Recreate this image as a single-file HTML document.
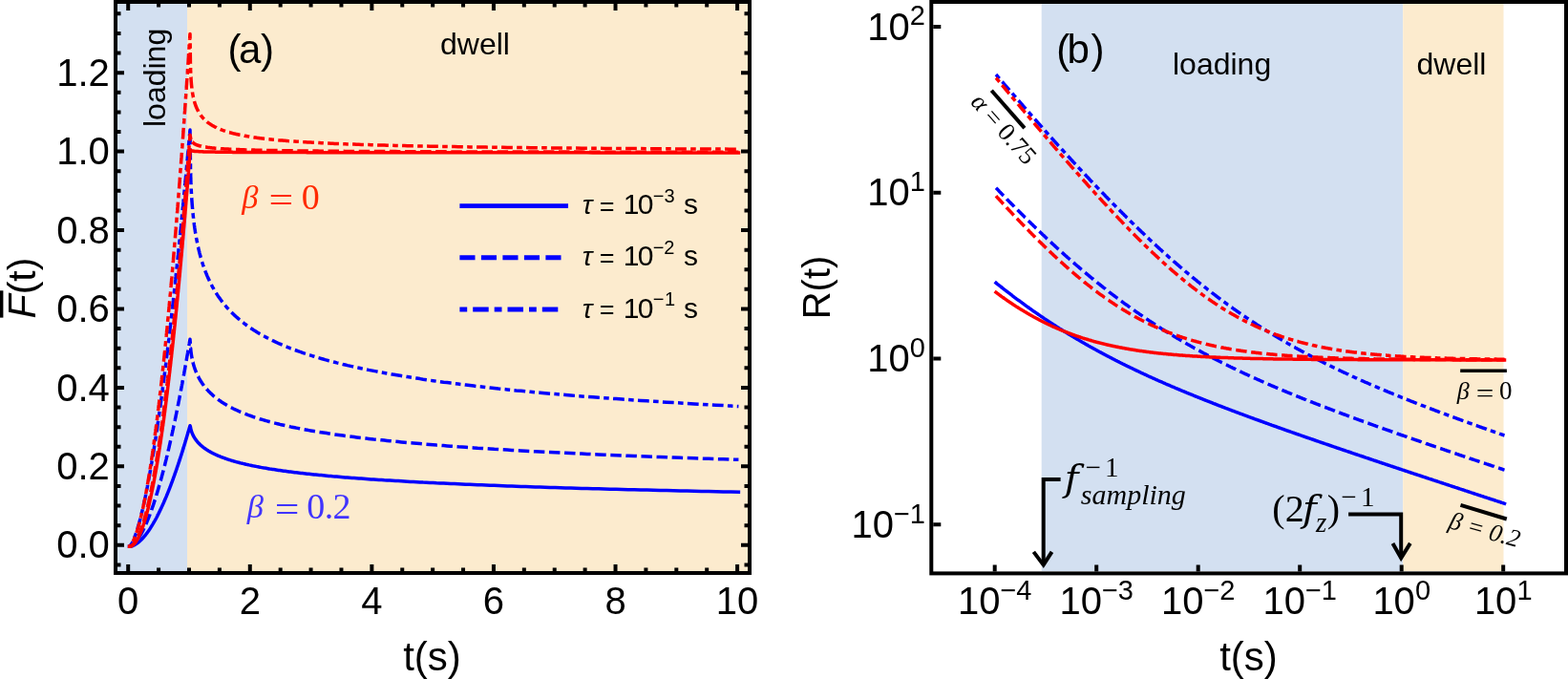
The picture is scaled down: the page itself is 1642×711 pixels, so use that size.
<!DOCTYPE html>
<html><head><meta charset="utf-8"><title>figure</title>
<style>html,body{margin:0;padding:0;background:#fff;}svg{display:block;}</style>
</head><body>
<svg width="1642" height="711" viewBox="0 0 1642 711"><rect x="123" y="4" width="73" height="594" fill="#d3e0f1"/>
<rect x="196" y="4" width="587" height="594" fill="#fcebce"/>
<path d="M135.5,572.2 L135.7,572.2 L135.8,572.2 L136.0,572.2 L136.1,572.2 L136.3,572.1 L136.5,572.1 L136.6,572.1 L136.8,572.1 L136.9,572.0 L137.1,572.0 L137.2,572.0 L137.4,571.9 L137.6,571.9 L137.7,571.8 L137.9,571.8 L138.0,571.8 L138.2,571.7 L138.4,571.7 L138.5,571.6 L138.7,571.5 L138.8,571.5 L139.0,571.4 L139.2,571.4 L139.3,571.3 L139.5,571.2 L139.6,571.2 L139.8,571.1 L140.0,571.0 L140.1,571.0 L140.3,570.9 L140.4,570.8 L140.6,570.7 L140.7,570.6 L140.9,570.6 L141.1,570.5 L141.2,570.4 L141.4,570.3 L141.5,570.2 L141.7,570.1 L141.9,570.0 L142.0,569.9 L142.2,569.8 L142.3,569.7 L142.5,569.6 L142.7,569.5 L142.8,569.4 L143.0,569.3 L143.1,569.2 L143.3,569.1 L143.5,569.0 L143.6,568.9 L143.8,568.8 L143.9,568.6 L144.1,568.5 L144.2,568.4 L144.4,568.3 L144.6,568.2 L144.7,568.0 L144.9,567.9 L145.0,567.8 L145.2,567.6 L145.4,567.5 L145.5,567.4 L145.7,567.2 L145.8,567.1 L146.0,567.0 L146.2,566.8 L146.3,566.7 L146.5,566.5 L146.6,566.4 L146.8,566.3 L147.0,566.1 L147.1,566.0 L147.3,565.8 L147.4,565.7 L147.6,565.5 L147.7,565.3 L147.9,565.2 L148.1,565.0 L148.2,564.9 L148.4,564.7 L148.5,564.5 L148.7,564.4 L148.9,564.2 L149.0,564.0 L149.2,563.9 L149.3,563.7 L149.5,563.5 L149.7,563.4 L149.8,563.2 L150.0,563.0 L150.1,562.8 L150.3,562.6 L150.5,562.5 L150.6,562.3 L150.8,562.1 L150.9,561.9 L151.1,561.7 L151.2,561.5 L151.4,561.3 L151.6,561.1 L151.7,561.0 L151.9,560.8 L152.0,560.6 L152.2,560.4 L152.4,560.2 L152.5,560.0 L152.7,559.8 L152.8,559.6 L153.0,559.3 L153.2,559.1 L153.3,558.9 L153.5,558.7 L153.6,558.5 L153.8,558.3 L154.0,558.1 L154.1,557.9 L154.3,557.7 L154.4,557.4 L154.6,557.2 L154.7,557.0 L154.9,556.8 L155.1,556.5 L155.2,556.3 L155.4,556.1 L155.5,555.9 L155.7,555.6 L155.9,555.4 L156.0,555.2 L156.2,554.9 L156.3,554.7 L156.5,554.5 L156.7,554.2 L156.8,554.0 L157.0,553.7 L157.1,553.5 L157.3,553.3 L157.5,553.0 L157.6,552.8 L157.8,552.5 L157.9,552.3 L158.1,552.0 L158.2,551.8 L158.4,551.5 L158.6,551.3 L158.7,551.0 L158.9,550.7 L159.0,550.5 L159.2,550.2 L159.4,550.0 L159.5,549.7 L159.7,549.4 L159.8,549.2 L160.0,548.9 L160.2,548.6 L160.3,548.4 L160.5,548.1 L160.6,547.8 L160.8,547.5 L161.0,547.3 L161.1,547.0 L161.3,546.7 L161.4,546.4 L161.6,546.2 L161.7,545.9 L161.9,545.6 L162.1,545.3 L162.2,545.0 L162.4,544.7 L162.5,544.4 L162.7,544.2 L162.9,543.9 L163.0,543.6 L163.2,543.3 L163.3,543.0 L163.5,542.7 L163.7,542.4 L163.8,542.1 L164.0,541.8 L164.1,541.5 L164.3,541.2 L164.5,540.9 L164.6,540.6 L164.8,540.3 L164.9,540.0 L165.1,539.6 L165.2,539.3 L165.4,539.0 L165.6,538.7 L165.7,538.4 L165.9,538.1 L166.0,537.8 L166.2,537.4 L166.4,537.1 L166.5,536.8 L166.7,536.5 L166.8,536.2 L167.0,535.8 L167.2,535.5 L167.3,535.2 L167.5,534.8 L167.6,534.5 L167.8,534.2 L168.0,533.8 L168.1,533.5 L168.3,533.2 L168.4,532.8 L168.6,532.5 L168.7,532.2 L168.9,531.8 L169.1,531.5 L169.2,531.1 L169.4,530.8 L169.5,530.4 L169.7,530.1 L169.9,529.8 L170.0,529.4 L170.2,529.1 L170.3,528.7 L170.5,528.3 L170.7,528.0 L170.8,527.6 L171.0,527.3 L171.1,526.9 L171.3,526.6 L171.5,526.2 L171.6,525.8 L171.8,525.5 L171.9,525.1 L172.1,524.7 L172.2,524.4 L172.4,524.0 L172.6,523.6 L172.7,523.3 L172.9,522.9 L173.0,522.5 L173.2,522.1 L173.4,521.8 L173.5,521.4 L173.7,521.0 L173.8,520.6 L174.0,520.3 L174.2,519.9 L174.3,519.5 L174.5,519.1 L174.6,518.7 L174.8,518.3 L175.0,517.9 L175.1,517.6 L175.3,517.2 L175.4,516.8 L175.6,516.4 L175.7,516.0 L175.9,515.6 L176.1,515.2 L176.2,514.8 L176.4,514.4 L176.5,514.0 L176.7,513.6 L176.9,513.2 L177.0,512.8 L177.2,512.4 L177.3,512.0 L177.5,511.6 L177.7,511.2 L177.8,510.8 L178.0,510.3 L178.1,509.9 L178.3,509.5 L178.5,509.1 L178.6,508.7 L178.8,508.3 L178.9,507.8 L179.1,507.4 L179.2,507.0 L179.4,506.6 L179.6,506.2 L179.7,505.7 L179.9,505.3 L180.0,504.9 L180.2,504.5 L180.4,504.0 L180.5,503.6 L180.7,503.2 L180.8,502.7 L181.0,502.3 L181.2,501.9 L181.3,501.4 L181.5,501.0 L181.6,500.5 L181.8,500.1 L181.9,499.7 L182.1,499.2 L182.3,498.8 L182.4,498.3 L182.6,497.9 L182.7,497.4 L182.9,497.0 L183.1,496.5 L183.2,496.1 L183.4,495.6 L183.5,495.2 L183.7,494.7 L183.9,494.3 L184.0,493.8 L184.2,493.4 L184.3,492.9 L184.5,492.4 L184.7,492.0 L184.8,491.5 L185.0,491.1 L185.1,490.6 L185.3,490.1 L185.4,489.7 L185.6,489.2 L185.8,488.7 L185.9,488.2 L186.1,487.8 L186.2,487.3 L186.4,486.8 L186.6,486.4 L186.7,485.9 L186.9,485.4 L187.0,484.9 L187.2,484.4 L187.4,484.0 L187.5,483.5 L187.7,483.0 L187.8,482.5 L188.0,482.0 L188.2,481.5 L188.3,481.0 L188.5,480.6 L188.6,480.1 L188.8,479.6 L188.9,479.1 L189.1,478.6 L189.3,478.1 L189.4,477.6 L189.6,477.1 L189.7,476.6 L189.9,476.1 L190.1,475.6 L190.2,475.1 L190.4,474.6 L190.5,474.1 L190.7,473.6 L190.9,473.1 L191.0,472.6 L191.2,472.1 L191.3,471.5 L191.5,471.0 L191.7,470.5 L191.8,470.0 L192.0,469.5 L192.1,469.0 L192.3,468.5 L192.4,467.9 L192.6,467.4 L192.8,466.9 L192.9,466.4 L193.1,465.9 L193.2,465.3 L193.4,464.8 L193.6,464.3 L193.7,463.8 L193.9,463.2 L194.0,462.7 L194.2,462.2 L194.4,461.6 L194.5,461.1 L194.7,460.6 L194.8,460.0 L195.0,459.5 L195.2,459.0 L195.3,458.4 L195.5,457.9 L195.6,457.3 L195.8,456.8 L195.9,456.3 L196.1,455.7 L196.3,455.2 L196.4,454.6 L196.6,454.1 L196.7,453.5 L196.9,453.0 L197.1,452.4 L197.2,451.9 L197.4,451.3 L197.5,450.8 L197.7,450.2 L197.9,449.7 L198.0,449.1 L198.2,448.5 L198.3,448.0 L198.5,447.4 L198.7,446.9 L198.8,446.3 L199.0,445.7 L199.4,446.8 L199.4,446.8 L199.4,446.8 L199.4,446.8 L199.4,446.8 L199.4,446.8 L199.4,446.9 L199.4,446.9 L199.4,446.9 L199.4,446.9 L199.4,446.9 L199.4,446.9 L199.4,446.9 L199.4,447.0 L199.4,447.0 L199.4,447.0 L199.4,447.0 L199.5,447.0 L199.5,447.0 L199.5,447.1 L199.5,447.1 L199.5,447.1 L199.5,447.1 L199.5,447.1 L199.5,447.2 L199.5,447.2 L199.5,447.2 L199.5,447.2 L199.5,447.2 L199.5,447.2 L199.5,447.3 L199.5,447.3 L199.5,447.3 L199.5,447.3 L199.5,447.3 L199.5,447.4 L199.5,447.4 L199.5,447.4 L199.5,447.4 L199.5,447.4 L199.5,447.5 L199.5,447.5 L199.5,447.5 L199.5,447.5 L199.5,447.5 L199.5,447.6 L199.5,447.6 L199.5,447.6 L199.5,447.6 L199.5,447.6 L199.5,447.7 L199.6,447.7 L199.6,447.7 L199.6,447.7 L199.6,447.8 L199.6,447.8 L199.6,447.8 L199.6,447.8 L199.6,447.9 L199.6,447.9 L199.6,447.9 L199.6,447.9 L199.6,448.0 L199.6,448.0 L199.6,448.0 L199.6,448.0 L199.6,448.0 L199.6,448.1 L199.6,448.1 L199.6,448.1 L199.6,448.2 L199.6,448.2 L199.6,448.2 L199.6,448.2 L199.7,448.3 L199.7,448.3 L199.7,448.3 L199.7,448.3 L199.7,448.4 L199.7,448.4 L199.7,448.4 L199.7,448.5 L199.7,448.5 L199.7,448.5 L199.7,448.5 L199.7,448.6 L199.7,448.6 L199.7,448.6 L199.7,448.7 L199.7,448.7 L199.7,448.7 L199.7,448.7 L199.8,448.8 L199.8,448.8 L199.8,448.8 L199.8,448.9 L199.8,448.9 L199.8,448.9 L199.8,449.0 L199.8,449.0 L199.8,449.0 L199.8,449.1 L199.8,449.1 L199.8,449.1 L199.8,449.2 L199.8,449.2 L199.9,449.2 L199.9,449.3 L199.9,449.3 L199.9,449.3 L199.9,449.4 L199.9,449.4 L199.9,449.5 L199.9,449.5 L199.9,449.5 L199.9,449.6 L199.9,449.6 L199.9,449.6 L200.0,449.7 L200.0,449.7 L200.0,449.8 L200.0,449.8 L200.0,449.8 L200.0,449.9 L200.0,449.9 L200.0,450.0 L200.0,450.0 L200.0,450.0 L200.1,450.1 L200.1,450.1 L200.1,450.2 L200.1,450.2 L200.1,450.2 L200.1,450.3 L200.1,450.3 L200.1,450.4 L200.2,450.4 L200.2,450.5 L200.2,450.5 L200.2,450.6 L200.2,450.6 L200.2,450.6 L200.2,450.7 L200.2,450.7 L200.3,450.8 L200.3,450.8 L200.3,450.9 L200.3,450.9 L200.3,451.0 L200.3,451.0 L200.3,451.1 L200.4,451.1 L200.4,451.2 L200.4,451.2 L200.4,451.3 L200.4,451.3 L200.4,451.4 L200.4,451.4 L200.5,451.5 L200.5,451.5 L200.5,451.6 L200.5,451.6 L200.5,451.7 L200.5,451.7 L200.6,451.8 L200.6,451.8 L200.6,451.9 L200.6,452.0 L200.6,452.0 L200.7,452.1 L200.7,452.1 L200.7,452.2 L200.7,452.2 L200.7,452.3 L200.8,452.4 L200.8,452.4 L200.8,452.5 L200.8,452.5 L200.8,452.6 L200.9,452.7 L200.9,452.7 L200.9,452.8 L200.9,452.8 L201.0,452.9 L201.0,453.0 L201.0,453.0 L201.0,453.1 L201.1,453.2 L201.1,453.2 L201.1,453.3 L201.1,453.3 L201.2,453.4 L201.2,453.5 L201.2,453.5 L201.2,453.6 L201.3,453.7 L201.3,453.8 L201.3,453.8 L201.3,453.9 L201.4,454.0 L201.4,454.0 L201.4,454.1 L201.5,454.2 L201.5,454.2 L201.5,454.3 L201.6,454.4 L201.6,454.5 L201.6,454.5 L201.7,454.6 L201.7,454.7 L201.7,454.8 L201.8,454.8 L201.8,454.9 L201.8,455.0 L201.9,455.1 L201.9,455.1 L201.9,455.2 L202.0,455.3 L202.0,455.4 L202.1,455.5 L202.1,455.5 L202.1,455.6 L202.2,455.7 L202.2,455.8 L202.3,455.9 L202.3,456.0 L202.3,456.0 L202.4,456.1 L202.4,456.2 L202.5,456.3 L202.5,456.4 L202.6,456.5 L202.6,456.6 L202.7,456.6 L202.7,456.7 L202.7,456.8 L202.8,456.9 L202.8,457.0 L202.9,457.1 L202.9,457.2 L203.0,457.3 L203.1,457.4 L203.1,457.5 L203.2,457.5 L203.2,457.6 L203.3,457.7 L203.3,457.8 L203.4,457.9 L203.4,458.0 L203.5,458.1 L203.6,458.2 L203.6,458.3 L203.7,458.4 L203.7,458.5 L203.8,458.6 L203.9,458.7 L203.9,458.8 L204.0,458.9 L204.1,459.0 L204.1,459.1 L204.2,459.2 L204.3,459.3 L204.3,459.4 L204.4,459.5 L204.5,459.6 L204.6,459.7 L204.6,459.9 L204.7,460.0 L204.8,460.1 L204.9,460.2 L204.9,460.3 L205.0,460.4 L205.1,460.5 L205.2,460.6 L205.3,460.7 L205.4,460.8 L205.4,461.0 L205.5,461.1 L205.6,461.2 L205.7,461.3 L205.8,461.4 L205.9,461.5 L206.0,461.7 L206.1,461.8 L206.2,461.9 L206.3,462.0 L206.4,462.1 L206.5,462.2 L206.6,462.4 L206.7,462.5 L206.8,462.6 L206.9,462.7 L207.0,462.9 L207.1,463.0 L207.2,463.1 L207.3,463.2 L207.4,463.4 L207.6,463.5 L207.7,463.6 L207.8,463.7 L207.9,463.9 L208.0,464.0 L208.2,464.1 L208.3,464.3 L208.4,464.4 L208.5,464.5 L208.7,464.6 L208.8,464.8 L208.9,464.9 L209.1,465.0 L209.2,465.2 L209.3,465.3 L209.5,465.5 L209.6,465.6 L209.8,465.7 L209.9,465.9 L210.1,466.0 L210.2,466.1 L210.4,466.3 L210.5,466.4 L210.7,466.6 L210.9,466.7 L211.0,466.8 L211.2,467.0 L211.4,467.1 L211.5,467.3 L211.7,467.4 L211.9,467.6 L212.1,467.7 L212.2,467.9 L212.4,468.0 L212.6,468.1 L212.8,468.3 L213.0,468.4 L213.2,468.6 L213.4,468.7 L213.6,468.9 L213.8,469.0 L214.0,469.2 L214.2,469.3 L214.4,469.5 L214.6,469.7 L214.8,469.8 L215.1,470.0 L215.3,470.1 L215.5,470.3 L215.7,470.4 L216.0,470.6 L216.2,470.7 L216.4,470.9 L216.7,471.1 L216.9,471.2 L217.2,471.4 L217.4,471.5 L217.7,471.7 L217.9,471.8 L218.2,472.0 L218.5,472.2 L218.8,472.3 L219.0,472.5 L219.3,472.7 L219.6,472.8 L219.9,473.0 L220.2,473.2 L220.5,473.3 L220.8,473.5 L221.1,473.6 L221.4,473.8 L221.7,474.0 L222.0,474.1 L222.3,474.3 L222.6,474.5 L223.0,474.7 L223.3,474.8 L223.7,475.0 L224.0,475.2 L224.3,475.3 L224.7,475.5 L225.1,475.7 L225.4,475.8 L225.8,476.0 L226.2,476.2 L226.6,476.4 L226.9,476.5 L227.3,476.7 L227.7,476.9 L228.1,477.1 L228.5,477.2 L228.9,477.4 L229.4,477.6 L229.8,477.8 L230.2,477.9 L230.7,478.1 L231.1,478.3 L231.6,478.5 L232.0,478.7 L232.5,478.8 L232.9,479.0 L233.4,479.2 L233.9,479.4 L234.4,479.5 L234.9,479.7 L235.4,479.9 L235.9,480.1 L236.4,480.3 L236.9,480.4 L237.5,480.6 L238.0,480.8 L238.6,481.0 L239.1,481.2 L239.7,481.4 L240.3,481.5 L240.8,481.7 L241.4,481.9 L242.0,482.1 L242.6,482.3 L243.2,482.5 L243.9,482.6 L244.5,482.8 L245.1,483.0 L245.8,483.2 L246.4,483.4 L247.1,483.6 L247.8,483.8 L248.5,483.9 L249.2,484.1 L249.9,484.3 L250.6,484.5 L251.3,484.7 L252.0,484.9 L252.8,485.1 L253.5,485.2 L254.3,485.4 L255.1,485.6 L255.9,485.8 L256.7,486.0 L257.5,486.2 L258.3,486.4 L259.1,486.6 L260.0,486.7 L260.8,486.9 L261.7,487.1 L262.6,487.3 L263.5,487.5 L264.4,487.7 L265.3,487.9 L266.3,488.1 L267.2,488.2 L268.2,488.4 L269.1,488.6 L270.1,488.8 L271.1,489.0 L272.1,489.2 L273.2,489.4 L274.2,489.6 L275.3,489.8 L276.4,489.9 L277.4,490.1 L278.6,490.3 L279.7,490.5 L280.8,490.7 L282.0,490.9 L283.1,491.1 L284.3,491.3 L285.5,491.5 L286.7,491.6 L288.0,491.8 L289.2,492.0 L290.5,492.2 L291.8,492.4 L293.1,492.6 L294.4,492.8 L295.8,493.0 L297.1,493.2 L298.5,493.3 L299.9,493.5 L301.3,493.7 L302.8,493.9 L304.3,494.1 L305.7,494.3 L307.2,494.5 L308.8,494.7 L310.3,494.8 L311.9,495.0 L313.5,495.2 L315.1,495.4 L316.7,495.6 L318.4,495.8 L320.1,496.0 L321.8,496.2 L323.5,496.3 L325.3,496.5 L327.1,496.7 L328.9,496.9 L330.7,497.1 L332.6,497.3 L334.4,497.5 L336.4,497.6 L338.3,497.8 L340.3,498.0 L342.2,498.2 L344.3,498.4 L346.3,498.6 L348.4,498.8 L350.5,498.9 L352.6,499.1 L354.8,499.3 L357.0,499.5 L359.2,499.7 L361.5,499.9 L363.8,500.0 L366.1,500.2 L368.5,500.4 L370.9,500.6 L373.3,500.8 L375.8,501.0 L378.3,501.1 L380.8,501.3 L383.4,501.5 L386.0,501.7 L388.6,501.9 L391.3,502.0 L394.0,502.2 L396.8,502.4 L399.5,502.6 L402.4,502.8 L405.2,502.9 L408.2,503.1 L411.1,503.3 L414.1,503.5 L417.1,503.6 L420.2,503.8 L423.4,504.0 L426.5,504.2 L429.7,504.4 L433.0,504.5 L436.3,504.7 L439.7,504.9 L443.1,505.1 L446.5,505.2 L450.0,505.4 L453.5,505.6 L457.1,505.8 L460.8,505.9 L464.5,506.1 L468.2,506.3 L472.0,506.5 L475.9,506.6 L479.8,506.8 L483.8,507.0 L487.8,507.2 L491.9,507.3 L496.0,507.5 L500.2,507.7 L504.5,507.8 L508.8,508.0 L513.2,508.2 L517.6,508.3 L522.1,508.5 L526.7,508.7 L531.3,508.9 L536.0,509.0 L540.7,509.2 L545.6,509.4 L550.5,509.5 L555.4,509.7 L560.5,509.9 L565.6,510.0 L570.8,510.2 L576.0,510.4 L581.3,510.5 L586.8,510.7 L592.2,510.9 L597.8,511.0 L603.4,511.2 L609.1,511.4 L614.9,511.5 L620.8,511.7 L626.8,511.8 L632.8,512.0 L638.9,512.2 L645.2,512.3 L651.5,512.5 L657.9,512.7 L664.4,512.8 L670.9,513.0 L677.6,513.1 L684.4,513.3 L691.2,513.5 L698.2,513.6 L705.2,513.8 L712.4,513.9 L719.6,514.1 L727.0,514.2 L734.5,514.4 L742.0,514.6 L749.7,514.7 L757.5,514.9 L765.4,515.0 L773.4,515.2" fill="none" stroke="#0000ff" stroke-width="3.50" stroke-linejoin="round" stroke-linecap="square"/>
<path d="M135.5,572.2 L135.7,572.2 L135.8,572.2 L136.0,572.1 L136.1,572.1 L136.3,572.0 L136.5,572.0 L136.6,571.9 L136.8,571.9 L136.9,571.8 L137.1,571.7 L137.2,571.6 L137.4,571.6 L137.6,571.5 L137.7,571.4 L137.9,571.3 L138.0,571.2 L138.2,571.1 L138.4,571.0 L138.5,570.9 L138.7,570.8 L138.8,570.7 L139.0,570.5 L139.2,570.4 L139.3,570.3 L139.5,570.2 L139.6,570.0 L139.8,569.9 L140.0,569.7 L140.1,569.6 L140.3,569.5 L140.4,569.3 L140.6,569.2 L140.7,569.0 L140.9,568.8 L141.1,568.7 L141.2,568.5 L141.4,568.3 L141.5,568.2 L141.7,568.0 L141.9,567.8 L142.0,567.6 L142.2,567.5 L142.3,567.3 L142.5,567.1 L142.7,566.9 L142.8,566.7 L143.0,566.5 L143.1,566.3 L143.3,566.1 L143.5,565.9 L143.6,565.7 L143.8,565.5 L143.9,565.2 L144.1,565.0 L144.2,564.8 L144.4,564.6 L144.6,564.3 L144.7,564.1 L144.9,563.9 L145.0,563.7 L145.2,563.4 L145.4,563.2 L145.5,562.9 L145.7,562.7 L145.8,562.4 L146.0,562.2 L146.2,561.9 L146.3,561.7 L146.5,561.4 L146.6,561.1 L146.8,560.9 L147.0,560.6 L147.1,560.3 L147.3,560.1 L147.4,559.8 L147.6,559.5 L147.7,559.2 L147.9,559.0 L148.1,558.7 L148.2,558.4 L148.4,558.1 L148.5,557.8 L148.7,557.5 L148.9,557.2 L149.0,556.9 L149.2,556.6 L149.3,556.3 L149.5,556.0 L149.7,555.7 L149.8,555.4 L150.0,555.0 L150.1,554.7 L150.3,554.4 L150.5,554.1 L150.6,553.7 L150.8,553.4 L150.9,553.1 L151.1,552.7 L151.2,552.4 L151.4,552.1 L151.6,551.7 L151.7,551.4 L151.9,551.0 L152.0,550.7 L152.2,550.3 L152.4,550.0 L152.5,549.6 L152.7,549.3 L152.8,548.9 L153.0,548.6 L153.2,548.2 L153.3,547.8 L153.5,547.4 L153.6,547.1 L153.8,546.7 L154.0,546.3 L154.1,545.9 L154.3,545.6 L154.4,545.2 L154.6,544.8 L154.7,544.4 L154.9,544.0 L155.1,543.6 L155.2,543.2 L155.4,542.8 L155.5,542.4 L155.7,542.0 L155.9,541.6 L156.0,541.2 L156.2,540.8 L156.3,540.4 L156.5,540.0 L156.7,539.6 L156.8,539.1 L157.0,538.7 L157.1,538.3 L157.3,537.9 L157.5,537.4 L157.6,537.0 L157.8,536.6 L157.9,536.1 L158.1,535.7 L158.2,535.3 L158.4,534.8 L158.6,534.4 L158.7,533.9 L158.9,533.5 L159.0,533.0 L159.2,532.6 L159.4,532.1 L159.5,531.7 L159.7,531.2 L159.8,530.7 L160.0,530.3 L160.2,529.8 L160.3,529.3 L160.5,528.9 L160.6,528.4 L160.8,527.9 L161.0,527.5 L161.1,527.0 L161.3,526.5 L161.4,526.0 L161.6,525.5 L161.7,525.0 L161.9,524.5 L162.1,524.0 L162.2,523.6 L162.4,523.1 L162.5,522.6 L162.7,522.1 L162.9,521.6 L163.0,521.0 L163.2,520.5 L163.3,520.0 L163.5,519.5 L163.7,519.0 L163.8,518.5 L164.0,518.0 L164.1,517.4 L164.3,516.9 L164.5,516.4 L164.6,515.9 L164.8,515.3 L164.9,514.8 L165.1,514.3 L165.2,513.7 L165.4,513.2 L165.6,512.7 L165.7,512.1 L165.9,511.6 L166.0,511.0 L166.2,510.5 L166.4,509.9 L166.5,509.4 L166.7,508.8 L166.8,508.3 L167.0,507.7 L167.2,507.2 L167.3,506.6 L167.5,506.0 L167.6,505.5 L167.8,504.9 L168.0,504.3 L168.1,503.7 L168.3,503.2 L168.4,502.6 L168.6,502.0 L168.7,501.4 L168.9,500.8 L169.1,500.3 L169.2,499.7 L169.4,499.1 L169.5,498.5 L169.7,497.9 L169.9,497.3 L170.0,496.7 L170.2,496.1 L170.3,495.5 L170.5,494.9 L170.7,494.3 L170.8,493.7 L171.0,493.1 L171.1,492.5 L171.3,491.8 L171.5,491.2 L171.6,490.6 L171.8,490.0 L171.9,489.4 L172.1,488.7 L172.2,488.1 L172.4,487.5 L172.6,486.9 L172.7,486.2 L172.9,485.6 L173.0,485.0 L173.2,484.3 L173.4,483.7 L173.5,483.0 L173.7,482.4 L173.8,481.7 L174.0,481.1 L174.2,480.4 L174.3,479.8 L174.5,479.1 L174.6,478.5 L174.8,477.8 L175.0,477.2 L175.1,476.5 L175.3,475.8 L175.4,475.2 L175.6,474.5 L175.7,473.8 L175.9,473.1 L176.1,472.5 L176.2,471.8 L176.4,471.1 L176.5,470.4 L176.7,469.8 L176.9,469.1 L177.0,468.4 L177.2,467.7 L177.3,467.0 L177.5,466.3 L177.7,465.6 L177.8,464.9 L178.0,464.2 L178.1,463.5 L178.3,462.8 L178.5,462.1 L178.6,461.4 L178.8,460.7 L178.9,460.0 L179.1,459.3 L179.2,458.6 L179.4,457.8 L179.6,457.1 L179.7,456.4 L179.9,455.7 L180.0,455.0 L180.2,454.2 L180.4,453.5 L180.5,452.8 L180.7,452.0 L180.8,451.3 L181.0,450.6 L181.2,449.8 L181.3,449.1 L181.5,448.4 L181.6,447.6 L181.8,446.9 L181.9,446.1 L182.1,445.4 L182.3,444.6 L182.4,443.9 L182.6,443.1 L182.7,442.4 L182.9,441.6 L183.1,440.8 L183.2,440.1 L183.4,439.3 L183.5,438.5 L183.7,437.8 L183.9,437.0 L184.0,436.2 L184.2,435.5 L184.3,434.7 L184.5,433.9 L184.7,433.1 L184.8,432.3 L185.0,431.6 L185.1,430.8 L185.3,430.0 L185.4,429.2 L185.6,428.4 L185.8,427.6 L185.9,426.8 L186.1,426.0 L186.2,425.2 L186.4,424.4 L186.6,423.6 L186.7,422.8 L186.9,422.0 L187.0,421.2 L187.2,420.4 L187.4,419.6 L187.5,418.8 L187.7,418.0 L187.8,417.1 L188.0,416.3 L188.2,415.5 L188.3,414.7 L188.5,413.9 L188.6,413.0 L188.8,412.2 L188.9,411.4 L189.1,410.5 L189.3,409.7 L189.4,408.9 L189.6,408.0 L189.7,407.2 L189.9,406.3 L190.1,405.5 L190.2,404.7 L190.4,403.8 L190.5,403.0 L190.7,402.1 L190.9,401.3 L191.0,400.4 L191.2,399.5 L191.3,398.7 L191.5,397.8 L191.7,397.0 L191.8,396.1 L192.0,395.2 L192.1,394.4 L192.3,393.5 L192.4,392.6 L192.6,391.8 L192.8,390.9 L192.9,390.0 L193.1,389.1 L193.2,388.2 L193.4,387.4 L193.6,386.5 L193.7,385.6 L193.9,384.7 L194.0,383.8 L194.2,382.9 L194.4,382.0 L194.5,381.1 L194.7,380.2 L194.8,379.3 L195.0,378.4 L195.2,377.5 L195.3,376.6 L195.5,375.7 L195.6,374.8 L195.8,373.9 L195.9,373.0 L196.1,372.1 L196.3,371.2 L196.4,370.2 L196.6,369.3 L196.7,368.4 L196.9,367.5 L197.1,366.6 L197.2,365.6 L197.4,364.7 L197.5,363.8 L197.7,362.8 L197.9,361.9 L198.0,361.0 L198.2,360.0 L198.3,359.1 L198.5,358.2 L198.7,357.2 L198.8,356.3 L199.0,355.3 L199.4,361.2 L199.4,361.2 L199.4,361.3 L199.4,361.3 L199.4,361.4 L199.4,361.4 L199.4,361.4 L199.4,361.5 L199.4,361.5 L199.4,361.6 L199.4,361.6 L199.4,361.6 L199.4,361.7 L199.4,361.7 L199.4,361.8 L199.4,361.8 L199.4,361.8 L199.5,361.9 L199.5,361.9 L199.5,362.0 L199.5,362.0 L199.5,362.1 L199.5,362.1 L199.5,362.1 L199.5,362.2 L199.5,362.2 L199.5,362.3 L199.5,362.3 L199.5,362.4 L199.5,362.4 L199.5,362.5 L199.5,362.5 L199.5,362.6 L199.5,362.6 L199.5,362.7 L199.5,362.7 L199.5,362.7 L199.5,362.8 L199.5,362.8 L199.5,362.9 L199.5,362.9 L199.5,363.0 L199.5,363.0 L199.5,363.1 L199.5,363.1 L199.5,363.2 L199.5,363.2 L199.5,363.3 L199.5,363.3 L199.5,363.4 L199.5,363.4 L199.6,363.5 L199.6,363.6 L199.6,363.6 L199.6,363.7 L199.6,363.7 L199.6,363.8 L199.6,363.8 L199.6,363.9 L199.6,363.9 L199.6,364.0 L199.6,364.0 L199.6,364.1 L199.6,364.2 L199.6,364.2 L199.6,364.3 L199.6,364.3 L199.6,364.4 L199.6,364.5 L199.6,364.5 L199.6,364.6 L199.6,364.6 L199.6,364.7 L199.6,364.8 L199.7,364.8 L199.7,364.9 L199.7,364.9 L199.7,365.0 L199.7,365.1 L199.7,365.1 L199.7,365.2 L199.7,365.3 L199.7,365.3 L199.7,365.4 L199.7,365.4 L199.7,365.5 L199.7,365.6 L199.7,365.6 L199.7,365.7 L199.7,365.8 L199.7,365.8 L199.7,365.9 L199.8,366.0 L199.8,366.1 L199.8,366.1 L199.8,366.2 L199.8,366.3 L199.8,366.3 L199.8,366.4 L199.8,366.5 L199.8,366.6 L199.8,366.6 L199.8,366.7 L199.8,366.8 L199.8,366.8 L199.8,366.9 L199.9,367.0 L199.9,367.1 L199.9,367.2 L199.9,367.2 L199.9,367.3 L199.9,367.4 L199.9,367.5 L199.9,367.5 L199.9,367.6 L199.9,367.7 L199.9,367.8 L199.9,367.9 L200.0,367.9 L200.0,368.0 L200.0,368.1 L200.0,368.2 L200.0,368.3 L200.0,368.4 L200.0,368.4 L200.0,368.5 L200.0,368.6 L200.0,368.7 L200.1,368.8 L200.1,368.9 L200.1,369.0 L200.1,369.1 L200.1,369.1 L200.1,369.2 L200.1,369.3 L200.1,369.4 L200.2,369.5 L200.2,369.6 L200.2,369.7 L200.2,369.8 L200.2,369.9 L200.2,370.0 L200.2,370.1 L200.2,370.2 L200.3,370.3 L200.3,370.4 L200.3,370.5 L200.3,370.5 L200.3,370.6 L200.3,370.7 L200.3,370.8 L200.4,370.9 L200.4,371.1 L200.4,371.2 L200.4,371.3 L200.4,371.4 L200.4,371.5 L200.4,371.6 L200.5,371.7 L200.5,371.8 L200.5,371.9 L200.5,372.0 L200.5,372.1 L200.5,372.2 L200.6,372.3 L200.6,372.4 L200.6,372.5 L200.6,372.7 L200.6,372.8 L200.7,372.9 L200.7,373.0 L200.7,373.1 L200.7,373.2 L200.7,373.3 L200.8,373.5 L200.8,373.6 L200.8,373.7 L200.8,373.8 L200.8,373.9 L200.9,374.0 L200.9,374.2 L200.9,374.3 L200.9,374.4 L201.0,374.5 L201.0,374.7 L201.0,374.8 L201.0,374.9 L201.1,375.0 L201.1,375.2 L201.1,375.3 L201.1,375.4 L201.2,375.5 L201.2,375.7 L201.2,375.8 L201.2,375.9 L201.3,376.1 L201.3,376.2 L201.3,376.3 L201.3,376.5 L201.4,376.6 L201.4,376.8 L201.4,376.9 L201.5,377.0 L201.5,377.2 L201.5,377.3 L201.6,377.4 L201.6,377.6 L201.6,377.7 L201.7,377.9 L201.7,378.0 L201.7,378.2 L201.8,378.3 L201.8,378.5 L201.8,378.6 L201.9,378.8 L201.9,378.9 L201.9,379.1 L202.0,379.2 L202.0,379.4 L202.1,379.5 L202.1,379.7 L202.1,379.8 L202.2,380.0 L202.2,380.1 L202.3,380.3 L202.3,380.4 L202.3,380.6 L202.4,380.8 L202.4,380.9 L202.5,381.1 L202.5,381.2 L202.6,381.4 L202.6,381.6 L202.7,381.7 L202.7,381.9 L202.7,382.1 L202.8,382.2 L202.8,382.4 L202.9,382.6 L202.9,382.8 L203.0,382.9 L203.1,383.1 L203.1,383.3 L203.2,383.4 L203.2,383.6 L203.3,383.8 L203.3,384.0 L203.4,384.2 L203.4,384.3 L203.5,384.5 L203.6,384.7 L203.6,384.9 L203.7,385.1 L203.7,385.2 L203.8,385.4 L203.9,385.6 L203.9,385.8 L204.0,386.0 L204.1,386.2 L204.1,386.4 L204.2,386.6 L204.3,386.8 L204.3,387.0 L204.4,387.1 L204.5,387.3 L204.6,387.5 L204.6,387.7 L204.7,387.9 L204.8,388.1 L204.9,388.3 L204.9,388.5 L205.0,388.7 L205.1,388.9 L205.2,389.1 L205.3,389.3 L205.4,389.6 L205.4,389.8 L205.5,390.0 L205.6,390.2 L205.7,390.4 L205.8,390.6 L205.9,390.8 L206.0,391.0 L206.1,391.2 L206.2,391.4 L206.3,391.7 L206.4,391.9 L206.5,392.1 L206.6,392.3 L206.7,392.5 L206.8,392.8 L206.9,393.0 L207.0,393.2 L207.1,393.4 L207.2,393.7 L207.3,393.9 L207.4,394.1 L207.6,394.3 L207.7,394.6 L207.8,394.8 L207.9,395.0 L208.0,395.3 L208.2,395.5 L208.3,395.7 L208.4,396.0 L208.5,396.2 L208.7,396.4 L208.8,396.7 L208.9,396.9 L209.1,397.1 L209.2,397.4 L209.3,397.6 L209.5,397.9 L209.6,398.1 L209.8,398.3 L209.9,398.6 L210.1,398.8 L210.2,399.1 L210.4,399.3 L210.5,399.6 L210.7,399.8 L210.9,400.1 L211.0,400.3 L211.2,400.6 L211.4,400.8 L211.5,401.1 L211.7,401.4 L211.9,401.6 L212.1,401.9 L212.2,402.1 L212.4,402.4 L212.6,402.6 L212.8,402.9 L213.0,403.2 L213.2,403.4 L213.4,403.7 L213.6,404.0 L213.8,404.2 L214.0,404.5 L214.2,404.7 L214.4,405.0 L214.6,405.3 L214.8,405.6 L215.1,405.8 L215.3,406.1 L215.5,406.4 L215.7,406.6 L216.0,406.9 L216.2,407.2 L216.4,407.5 L216.7,407.7 L216.9,408.0 L217.2,408.3 L217.4,408.6 L217.7,408.8 L217.9,409.1 L218.2,409.4 L218.5,409.7 L218.8,410.0 L219.0,410.3 L219.3,410.5 L219.6,410.8 L219.9,411.1 L220.2,411.4 L220.5,411.7 L220.8,412.0 L221.1,412.3 L221.4,412.5 L221.7,412.8 L222.0,413.1 L222.3,413.4 L222.6,413.7 L223.0,414.0 L223.3,414.3 L223.7,414.6 L224.0,414.9 L224.3,415.2 L224.7,415.5 L225.1,415.8 L225.4,416.1 L225.8,416.3 L226.2,416.6 L226.6,416.9 L226.9,417.2 L227.3,417.5 L227.7,417.8 L228.1,418.1 L228.5,418.4 L228.9,418.7 L229.4,419.0 L229.8,419.3 L230.2,419.6 L230.7,419.9 L231.1,420.3 L231.6,420.6 L232.0,420.9 L232.5,421.2 L232.9,421.5 L233.4,421.8 L233.9,422.1 L234.4,422.4 L234.9,422.7 L235.4,423.0 L235.9,423.3 L236.4,423.6 L236.9,423.9 L237.5,424.2 L238.0,424.5 L238.6,424.9 L239.1,425.2 L239.7,425.5 L240.3,425.8 L240.8,426.1 L241.4,426.4 L242.0,426.7 L242.6,427.0 L243.2,427.3 L243.9,427.7 L244.5,428.0 L245.1,428.3 L245.8,428.6 L246.4,428.9 L247.1,429.2 L247.8,429.5 L248.5,429.8 L249.2,430.2 L249.9,430.5 L250.6,430.8 L251.3,431.1 L252.0,431.4 L252.8,431.7 L253.5,432.1 L254.3,432.4 L255.1,432.7 L255.9,433.0 L256.7,433.3 L257.5,433.6 L258.3,433.9 L259.1,434.3 L260.0,434.6 L260.8,434.9 L261.7,435.2 L262.6,435.5 L263.5,435.8 L264.4,436.2 L265.3,436.5 L266.3,436.8 L267.2,437.1 L268.2,437.4 L269.1,437.7 L270.1,438.1 L271.1,438.4 L272.1,438.7 L273.2,439.0 L274.2,439.3 L275.3,439.6 L276.4,439.9 L277.4,440.3 L278.6,440.6 L279.7,440.9 L280.8,441.2 L282.0,441.5 L283.1,441.8 L284.3,442.2 L285.5,442.5 L286.7,442.8 L288.0,443.1 L289.2,443.4 L290.5,443.7 L291.8,444.0 L293.1,444.4 L294.4,444.7 L295.8,445.0 L297.1,445.3 L298.5,445.6 L299.9,445.9 L301.3,446.2 L302.8,446.5 L304.3,446.9 L305.7,447.2 L307.2,447.5 L308.8,447.8 L310.3,448.1 L311.9,448.4 L313.5,448.7 L315.1,449.0 L316.7,449.3 L318.4,449.7 L320.1,450.0 L321.8,450.3 L323.5,450.6 L325.3,450.9 L327.1,451.2 L328.9,451.5 L330.7,451.8 L332.6,452.1 L334.4,452.4 L336.4,452.7 L338.3,453.0 L340.3,453.3 L342.2,453.6 L344.3,453.9 L346.3,454.3 L348.4,454.6 L350.5,454.9 L352.6,455.2 L354.8,455.5 L357.0,455.8 L359.2,456.1 L361.5,456.4 L363.8,456.7 L366.1,457.0 L368.5,457.3 L370.9,457.6 L373.3,457.9 L375.8,458.2 L378.3,458.5 L380.8,458.8 L383.4,459.1 L386.0,459.4 L388.6,459.7 L391.3,460.0 L394.0,460.2 L396.8,460.5 L399.5,460.8 L402.4,461.1 L405.2,461.4 L408.2,461.7 L411.1,462.0 L414.1,462.3 L417.1,462.6 L420.2,462.9 L423.4,463.2 L426.5,463.5 L429.7,463.8 L433.0,464.0 L436.3,464.3 L439.7,464.6 L443.1,464.9 L446.5,465.2 L450.0,465.5 L453.5,465.8 L457.1,466.1 L460.8,466.3 L464.5,466.6 L468.2,466.9 L472.0,467.2 L475.9,467.5 L479.8,467.8 L483.8,468.0 L487.8,468.3 L491.9,468.6 L496.0,468.9 L500.2,469.2 L504.5,469.4 L508.8,469.7 L513.2,470.0 L517.6,470.3 L522.1,470.5 L526.7,470.8 L531.3,471.1 L536.0,471.4 L540.7,471.6 L545.6,471.9 L550.5,472.2 L555.4,472.5 L560.5,472.7 L565.6,473.0 L570.8,473.3 L576.0,473.5 L581.3,473.8 L586.8,474.1 L592.2,474.3 L597.8,474.6 L603.4,474.9 L609.1,475.1 L614.9,475.4 L620.8,475.7 L626.8,475.9 L632.8,476.2 L638.9,476.5 L645.2,476.7 L651.5,477.0 L657.9,477.3 L664.4,477.5 L670.9,477.8 L677.6,478.0 L684.4,478.3 L691.2,478.5 L698.2,478.8 L705.2,479.1 L712.4,479.3 L719.6,479.6 L727.0,479.8 L734.5,480.1 L742.0,480.3 L749.7,480.6 L757.5,480.8 L765.4,481.1 L773.4,481.3" fill="none" stroke="#0000ff" stroke-width="3.50" stroke-linejoin="round" stroke-dasharray="11.5 4.6" stroke-dashoffset="1.96"/>
<path d="M135.5,572.2 L135.7,572.1 L135.8,572.0 L136.0,571.9 L136.1,571.7 L136.3,571.5 L136.5,571.4 L136.6,571.2 L136.8,571.0 L136.9,570.7 L137.1,570.5 L137.2,570.3 L137.4,570.0 L137.6,569.8 L137.7,569.5 L137.9,569.2 L138.0,569.0 L138.2,568.7 L138.4,568.4 L138.5,568.1 L138.7,567.7 L138.8,567.4 L139.0,567.1 L139.2,566.8 L139.3,566.4 L139.5,566.1 L139.6,565.7 L139.8,565.3 L140.0,565.0 L140.1,564.6 L140.3,564.2 L140.4,563.8 L140.6,563.4 L140.7,563.0 L140.9,562.6 L141.1,562.2 L141.2,561.8 L141.4,561.4 L141.5,560.9 L141.7,560.5 L141.9,560.1 L142.0,559.6 L142.2,559.1 L142.3,558.7 L142.5,558.2 L142.7,557.7 L142.8,557.3 L143.0,556.8 L143.1,556.3 L143.3,555.8 L143.5,555.3 L143.6,554.8 L143.8,554.3 L143.9,553.8 L144.1,553.2 L144.2,552.7 L144.4,552.2 L144.6,551.6 L144.7,551.1 L144.9,550.6 L145.0,550.0 L145.2,549.4 L145.4,548.9 L145.5,548.3 L145.7,547.7 L145.8,547.2 L146.0,546.6 L146.2,546.0 L146.3,545.4 L146.5,544.8 L146.6,544.2 L146.8,543.6 L147.0,543.0 L147.1,542.4 L147.3,541.7 L147.4,541.1 L147.6,540.5 L147.7,539.8 L147.9,539.2 L148.1,538.6 L148.2,537.9 L148.4,537.2 L148.5,536.6 L148.7,535.9 L148.9,535.3 L149.0,534.6 L149.2,533.9 L149.3,533.2 L149.5,532.5 L149.7,531.8 L149.8,531.1 L150.0,530.4 L150.1,529.7 L150.3,529.0 L150.5,528.3 L150.6,527.6 L150.8,526.9 L150.9,526.1 L151.1,525.4 L151.2,524.7 L151.4,523.9 L151.6,523.2 L151.7,522.4 L151.9,521.7 L152.0,520.9 L152.2,520.2 L152.4,519.4 L152.5,518.6 L152.7,517.8 L152.8,517.1 L153.0,516.3 L153.2,515.5 L153.3,514.7 L153.5,513.9 L153.6,513.1 L153.8,512.3 L154.0,511.5 L154.1,510.7 L154.3,509.8 L154.4,509.0 L154.6,508.2 L154.7,507.4 L154.9,506.5 L155.1,505.7 L155.2,504.8 L155.4,504.0 L155.5,503.1 L155.7,502.3 L155.9,501.4 L156.0,500.6 L156.2,499.7 L156.3,498.8 L156.5,498.0 L156.7,497.1 L156.8,496.2 L157.0,495.3 L157.1,494.4 L157.3,493.5 L157.5,492.6 L157.6,491.7 L157.8,490.8 L157.9,489.9 L158.1,489.0 L158.2,488.1 L158.4,487.1 L158.6,486.2 L158.7,485.3 L158.9,484.3 L159.0,483.4 L159.2,482.4 L159.4,481.5 L159.5,480.5 L159.7,479.6 L159.8,478.6 L160.0,477.7 L160.2,476.7 L160.3,475.7 L160.5,474.8 L160.6,473.8 L160.8,472.8 L161.0,471.8 L161.1,470.8 L161.3,469.8 L161.4,468.8 L161.6,467.8 L161.7,466.8 L161.9,465.8 L162.1,464.8 L162.2,463.8 L162.4,462.8 L162.5,461.7 L162.7,460.7 L162.9,459.7 L163.0,458.6 L163.2,457.6 L163.3,456.6 L163.5,455.5 L163.7,454.5 L163.8,453.4 L164.0,452.3 L164.1,451.3 L164.3,450.2 L164.5,449.1 L164.6,448.1 L164.8,447.0 L164.9,445.9 L165.1,444.8 L165.2,443.7 L165.4,442.7 L165.6,441.6 L165.7,440.5 L165.9,439.4 L166.0,438.3 L166.2,437.1 L166.4,436.0 L166.5,434.9 L166.7,433.8 L166.8,432.7 L167.0,431.5 L167.2,430.4 L167.3,429.3 L167.5,428.1 L167.6,427.0 L167.8,425.8 L168.0,424.7 L168.1,423.5 L168.3,422.4 L168.4,421.2 L168.6,420.1 L168.7,418.9 L168.9,417.7 L169.1,416.5 L169.2,415.4 L169.4,414.2 L169.5,413.0 L169.7,411.8 L169.9,410.6 L170.0,409.4 L170.2,408.2 L170.3,407.0 L170.5,405.8 L170.7,404.6 L170.8,403.4 L171.0,402.2 L171.1,400.9 L171.3,399.7 L171.5,398.5 L171.6,397.3 L171.8,396.0 L171.9,394.8 L172.1,393.5 L172.2,392.3 L172.4,391.0 L172.6,389.8 L172.7,388.5 L172.9,387.3 L173.0,386.0 L173.2,384.8 L173.4,383.5 L173.5,382.2 L173.7,380.9 L173.8,379.7 L174.0,378.4 L174.2,377.1 L174.3,375.8 L174.5,374.5 L174.6,373.2 L174.8,371.9 L175.0,370.6 L175.1,369.3 L175.3,368.0 L175.4,366.7 L175.6,365.3 L175.7,364.0 L175.9,362.7 L176.1,361.4 L176.2,360.0 L176.4,358.7 L176.5,357.4 L176.7,356.0 L176.9,354.7 L177.0,353.3 L177.2,352.0 L177.3,350.6 L177.5,349.3 L177.7,347.9 L177.8,346.5 L178.0,345.2 L178.1,343.8 L178.3,342.4 L178.5,341.0 L178.6,339.7 L178.8,338.3 L178.9,336.9 L179.1,335.5 L179.2,334.1 L179.4,332.7 L179.6,331.3 L179.7,329.9 L179.9,328.5 L180.0,327.1 L180.2,325.7 L180.4,324.2 L180.5,322.8 L180.7,321.4 L180.8,320.0 L181.0,318.5 L181.2,317.1 L181.3,315.7 L181.5,314.2 L181.6,312.8 L181.8,311.3 L181.9,309.9 L182.1,308.4 L182.3,307.0 L182.4,305.5 L182.6,304.0 L182.7,302.6 L182.9,301.1 L183.1,299.6 L183.2,298.1 L183.4,296.7 L183.5,295.2 L183.7,293.7 L183.9,292.2 L184.0,290.7 L184.2,289.2 L184.3,287.7 L184.5,286.2 L184.7,284.7 L184.8,283.2 L185.0,281.7 L185.1,280.2 L185.3,278.6 L185.4,277.1 L185.6,275.6 L185.8,274.1 L185.9,272.5 L186.1,271.0 L186.2,269.5 L186.4,267.9 L186.6,266.4 L186.7,264.8 L186.9,263.3 L187.0,261.7 L187.2,260.2 L187.4,258.6 L187.5,257.0 L187.7,255.5 L187.8,253.9 L188.0,252.3 L188.2,250.7 L188.3,249.2 L188.5,247.6 L188.6,246.0 L188.8,244.4 L188.9,242.8 L189.1,241.2 L189.3,239.6 L189.4,238.0 L189.6,236.4 L189.7,234.8 L189.9,233.2 L190.1,231.6 L190.2,229.9 L190.4,228.3 L190.5,226.7 L190.7,225.1 L190.9,223.4 L191.0,221.8 L191.2,220.2 L191.3,218.5 L191.5,216.9 L191.7,215.2 L191.8,213.6 L192.0,211.9 L192.1,210.3 L192.3,208.6 L192.4,207.0 L192.6,205.3 L192.8,203.6 L192.9,201.9 L193.1,200.3 L193.2,198.6 L193.4,196.9 L193.6,195.2 L193.7,193.5 L193.9,191.9 L194.0,190.2 L194.2,188.5 L194.4,186.8 L194.5,185.1 L194.7,183.4 L194.8,181.6 L195.0,179.9 L195.2,178.2 L195.3,176.5 L195.5,174.8 L195.6,173.1 L195.8,171.3 L195.9,169.6 L196.1,167.9 L196.3,166.1 L196.4,164.4 L196.6,162.6 L196.7,160.9 L196.9,159.1 L197.1,157.4 L197.2,155.6 L197.4,153.9 L197.5,152.1 L197.7,150.4 L197.9,148.6 L198.0,146.8 L198.2,145.0 L198.3,143.3 L198.5,141.5 L198.7,139.7 L198.8,137.9 L199.0,136.1 L199.4,169.2 L199.4,169.4 L199.4,169.5 L199.4,169.7 L199.4,169.8 L199.4,170.0 L199.4,170.1 L199.4,170.3 L199.4,170.4 L199.4,170.6 L199.4,170.7 L199.4,170.9 L199.4,171.0 L199.4,171.2 L199.4,171.3 L199.4,171.5 L199.4,171.6 L199.5,171.8 L199.5,171.9 L199.5,172.1 L199.5,172.3 L199.5,172.4 L199.5,172.6 L199.5,172.7 L199.5,172.9 L199.5,173.1 L199.5,173.2 L199.5,173.4 L199.5,173.5 L199.5,173.7 L199.5,173.9 L199.5,174.0 L199.5,174.2 L199.5,174.4 L199.5,174.5 L199.5,174.7 L199.5,174.9 L199.5,175.0 L199.5,175.2 L199.5,175.4 L199.5,175.6 L199.5,175.7 L199.5,175.9 L199.5,176.1 L199.5,176.3 L199.5,176.4 L199.5,176.6 L199.5,176.8 L199.5,177.0 L199.5,177.2 L199.5,177.3 L199.6,177.5 L199.6,177.7 L199.6,177.9 L199.6,178.1 L199.6,178.2 L199.6,178.4 L199.6,178.6 L199.6,178.8 L199.6,179.0 L199.6,179.2 L199.6,179.4 L199.6,179.6 L199.6,179.8 L199.6,180.0 L199.6,180.1 L199.6,180.3 L199.6,180.5 L199.6,180.7 L199.6,180.9 L199.6,181.1 L199.6,181.3 L199.6,181.5 L199.6,181.7 L199.7,181.9 L199.7,182.1 L199.7,182.3 L199.7,182.5 L199.7,182.7 L199.7,183.0 L199.7,183.2 L199.7,183.4 L199.7,183.6 L199.7,183.8 L199.7,184.0 L199.7,184.2 L199.7,184.4 L199.7,184.6 L199.7,184.9 L199.7,185.1 L199.7,185.3 L199.7,185.5 L199.8,185.7 L199.8,186.0 L199.8,186.2 L199.8,186.4 L199.8,186.6 L199.8,186.8 L199.8,187.1 L199.8,187.3 L199.8,187.5 L199.8,187.8 L199.8,188.0 L199.8,188.2 L199.8,188.4 L199.8,188.7 L199.9,188.9 L199.9,189.1 L199.9,189.4 L199.9,189.6 L199.9,189.9 L199.9,190.1 L199.9,190.3 L199.9,190.6 L199.9,190.8 L199.9,191.1 L199.9,191.3 L199.9,191.6 L200.0,191.8 L200.0,192.1 L200.0,192.3 L200.0,192.6 L200.0,192.8 L200.0,193.1 L200.0,193.3 L200.0,193.6 L200.0,193.8 L200.0,194.1 L200.1,194.4 L200.1,194.6 L200.1,194.9 L200.1,195.1 L200.1,195.4 L200.1,195.7 L200.1,195.9 L200.1,196.2 L200.2,196.5 L200.2,196.7 L200.2,197.0 L200.2,197.3 L200.2,197.6 L200.2,197.8 L200.2,198.1 L200.2,198.4 L200.3,198.7 L200.3,199.0 L200.3,199.2 L200.3,199.5 L200.3,199.8 L200.3,200.1 L200.3,200.4 L200.4,200.7 L200.4,201.0 L200.4,201.2 L200.4,201.5 L200.4,201.8 L200.4,202.1 L200.4,202.4 L200.5,202.7 L200.5,203.0 L200.5,203.3 L200.5,203.6 L200.5,203.9 L200.5,204.2 L200.6,204.5 L200.6,204.9 L200.6,205.2 L200.6,205.5 L200.6,205.8 L200.7,206.1 L200.7,206.4 L200.7,206.7 L200.7,207.0 L200.7,207.4 L200.8,207.7 L200.8,208.0 L200.8,208.3 L200.8,208.7 L200.8,209.0 L200.9,209.3 L200.9,209.6 L200.9,210.0 L200.9,210.3 L201.0,210.6 L201.0,211.0 L201.0,211.3 L201.0,211.6 L201.1,212.0 L201.1,212.3 L201.1,212.7 L201.1,213.0 L201.2,213.4 L201.2,213.7 L201.2,214.0 L201.2,214.4 L201.3,214.7 L201.3,215.1 L201.3,215.5 L201.3,215.8 L201.4,216.2 L201.4,216.5 L201.4,216.9 L201.5,217.3 L201.5,217.6 L201.5,218.0 L201.6,218.3 L201.6,218.7 L201.6,219.1 L201.7,219.5 L201.7,219.8 L201.7,220.2 L201.8,220.6 L201.8,221.0 L201.8,221.3 L201.9,221.7 L201.9,222.1 L201.9,222.5 L202.0,222.9 L202.0,223.3 L202.1,223.6 L202.1,224.0 L202.1,224.4 L202.2,224.8 L202.2,225.2 L202.3,225.6 L202.3,226.0 L202.3,226.4 L202.4,226.8 L202.4,227.2 L202.5,227.6 L202.5,228.0 L202.6,228.4 L202.6,228.9 L202.7,229.3 L202.7,229.7 L202.7,230.1 L202.8,230.5 L202.8,230.9 L202.9,231.3 L202.9,231.8 L203.0,232.2 L203.1,232.6 L203.1,233.0 L203.2,233.5 L203.2,233.9 L203.3,234.3 L203.3,234.8 L203.4,235.2 L203.4,235.6 L203.5,236.1 L203.6,236.5 L203.6,237.0 L203.7,237.4 L203.7,237.8 L203.8,238.3 L203.9,238.7 L203.9,239.2 L204.0,239.6 L204.1,240.1 L204.1,240.5 L204.2,241.0 L204.3,241.5 L204.3,241.9 L204.4,242.4 L204.5,242.8 L204.6,243.3 L204.6,243.8 L204.7,244.2 L204.8,244.7 L204.9,245.2 L204.9,245.6 L205.0,246.1 L205.1,246.6 L205.2,247.1 L205.3,247.6 L205.4,248.0 L205.4,248.5 L205.5,249.0 L205.6,249.5 L205.7,250.0 L205.8,250.5 L205.9,250.9 L206.0,251.4 L206.1,251.9 L206.2,252.4 L206.3,252.9 L206.4,253.4 L206.5,253.9 L206.6,254.4 L206.7,254.9 L206.8,255.4 L206.9,255.9 L207.0,256.4 L207.1,256.9 L207.2,257.5 L207.3,258.0 L207.4,258.5 L207.6,259.0 L207.7,259.5 L207.8,260.0 L207.9,260.5 L208.0,261.1 L208.2,261.6 L208.3,262.1 L208.4,262.6 L208.5,263.2 L208.7,263.7 L208.8,264.2 L208.9,264.8 L209.1,265.3 L209.2,265.8 L209.3,266.3 L209.5,266.9 L209.6,267.4 L209.8,268.0 L209.9,268.5 L210.1,269.0 L210.2,269.6 L210.4,270.1 L210.5,270.7 L210.7,271.2 L210.9,271.8 L211.0,272.3 L211.2,272.9 L211.4,273.4 L211.5,274.0 L211.7,274.5 L211.9,275.1 L212.1,275.6 L212.2,276.2 L212.4,276.8 L212.6,277.3 L212.8,277.9 L213.0,278.4 L213.2,279.0 L213.4,279.6 L213.6,280.1 L213.8,280.7 L214.0,281.3 L214.2,281.8 L214.4,282.4 L214.6,283.0 L214.8,283.6 L215.1,284.1 L215.3,284.7 L215.5,285.3 L215.7,285.9 L216.0,286.4 L216.2,287.0 L216.4,287.6 L216.7,288.2 L216.9,288.8 L217.2,289.3 L217.4,289.9 L217.7,290.5 L217.9,291.1 L218.2,291.7 L218.5,292.3 L218.8,292.9 L219.0,293.4 L219.3,294.0 L219.6,294.6 L219.9,295.2 L220.2,295.8 L220.5,296.4 L220.8,297.0 L221.1,297.6 L221.4,298.2 L221.7,298.8 L222.0,299.4 L222.3,300.0 L222.6,300.6 L223.0,301.2 L223.3,301.8 L223.7,302.4 L224.0,303.0 L224.3,303.6 L224.7,304.2 L225.1,304.8 L225.4,305.4 L225.8,306.0 L226.2,306.6 L226.6,307.2 L226.9,307.8 L227.3,308.4 L227.7,309.0 L228.1,309.6 L228.5,310.2 L228.9,310.8 L229.4,311.4 L229.8,312.0 L230.2,312.6 L230.7,313.2 L231.1,313.8 L231.6,314.5 L232.0,315.1 L232.5,315.7 L232.9,316.3 L233.4,316.9 L233.9,317.5 L234.4,318.1 L234.9,318.7 L235.4,319.3 L235.9,319.9 L236.4,320.5 L236.9,321.1 L237.5,321.8 L238.0,322.4 L238.6,323.0 L239.1,323.6 L239.7,324.2 L240.3,324.8 L240.8,325.4 L241.4,326.0 L242.0,326.6 L242.6,327.2 L243.2,327.9 L243.9,328.5 L244.5,329.1 L245.1,329.7 L245.8,330.3 L246.4,330.9 L247.1,331.5 L247.8,332.1 L248.5,332.7 L249.2,333.3 L249.9,333.9 L250.6,334.5 L251.3,335.1 L252.0,335.8 L252.8,336.4 L253.5,337.0 L254.3,337.6 L255.1,338.2 L255.9,338.8 L256.7,339.4 L257.5,340.0 L258.3,340.6 L259.1,341.2 L260.0,341.8 L260.8,342.4 L261.7,343.0 L262.6,343.6 L263.5,344.2 L264.4,344.8 L265.3,345.4 L266.3,346.0 L267.2,346.6 L268.2,347.2 L269.1,347.8 L270.1,348.4 L271.1,349.0 L272.1,349.6 L273.2,350.2 L274.2,350.8 L275.3,351.4 L276.4,351.9 L277.4,352.5 L278.6,353.1 L279.7,353.7 L280.8,354.3 L282.0,354.9 L283.1,355.5 L284.3,356.1 L285.5,356.7 L286.7,357.2 L288.0,357.8 L289.2,358.4 L290.5,359.0 L291.8,359.6 L293.1,360.1 L294.4,360.7 L295.8,361.3 L297.1,361.9 L298.5,362.5 L299.9,363.0 L301.3,363.6 L302.8,364.2 L304.3,364.8 L305.7,365.3 L307.2,365.9 L308.8,366.5 L310.3,367.0 L311.9,367.6 L313.5,368.2 L315.1,368.7 L316.7,369.3 L318.4,369.9 L320.1,370.4 L321.8,371.0 L323.5,371.6 L325.3,372.1 L327.1,372.7 L328.9,373.2 L330.7,373.8 L332.6,374.4 L334.4,374.9 L336.4,375.5 L338.3,376.0 L340.3,376.6 L342.2,377.1 L344.3,377.7 L346.3,378.2 L348.4,378.8 L350.5,379.3 L352.6,379.9 L354.8,380.4 L357.0,380.9 L359.2,381.5 L361.5,382.0 L363.8,382.6 L366.1,383.1 L368.5,383.6 L370.9,384.2 L373.3,384.7 L375.8,385.2 L378.3,385.8 L380.8,386.3 L383.4,386.8 L386.0,387.4 L388.6,387.9 L391.3,388.4 L394.0,388.9 L396.8,389.5 L399.5,390.0 L402.4,390.5 L405.2,391.0 L408.2,391.5 L411.1,392.1 L414.1,392.6 L417.1,393.1 L420.2,393.6 L423.4,394.1 L426.5,394.6 L429.7,395.1 L433.0,395.6 L436.3,396.1 L439.7,396.6 L443.1,397.2 L446.5,397.7 L450.0,398.2 L453.5,398.7 L457.1,399.2 L460.8,399.7 L464.5,400.2 L468.2,400.6 L472.0,401.1 L475.9,401.6 L479.8,402.1 L483.8,402.6 L487.8,403.1 L491.9,403.6 L496.0,404.1 L500.2,404.6 L504.5,405.0 L508.8,405.5 L513.2,406.0 L517.6,406.5 L522.1,407.0 L526.7,407.4 L531.3,407.9 L536.0,408.4 L540.7,408.9 L545.6,409.3 L550.5,409.8 L555.4,410.3 L560.5,410.8 L565.6,411.2 L570.8,411.7 L576.0,412.2 L581.3,412.6 L586.8,413.1 L592.2,413.5 L597.8,414.0 L603.4,414.5 L609.1,414.9 L614.9,415.4 L620.8,415.8 L626.8,416.3 L632.8,416.7 L638.9,417.2 L645.2,417.6 L651.5,418.1 L657.9,418.5 L664.4,419.0 L670.9,419.4 L677.6,419.8 L684.4,420.3 L691.2,420.7 L698.2,421.2 L705.2,421.6 L712.4,422.0 L719.6,422.5 L727.0,422.9 L734.5,423.3 L742.0,423.8 L749.7,424.2 L757.5,424.6 L765.4,425.1 L773.4,425.5" fill="none" stroke="#0000ff" stroke-width="3.50" stroke-linejoin="round" stroke-dasharray="5.6 4.3 11.8 4.3" stroke-dashoffset="15.67"/>
<path d="M135.5,572.2 L135.7,572.2 L135.8,572.2 L136.0,572.2 L136.1,572.1 L136.3,572.1 L136.5,572.1 L136.6,572.0 L136.8,572.0 L136.9,572.0 L137.1,571.9 L137.2,571.8 L137.4,571.8 L137.6,571.7 L137.7,571.6 L137.9,571.6 L138.0,571.5 L138.2,571.4 L138.4,571.3 L138.5,571.2 L138.7,571.1 L138.8,571.0 L139.0,570.9 L139.2,570.7 L139.3,570.6 L139.5,570.5 L139.6,570.3 L139.8,570.2 L140.0,570.0 L140.1,569.9 L140.3,569.7 L140.4,569.6 L140.6,569.4 L140.7,569.2 L140.9,569.0 L141.1,568.9 L141.2,568.7 L141.4,568.5 L141.5,568.3 L141.7,568.1 L141.9,567.9 L142.0,567.7 L142.2,567.4 L142.3,567.2 L142.5,567.0 L142.7,566.7 L142.8,566.5 L143.0,566.3 L143.1,566.0 L143.3,565.7 L143.5,565.5 L143.6,565.2 L143.8,565.0 L143.9,564.7 L144.1,564.4 L144.2,564.1 L144.4,563.8 L144.6,563.5 L144.7,563.2 L144.9,562.9 L145.0,562.6 L145.2,562.3 L145.4,561.9 L145.5,561.6 L145.7,561.3 L145.8,560.9 L146.0,560.6 L146.2,560.3 L146.3,559.9 L146.5,559.5 L146.6,559.2 L146.8,558.8 L147.0,558.4 L147.1,558.1 L147.3,557.7 L147.4,557.3 L147.6,556.9 L147.7,556.5 L147.9,556.1 L148.1,555.7 L148.2,555.2 L148.4,554.8 L148.5,554.4 L148.7,554.0 L148.9,553.5 L149.0,553.1 L149.2,552.6 L149.3,552.2 L149.5,551.7 L149.7,551.3 L149.8,550.8 L150.0,550.3 L150.1,549.9 L150.3,549.4 L150.5,548.9 L150.6,548.4 L150.8,547.9 L150.9,547.4 L151.1,546.9 L151.2,546.4 L151.4,545.8 L151.6,545.3 L151.7,544.8 L151.9,544.3 L152.0,543.7 L152.2,543.2 L152.4,542.6 L152.5,542.1 L152.7,541.5 L152.8,540.9 L153.0,540.4 L153.2,539.8 L153.3,539.2 L153.5,538.6 L153.6,538.0 L153.8,537.4 L154.0,536.8 L154.1,536.2 L154.3,535.6 L154.4,535.0 L154.6,534.4 L154.7,533.8 L154.9,533.1 L155.1,532.5 L155.2,531.8 L155.4,531.2 L155.5,530.5 L155.7,529.9 L155.9,529.2 L156.0,528.6 L156.2,527.9 L156.3,527.2 L156.5,526.5 L156.7,525.8 L156.8,525.1 L157.0,524.4 L157.1,523.7 L157.3,523.0 L157.5,522.3 L157.6,521.6 L157.8,520.9 L157.9,520.1 L158.1,519.4 L158.2,518.7 L158.4,517.9 L158.6,517.2 L158.7,516.4 L158.9,515.6 L159.0,514.9 L159.2,514.1 L159.4,513.3 L159.5,512.5 L159.7,511.8 L159.8,511.0 L160.0,510.2 L160.2,509.4 L160.3,508.6 L160.5,507.7 L160.6,506.9 L160.8,506.1 L161.0,505.3 L161.1,504.4 L161.3,503.6 L161.4,502.8 L161.6,501.9 L161.7,501.1 L161.9,500.2 L162.1,499.3 L162.2,498.5 L162.4,497.6 L162.5,496.7 L162.7,495.8 L162.9,494.9 L163.0,494.1 L163.2,493.2 L163.3,492.2 L163.5,491.3 L163.7,490.4 L163.8,489.5 L164.0,488.6 L164.1,487.6 L164.3,486.7 L164.5,485.8 L164.6,484.8 L164.8,483.9 L164.9,482.9 L165.1,482.0 L165.2,481.0 L165.4,480.0 L165.6,479.0 L165.7,478.1 L165.9,477.1 L166.0,476.1 L166.2,475.1 L166.4,474.1 L166.5,473.1 L166.7,472.1 L166.8,471.0 L167.0,470.0 L167.2,469.0 L167.3,468.0 L167.5,466.9 L167.6,465.9 L167.8,464.8 L168.0,463.8 L168.1,462.7 L168.3,461.6 L168.4,460.6 L168.6,459.5 L168.7,458.4 L168.9,457.3 L169.1,456.2 L169.2,455.1 L169.4,454.0 L169.5,452.9 L169.7,451.8 L169.9,450.7 L170.0,449.6 L170.2,448.5 L170.3,447.3 L170.5,446.2 L170.7,445.1 L170.8,443.9 L171.0,442.8 L171.1,441.6 L171.3,440.4 L171.5,439.3 L171.6,438.1 L171.8,436.9 L171.9,435.7 L172.1,434.6 L172.2,433.4 L172.4,432.2 L172.6,431.0 L172.7,429.8 L172.9,428.5 L173.0,427.3 L173.2,426.1 L173.4,424.9 L173.5,423.6 L173.7,422.4 L173.8,421.2 L174.0,419.9 L174.2,418.6 L174.3,417.4 L174.5,416.1 L174.6,414.9 L174.8,413.6 L175.0,412.3 L175.1,411.0 L175.3,409.7 L175.4,408.4 L175.6,407.1 L175.7,405.8 L175.9,404.5 L176.1,403.2 L176.2,401.9 L176.4,400.5 L176.5,399.2 L176.7,397.9 L176.9,396.5 L177.0,395.2 L177.2,393.8 L177.3,392.5 L177.5,391.1 L177.7,389.8 L177.8,388.4 L178.0,387.0 L178.1,385.6 L178.3,384.2 L178.5,382.8 L178.6,381.4 L178.8,380.0 L178.9,378.6 L179.1,377.2 L179.2,375.8 L179.4,374.4 L179.6,372.9 L179.7,371.5 L179.9,370.1 L180.0,368.6 L180.2,367.2 L180.4,365.7 L180.5,364.3 L180.7,362.8 L180.8,361.3 L181.0,359.8 L181.2,358.4 L181.3,356.9 L181.5,355.4 L181.6,353.9 L181.8,352.4 L181.9,350.9 L182.1,349.4 L182.3,347.9 L182.4,346.3 L182.6,344.8 L182.7,343.3 L182.9,341.7 L183.1,340.2 L183.2,338.7 L183.4,337.1 L183.5,335.5 L183.7,334.0 L183.9,332.4 L184.0,330.8 L184.2,329.3 L184.3,327.7 L184.5,326.1 L184.7,324.5 L184.8,322.9 L185.0,321.3 L185.1,319.7 L185.3,318.1 L185.4,316.4 L185.6,314.8 L185.8,313.2 L185.9,311.6 L186.1,309.9 L186.2,308.3 L186.4,306.6 L186.6,305.0 L186.7,303.3 L186.9,301.6 L187.0,300.0 L187.2,298.3 L187.4,296.6 L187.5,294.9 L187.7,293.2 L187.8,291.5 L188.0,289.8 L188.2,288.1 L188.3,286.4 L188.5,284.7 L188.6,283.0 L188.8,281.3 L188.9,279.5 L189.1,277.8 L189.3,276.0 L189.4,274.3 L189.6,272.5 L189.7,270.8 L189.9,269.0 L190.1,267.3 L190.2,265.5 L190.4,263.7 L190.5,261.9 L190.7,260.1 L190.9,258.3 L191.0,256.5 L191.2,254.7 L191.3,252.9 L191.5,251.1 L191.7,249.3 L191.8,247.5 L192.0,245.6 L192.1,243.8 L192.3,242.0 L192.4,240.1 L192.6,238.3 L192.8,236.4 L192.9,234.6 L193.1,232.7 L193.2,230.8 L193.4,228.9 L193.6,227.1 L193.7,225.2 L193.9,223.3 L194.0,221.4 L194.2,219.5 L194.4,217.6 L194.5,215.7 L194.7,213.7 L194.8,211.8 L195.0,209.9 L195.2,208.0 L195.3,206.0 L195.5,204.1 L195.6,202.1 L195.8,200.2 L195.9,198.2 L196.1,196.3 L196.3,194.3 L196.4,192.3 L196.6,190.3 L196.7,188.4 L196.9,186.4 L197.1,184.4 L197.2,182.4 L197.4,180.4 L197.5,178.4 L197.7,176.3 L197.9,174.3 L198.0,172.3 L198.2,170.3 L198.3,168.2 L198.5,166.2 L198.7,164.2 L198.8,162.1 L199.0,160.0 L199.4,157.0 L199.4,157.0 L199.4,157.0 L199.4,157.0 L199.4,157.0 L199.4,157.0 L199.4,157.0 L199.4,157.0 L199.4,157.0 L199.4,157.0 L199.4,157.0 L199.4,157.0 L199.4,157.0 L199.4,157.0 L199.4,157.0 L199.4,157.0 L199.4,157.0 L199.5,157.0 L199.5,157.0 L199.5,157.1 L199.5,157.1 L199.5,157.1 L199.5,157.1 L199.5,157.1 L199.5,157.1 L199.5,157.1 L199.5,157.1 L199.5,157.1 L199.5,157.1 L199.5,157.1 L199.5,157.1 L199.5,157.1 L199.5,157.1 L199.5,157.1 L199.5,157.1 L199.5,157.1 L199.5,157.1 L199.5,157.1 L199.5,157.1 L199.5,157.1 L199.5,157.1 L199.5,157.1 L199.5,157.1 L199.5,157.2 L199.5,157.2 L199.5,157.2 L199.5,157.2 L199.5,157.2 L199.5,157.2 L199.5,157.2 L199.5,157.2 L199.6,157.2 L199.6,157.2 L199.6,157.2 L199.6,157.2 L199.6,157.2 L199.6,157.2 L199.6,157.2 L199.6,157.2 L199.6,157.2 L199.6,157.2 L199.6,157.2 L199.6,157.2 L199.6,157.2 L199.6,157.2 L199.6,157.2 L199.6,157.3 L199.6,157.3 L199.6,157.3 L199.6,157.3 L199.6,157.3 L199.6,157.3 L199.6,157.3 L199.6,157.3 L199.7,157.3 L199.7,157.3 L199.7,157.3 L199.7,157.3 L199.7,157.3 L199.7,157.3 L199.7,157.3 L199.7,157.3 L199.7,157.3 L199.7,157.3 L199.7,157.3 L199.7,157.3 L199.7,157.3 L199.7,157.3 L199.7,157.4 L199.7,157.4 L199.7,157.4 L199.7,157.4 L199.8,157.4 L199.8,157.4 L199.8,157.4 L199.8,157.4 L199.8,157.4 L199.8,157.4 L199.8,157.4 L199.8,157.4 L199.8,157.4 L199.8,157.4 L199.8,157.4 L199.8,157.4 L199.8,157.4 L199.8,157.4 L199.9,157.4 L199.9,157.4 L199.9,157.5 L199.9,157.5 L199.9,157.5 L199.9,157.5 L199.9,157.5 L199.9,157.5 L199.9,157.5 L199.9,157.5 L199.9,157.5 L199.9,157.5 L200.0,157.5 L200.0,157.5 L200.0,157.5 L200.0,157.5 L200.0,157.5 L200.0,157.5 L200.0,157.5 L200.0,157.5 L200.0,157.5 L200.0,157.6 L200.1,157.6 L200.1,157.6 L200.1,157.6 L200.1,157.6 L200.1,157.6 L200.1,157.6 L200.1,157.6 L200.1,157.6 L200.2,157.6 L200.2,157.6 L200.2,157.6 L200.2,157.6 L200.2,157.6 L200.2,157.6 L200.2,157.6 L200.2,157.6 L200.3,157.6 L200.3,157.7 L200.3,157.7 L200.3,157.7 L200.3,157.7 L200.3,157.7 L200.3,157.7 L200.4,157.7 L200.4,157.7 L200.4,157.7 L200.4,157.7 L200.4,157.7 L200.4,157.7 L200.4,157.7 L200.5,157.7 L200.5,157.7 L200.5,157.7 L200.5,157.7 L200.5,157.7 L200.5,157.8 L200.6,157.8 L200.6,157.8 L200.6,157.8 L200.6,157.8 L200.6,157.8 L200.7,157.8 L200.7,157.8 L200.7,157.8 L200.7,157.8 L200.7,157.8 L200.8,157.8 L200.8,157.8 L200.8,157.8 L200.8,157.8 L200.8,157.8 L200.9,157.8 L200.9,157.9 L200.9,157.9 L200.9,157.9 L201.0,157.9 L201.0,157.9 L201.0,157.9 L201.0,157.9 L201.1,157.9 L201.1,157.9 L201.1,157.9 L201.1,157.9 L201.2,157.9 L201.2,157.9 L201.2,157.9 L201.2,157.9 L201.3,157.9 L201.3,158.0 L201.3,158.0 L201.3,158.0 L201.4,158.0 L201.4,158.0 L201.4,158.0 L201.5,158.0 L201.5,158.0 L201.5,158.0 L201.6,158.0 L201.6,158.0 L201.6,158.0 L201.7,158.0 L201.7,158.0 L201.7,158.0 L201.8,158.0 L201.8,158.1 L201.8,158.1 L201.9,158.1 L201.9,158.1 L201.9,158.1 L202.0,158.1 L202.0,158.1 L202.1,158.1 L202.1,158.1 L202.1,158.1 L202.2,158.1 L202.2,158.1 L202.3,158.1 L202.3,158.1 L202.3,158.1 L202.4,158.2 L202.4,158.2 L202.5,158.2 L202.5,158.2 L202.6,158.2 L202.6,158.2 L202.7,158.2 L202.7,158.2 L202.7,158.2 L202.8,158.2 L202.8,158.2 L202.9,158.2 L202.9,158.2 L203.0,158.2 L203.1,158.2 L203.1,158.3 L203.2,158.3 L203.2,158.3 L203.3,158.3 L203.3,158.3 L203.4,158.3 L203.4,158.3 L203.5,158.3 L203.6,158.3 L203.6,158.3 L203.7,158.3 L203.7,158.3 L203.8,158.3 L203.9,158.3 L203.9,158.3 L204.0,158.4 L204.1,158.4 L204.1,158.4 L204.2,158.4 L204.3,158.4 L204.3,158.4 L204.4,158.4 L204.5,158.4 L204.6,158.4 L204.6,158.4 L204.7,158.4 L204.8,158.4 L204.9,158.4 L204.9,158.4 L205.0,158.4 L205.1,158.5 L205.2,158.5 L205.3,158.5 L205.4,158.5 L205.4,158.5 L205.5,158.5 L205.6,158.5 L205.7,158.5 L205.8,158.5 L205.9,158.5 L206.0,158.5 L206.1,158.5 L206.2,158.5 L206.3,158.5 L206.4,158.5 L206.5,158.6 L206.6,158.6 L206.7,158.6 L206.8,158.6 L206.9,158.6 L207.0,158.6 L207.1,158.6 L207.2,158.6 L207.3,158.6 L207.4,158.6 L207.6,158.6 L207.7,158.6 L207.8,158.6 L207.9,158.6 L208.0,158.6 L208.2,158.7 L208.3,158.7 L208.4,158.7 L208.5,158.7 L208.7,158.7 L208.8,158.7 L208.9,158.7 L209.1,158.7 L209.2,158.7 L209.3,158.7 L209.5,158.7 L209.6,158.7 L209.8,158.7 L209.9,158.7 L210.1,158.7 L210.2,158.8 L210.4,158.8 L210.5,158.8 L210.7,158.8 L210.9,158.8 L211.0,158.8 L211.2,158.8 L211.4,158.8 L211.5,158.8 L211.7,158.8 L211.9,158.8 L212.1,158.8 L212.2,158.8 L212.4,158.8 L212.6,158.8 L212.8,158.9 L213.0,158.9 L213.2,158.9 L213.4,158.9 L213.6,158.9 L213.8,158.9 L214.0,158.9 L214.2,158.9 L214.4,158.9 L214.6,158.9 L214.8,158.9 L215.1,158.9 L215.3,158.9 L215.5,158.9 L215.7,158.9 L216.0,159.0 L216.2,159.0 L216.4,159.0 L216.7,159.0 L216.9,159.0 L217.2,159.0 L217.4,159.0 L217.7,159.0 L217.9,159.0 L218.2,159.0 L218.5,159.0 L218.8,159.0 L219.0,159.0 L219.3,159.0 L219.6,159.0 L219.9,159.0 L220.2,159.1 L220.5,159.1 L220.8,159.1 L221.1,159.1 L221.4,159.1 L221.7,159.1 L222.0,159.1 L222.3,159.1 L222.6,159.1 L223.0,159.1 L223.3,159.1 L223.7,159.1 L224.0,159.1 L224.3,159.1 L224.7,159.1 L225.1,159.1 L225.4,159.1 L225.8,159.2 L226.2,159.2 L226.6,159.2 L226.9,159.2 L227.3,159.2 L227.7,159.2 L228.1,159.2 L228.5,159.2 L228.9,159.2 L229.4,159.2 L229.8,159.2 L230.2,159.2 L230.7,159.2 L231.1,159.2 L231.6,159.2 L232.0,159.2 L232.5,159.2 L232.9,159.2 L233.4,159.3 L233.9,159.3 L234.4,159.3 L234.9,159.3 L235.4,159.3 L235.9,159.3 L236.4,159.3 L236.9,159.3 L237.5,159.3 L238.0,159.3 L238.6,159.3 L239.1,159.3 L239.7,159.3 L240.3,159.3 L240.8,159.3 L241.4,159.3 L242.0,159.3 L242.6,159.3 L243.2,159.3 L243.9,159.4 L244.5,159.4 L245.1,159.4 L245.8,159.4 L246.4,159.4 L247.1,159.4 L247.8,159.4 L248.5,159.4 L249.2,159.4 L249.9,159.4 L250.6,159.4 L251.3,159.4 L252.0,159.4 L252.8,159.4 L253.5,159.4 L254.3,159.4 L255.1,159.4 L255.9,159.4 L256.7,159.4 L257.5,159.4 L258.3,159.4 L259.1,159.5 L260.0,159.5 L260.8,159.5 L261.7,159.5 L262.6,159.5 L263.5,159.5 L264.4,159.5 L265.3,159.5 L266.3,159.5 L267.2,159.5 L268.2,159.5 L269.1,159.5 L270.1,159.5 L271.1,159.5 L272.1,159.5 L273.2,159.5 L274.2,159.5 L275.3,159.5 L276.4,159.5 L277.4,159.5 L278.6,159.5 L279.7,159.5 L280.8,159.5 L282.0,159.6 L283.1,159.6 L284.3,159.6 L285.5,159.6 L286.7,159.6 L288.0,159.6 L289.2,159.6 L290.5,159.6 L291.8,159.6 L293.1,159.6 L294.4,159.6 L295.8,159.6 L297.1,159.6 L298.5,159.6 L299.9,159.6 L301.3,159.6 L302.8,159.6 L304.3,159.6 L305.7,159.6 L307.2,159.6 L308.8,159.6 L310.3,159.6 L311.9,159.6 L313.5,159.6 L315.1,159.6 L316.7,159.6 L318.4,159.6 L320.1,159.6 L321.8,159.7 L323.5,159.7 L325.3,159.7 L327.1,159.7 L328.9,159.7 L330.7,159.7 L332.6,159.7 L334.4,159.7 L336.4,159.7 L338.3,159.7 L340.3,159.7 L342.2,159.7 L344.3,159.7 L346.3,159.7 L348.4,159.7 L350.5,159.7 L352.6,159.7 L354.8,159.7 L357.0,159.7 L359.2,159.7 L361.5,159.7 L363.8,159.7 L366.1,159.7 L368.5,159.7 L370.9,159.7 L373.3,159.7 L375.8,159.7 L378.3,159.7 L380.8,159.7 L383.4,159.7 L386.0,159.7 L388.6,159.7 L391.3,159.7 L394.0,159.7 L396.8,159.7 L399.5,159.7 L402.4,159.8 L405.2,159.8 L408.2,159.8 L411.1,159.8 L414.1,159.8 L417.1,159.8 L420.2,159.8 L423.4,159.8 L426.5,159.8 L429.7,159.8 L433.0,159.8 L436.3,159.8 L439.7,159.8 L443.1,159.8 L446.5,159.8 L450.0,159.8 L453.5,159.8 L457.1,159.8 L460.8,159.8 L464.5,159.8 L468.2,159.8 L472.0,159.8 L475.9,159.8 L479.8,159.8 L483.8,159.8 L487.8,159.8 L491.9,159.8 L496.0,159.8 L500.2,159.8 L504.5,159.8 L508.8,159.8 L513.2,159.8 L517.6,159.8 L522.1,159.8 L526.7,159.8 L531.3,159.8 L536.0,159.8 L540.7,159.8 L545.6,159.8 L550.5,159.8 L555.4,159.8 L560.5,159.8 L565.6,159.8 L570.8,159.8 L576.0,159.8 L581.3,159.8 L586.8,159.8 L592.2,159.8 L597.8,159.8 L603.4,159.8 L609.1,159.8 L614.9,159.8 L620.8,159.9 L626.8,159.9 L632.8,159.9 L638.9,159.9 L645.2,159.9 L651.5,159.9 L657.9,159.9 L664.4,159.9 L670.9,159.9 L677.6,159.9 L684.4,159.9 L691.2,159.9 L698.2,159.9 L705.2,159.9 L712.4,159.9 L719.6,159.9 L727.0,159.9 L734.5,159.9 L742.0,159.9 L749.7,159.9 L757.5,159.9 L765.4,159.9 L773.4,159.9" fill="none" stroke="#ff0000" stroke-width="3.50" stroke-linejoin="round" stroke-linecap="square"/>
<path d="M135.5,572.2 L135.7,572.2 L135.8,572.2 L136.0,572.1 L136.1,572.1 L136.3,572.0 L136.5,572.0 L136.6,571.9 L136.8,571.9 L136.9,571.8 L137.1,571.7 L137.2,571.6 L137.4,571.5 L137.6,571.5 L137.7,571.4 L137.9,571.2 L138.0,571.1 L138.2,571.0 L138.4,570.9 L138.5,570.8 L138.7,570.6 L138.8,570.5 L139.0,570.3 L139.2,570.2 L139.3,570.0 L139.5,569.9 L139.6,569.7 L139.8,569.5 L140.0,569.4 L140.1,569.2 L140.3,569.0 L140.4,568.8 L140.6,568.6 L140.7,568.4 L140.9,568.2 L141.1,568.0 L141.2,567.7 L141.4,567.5 L141.5,567.3 L141.7,567.1 L141.9,566.8 L142.0,566.6 L142.2,566.3 L142.3,566.0 L142.5,565.8 L142.7,565.5 L142.8,565.2 L143.0,565.0 L143.1,564.7 L143.3,564.4 L143.5,564.1 L143.6,563.8 L143.8,563.5 L143.9,563.2 L144.1,562.8 L144.2,562.5 L144.4,562.2 L144.6,561.9 L144.7,561.5 L144.9,561.2 L145.0,560.8 L145.2,560.5 L145.4,560.1 L145.5,559.8 L145.7,559.4 L145.8,559.0 L146.0,558.6 L146.2,558.2 L146.3,557.8 L146.5,557.4 L146.6,557.0 L146.8,556.6 L147.0,556.2 L147.1,555.8 L147.3,555.4 L147.4,555.0 L147.6,554.5 L147.7,554.1 L147.9,553.6 L148.1,553.2 L148.2,552.7 L148.4,552.3 L148.5,551.8 L148.7,551.3 L148.9,550.9 L149.0,550.4 L149.2,549.9 L149.3,549.4 L149.5,548.9 L149.7,548.4 L149.8,547.9 L150.0,547.4 L150.1,546.9 L150.3,546.3 L150.5,545.8 L150.6,545.3 L150.8,544.7 L150.9,544.2 L151.1,543.6 L151.2,543.1 L151.4,542.5 L151.6,541.9 L151.7,541.4 L151.9,540.8 L152.0,540.2 L152.2,539.6 L152.4,539.0 L152.5,538.4 L152.7,537.8 L152.8,537.2 L153.0,536.6 L153.2,536.0 L153.3,535.4 L153.5,534.7 L153.6,534.1 L153.8,533.5 L154.0,532.8 L154.1,532.2 L154.3,531.5 L154.4,530.9 L154.6,530.2 L154.7,529.5 L154.9,528.8 L155.1,528.2 L155.2,527.5 L155.4,526.8 L155.5,526.1 L155.7,525.4 L155.9,524.7 L156.0,524.0 L156.2,523.3 L156.3,522.5 L156.5,521.8 L156.7,521.1 L156.8,520.3 L157.0,519.6 L157.1,518.8 L157.3,518.1 L157.5,517.3 L157.6,516.6 L157.8,515.8 L157.9,515.0 L158.1,514.2 L158.2,513.4 L158.4,512.7 L158.6,511.9 L158.7,511.1 L158.9,510.2 L159.0,509.4 L159.2,508.6 L159.4,507.8 L159.5,507.0 L159.7,506.1 L159.8,505.3 L160.0,504.5 L160.2,503.6 L160.3,502.7 L160.5,501.9 L160.6,501.0 L160.8,500.2 L161.0,499.3 L161.1,498.4 L161.3,497.5 L161.4,496.6 L161.6,495.7 L161.7,494.8 L161.9,493.9 L162.1,493.0 L162.2,492.1 L162.4,491.2 L162.5,490.2 L162.7,489.3 L162.9,488.4 L163.0,487.4 L163.2,486.5 L163.3,485.5 L163.5,484.6 L163.7,483.6 L163.8,482.6 L164.0,481.7 L164.1,480.7 L164.3,479.7 L164.5,478.7 L164.6,477.7 L164.8,476.7 L164.9,475.7 L165.1,474.7 L165.2,473.7 L165.4,472.7 L165.6,471.6 L165.7,470.6 L165.9,469.6 L166.0,468.5 L166.2,467.5 L166.4,466.4 L166.5,465.4 L166.7,464.3 L166.8,463.3 L167.0,462.2 L167.2,461.1 L167.3,460.0 L167.5,458.9 L167.6,457.8 L167.8,456.7 L168.0,455.6 L168.1,454.5 L168.3,453.4 L168.4,452.3 L168.6,451.2 L168.7,450.0 L168.9,448.9 L169.1,447.8 L169.2,446.6 L169.4,445.5 L169.5,444.3 L169.7,443.2 L169.9,442.0 L170.0,440.8 L170.2,439.6 L170.3,438.5 L170.5,437.3 L170.7,436.1 L170.8,434.9 L171.0,433.7 L171.1,432.5 L171.3,431.3 L171.5,430.0 L171.6,428.8 L171.8,427.6 L171.9,426.4 L172.1,425.1 L172.2,423.9 L172.4,422.6 L172.6,421.4 L172.7,420.1 L172.9,418.8 L173.0,417.6 L173.2,416.3 L173.4,415.0 L173.5,413.7 L173.7,412.4 L173.8,411.1 L174.0,409.8 L174.2,408.5 L174.3,407.2 L174.5,405.9 L174.6,404.6 L174.8,403.3 L175.0,401.9 L175.1,400.6 L175.3,399.2 L175.4,397.9 L175.6,396.5 L175.7,395.2 L175.9,393.8 L176.1,392.5 L176.2,391.1 L176.4,389.7 L176.5,388.3 L176.7,386.9 L176.9,385.5 L177.0,384.1 L177.2,382.7 L177.3,381.3 L177.5,379.9 L177.7,378.5 L177.8,377.1 L178.0,375.6 L178.1,374.2 L178.3,372.7 L178.5,371.3 L178.6,369.8 L178.8,368.4 L178.9,366.9 L179.1,365.5 L179.2,364.0 L179.4,362.5 L179.6,361.0 L179.7,359.5 L179.9,358.0 L180.0,356.5 L180.2,355.0 L180.4,353.5 L180.5,352.0 L180.7,350.5 L180.8,349.0 L181.0,347.4 L181.2,345.9 L181.3,344.4 L181.5,342.8 L181.6,341.3 L181.8,339.7 L181.9,338.2 L182.1,336.6 L182.3,335.0 L182.4,333.4 L182.6,331.9 L182.7,330.3 L182.9,328.7 L183.1,327.1 L183.2,325.5 L183.4,323.9 L183.5,322.3 L183.7,320.7 L183.9,319.0 L184.0,317.4 L184.2,315.8 L184.3,314.1 L184.5,312.5 L184.7,310.8 L184.8,309.2 L185.0,307.5 L185.1,305.9 L185.3,304.2 L185.4,302.5 L185.6,300.8 L185.8,299.2 L185.9,297.5 L186.1,295.8 L186.2,294.1 L186.4,292.4 L186.6,290.6 L186.7,288.9 L186.9,287.2 L187.0,285.5 L187.2,283.8 L187.4,282.0 L187.5,280.3 L187.7,278.5 L187.8,276.8 L188.0,275.0 L188.2,273.3 L188.3,271.5 L188.5,269.7 L188.6,267.9 L188.8,266.2 L188.9,264.4 L189.1,262.6 L189.3,260.8 L189.4,259.0 L189.6,257.2 L189.7,255.3 L189.9,253.5 L190.1,251.7 L190.2,249.9 L190.4,248.0 L190.5,246.2 L190.7,244.3 L190.9,242.5 L191.0,240.6 L191.2,238.8 L191.3,236.9 L191.5,235.0 L191.7,233.2 L191.8,231.3 L192.0,229.4 L192.1,227.5 L192.3,225.6 L192.4,223.7 L192.6,221.8 L192.8,219.9 L192.9,218.0 L193.1,216.0 L193.2,214.1 L193.4,212.2 L193.6,210.2 L193.7,208.3 L193.9,206.3 L194.0,204.4 L194.2,202.4 L194.4,200.5 L194.5,198.5 L194.7,196.5 L194.8,194.5 L195.0,192.6 L195.2,190.6 L195.3,188.6 L195.5,186.6 L195.6,184.6 L195.8,182.6 L195.9,180.5 L196.1,178.5 L196.3,176.5 L196.4,174.5 L196.6,172.4 L196.7,170.4 L196.9,168.3 L197.1,166.3 L197.2,164.2 L197.4,162.2 L197.5,160.1 L197.7,158.0 L197.9,155.9 L198.0,153.9 L198.2,151.8 L198.3,149.7 L198.5,147.6 L198.7,145.5 L198.8,143.4 L199.0,141.2 L199.4,143.0 L199.4,143.0 L199.4,143.1 L199.4,143.1 L199.4,143.1 L199.4,143.1 L199.4,143.2 L199.4,143.2 L199.4,143.2 L199.4,143.2 L199.4,143.2 L199.4,143.3 L199.4,143.3 L199.4,143.3 L199.4,143.3 L199.4,143.3 L199.4,143.4 L199.5,143.4 L199.5,143.4 L199.5,143.4 L199.5,143.5 L199.5,143.5 L199.5,143.5 L199.5,143.5 L199.5,143.5 L199.5,143.6 L199.5,143.6 L199.5,143.6 L199.5,143.6 L199.5,143.7 L199.5,143.7 L199.5,143.7 L199.5,143.7 L199.5,143.7 L199.5,143.8 L199.5,143.8 L199.5,143.8 L199.5,143.8 L199.5,143.9 L199.5,143.9 L199.5,143.9 L199.5,143.9 L199.5,144.0 L199.5,144.0 L199.5,144.0 L199.5,144.0 L199.5,144.1 L199.5,144.1 L199.5,144.1 L199.5,144.1 L199.5,144.1 L199.6,144.2 L199.6,144.2 L199.6,144.2 L199.6,144.2 L199.6,144.3 L199.6,144.3 L199.6,144.3 L199.6,144.3 L199.6,144.4 L199.6,144.4 L199.6,144.4 L199.6,144.4 L199.6,144.5 L199.6,144.5 L199.6,144.5 L199.6,144.5 L199.6,144.6 L199.6,144.6 L199.6,144.6 L199.6,144.6 L199.6,144.7 L199.6,144.7 L199.6,144.7 L199.7,144.8 L199.7,144.8 L199.7,144.8 L199.7,144.8 L199.7,144.9 L199.7,144.9 L199.7,144.9 L199.7,144.9 L199.7,145.0 L199.7,145.0 L199.7,145.0 L199.7,145.0 L199.7,145.1 L199.7,145.1 L199.7,145.1 L199.7,145.1 L199.7,145.2 L199.7,145.2 L199.8,145.2 L199.8,145.3 L199.8,145.3 L199.8,145.3 L199.8,145.3 L199.8,145.4 L199.8,145.4 L199.8,145.4 L199.8,145.5 L199.8,145.5 L199.8,145.5 L199.8,145.5 L199.8,145.6 L199.8,145.6 L199.9,145.6 L199.9,145.7 L199.9,145.7 L199.9,145.7 L199.9,145.7 L199.9,145.8 L199.9,145.8 L199.9,145.8 L199.9,145.9 L199.9,145.9 L199.9,145.9 L199.9,145.9 L200.0,146.0 L200.0,146.0 L200.0,146.0 L200.0,146.1 L200.0,146.1 L200.0,146.1 L200.0,146.1 L200.0,146.2 L200.0,146.2 L200.0,146.2 L200.1,146.3 L200.1,146.3 L200.1,146.3 L200.1,146.4 L200.1,146.4 L200.1,146.4 L200.1,146.5 L200.1,146.5 L200.2,146.5 L200.2,146.5 L200.2,146.6 L200.2,146.6 L200.2,146.6 L200.2,146.7 L200.2,146.7 L200.2,146.7 L200.3,146.8 L200.3,146.8 L200.3,146.8 L200.3,146.9 L200.3,146.9 L200.3,146.9 L200.3,147.0 L200.4,147.0 L200.4,147.0 L200.4,147.0 L200.4,147.1 L200.4,147.1 L200.4,147.1 L200.4,147.2 L200.5,147.2 L200.5,147.2 L200.5,147.3 L200.5,147.3 L200.5,147.3 L200.5,147.4 L200.6,147.4 L200.6,147.4 L200.6,147.5 L200.6,147.5 L200.6,147.5 L200.7,147.6 L200.7,147.6 L200.7,147.6 L200.7,147.7 L200.7,147.7 L200.8,147.7 L200.8,147.8 L200.8,147.8 L200.8,147.8 L200.8,147.9 L200.9,147.9 L200.9,147.9 L200.9,148.0 L200.9,148.0 L201.0,148.0 L201.0,148.1 L201.0,148.1 L201.0,148.1 L201.1,148.2 L201.1,148.2 L201.1,148.2 L201.1,148.3 L201.2,148.3 L201.2,148.4 L201.2,148.4 L201.2,148.4 L201.3,148.5 L201.3,148.5 L201.3,148.5 L201.3,148.6 L201.4,148.6 L201.4,148.6 L201.4,148.7 L201.5,148.7 L201.5,148.7 L201.5,148.8 L201.6,148.8 L201.6,148.8 L201.6,148.9 L201.7,148.9 L201.7,149.0 L201.7,149.0 L201.8,149.0 L201.8,149.1 L201.8,149.1 L201.9,149.1 L201.9,149.2 L201.9,149.2 L202.0,149.2 L202.0,149.3 L202.1,149.3 L202.1,149.4 L202.1,149.4 L202.2,149.4 L202.2,149.5 L202.3,149.5 L202.3,149.5 L202.3,149.6 L202.4,149.6 L202.4,149.6 L202.5,149.7 L202.5,149.7 L202.6,149.8 L202.6,149.8 L202.7,149.8 L202.7,149.9 L202.7,149.9 L202.8,149.9 L202.8,150.0 L202.9,150.0 L202.9,150.1 L203.0,150.1 L203.1,150.1 L203.1,150.2 L203.2,150.2 L203.2,150.2 L203.3,150.3 L203.3,150.3 L203.4,150.4 L203.4,150.4 L203.5,150.4 L203.6,150.5 L203.6,150.5 L203.7,150.5 L203.7,150.6 L203.8,150.6 L203.9,150.7 L203.9,150.7 L204.0,150.7 L204.1,150.8 L204.1,150.8 L204.2,150.8 L204.3,150.9 L204.3,150.9 L204.4,151.0 L204.5,151.0 L204.6,151.0 L204.6,151.1 L204.7,151.1 L204.8,151.1 L204.9,151.2 L204.9,151.2 L205.0,151.3 L205.1,151.3 L205.2,151.3 L205.3,151.4 L205.4,151.4 L205.4,151.4 L205.5,151.5 L205.6,151.5 L205.7,151.6 L205.8,151.6 L205.9,151.6 L206.0,151.7 L206.1,151.7 L206.2,151.8 L206.3,151.8 L206.4,151.8 L206.5,151.9 L206.6,151.9 L206.7,151.9 L206.8,152.0 L206.9,152.0 L207.0,152.1 L207.1,152.1 L207.2,152.1 L207.3,152.2 L207.4,152.2 L207.6,152.2 L207.7,152.3 L207.8,152.3 L207.9,152.4 L208.0,152.4 L208.2,152.4 L208.3,152.5 L208.4,152.5 L208.5,152.6 L208.7,152.6 L208.8,152.6 L208.9,152.7 L209.1,152.7 L209.2,152.7 L209.3,152.8 L209.5,152.8 L209.6,152.9 L209.8,152.9 L209.9,152.9 L210.1,153.0 L210.2,153.0 L210.4,153.0 L210.5,153.1 L210.7,153.1 L210.9,153.2 L211.0,153.2 L211.2,153.2 L211.4,153.3 L211.5,153.3 L211.7,153.3 L211.9,153.4 L212.1,153.4 L212.2,153.5 L212.4,153.5 L212.6,153.5 L212.8,153.6 L213.0,153.6 L213.2,153.6 L213.4,153.7 L213.6,153.7 L213.8,153.7 L214.0,153.8 L214.2,153.8 L214.4,153.9 L214.6,153.9 L214.8,153.9 L215.1,154.0 L215.3,154.0 L215.5,154.0 L215.7,154.1 L216.0,154.1 L216.2,154.1 L216.4,154.2 L216.7,154.2 L216.9,154.3 L217.2,154.3 L217.4,154.3 L217.7,154.4 L217.9,154.4 L218.2,154.4 L218.5,154.5 L218.8,154.5 L219.0,154.5 L219.3,154.6 L219.6,154.6 L219.9,154.6 L220.2,154.7 L220.5,154.7 L220.8,154.7 L221.1,154.8 L221.4,154.8 L221.7,154.8 L222.0,154.9 L222.3,154.9 L222.6,154.9 L223.0,155.0 L223.3,155.0 L223.7,155.0 L224.0,155.1 L224.3,155.1 L224.7,155.1 L225.1,155.2 L225.4,155.2 L225.8,155.2 L226.2,155.3 L226.6,155.3 L226.9,155.3 L227.3,155.4 L227.7,155.4 L228.1,155.4 L228.5,155.5 L228.9,155.5 L229.4,155.5 L229.8,155.6 L230.2,155.6 L230.7,155.6 L231.1,155.7 L231.6,155.7 L232.0,155.7 L232.5,155.8 L232.9,155.8 L233.4,155.8 L233.9,155.8 L234.4,155.9 L234.9,155.9 L235.4,155.9 L235.9,156.0 L236.4,156.0 L236.9,156.0 L237.5,156.1 L238.0,156.1 L238.6,156.1 L239.1,156.1 L239.7,156.2 L240.3,156.2 L240.8,156.2 L241.4,156.3 L242.0,156.3 L242.6,156.3 L243.2,156.3 L243.9,156.4 L244.5,156.4 L245.1,156.4 L245.8,156.5 L246.4,156.5 L247.1,156.5 L247.8,156.5 L248.5,156.6 L249.2,156.6 L249.9,156.6 L250.6,156.6 L251.3,156.7 L252.0,156.7 L252.8,156.7 L253.5,156.8 L254.3,156.8 L255.1,156.8 L255.9,156.8 L256.7,156.9 L257.5,156.9 L258.3,156.9 L259.1,156.9 L260.0,157.0 L260.8,157.0 L261.7,157.0 L262.6,157.0 L263.5,157.1 L264.4,157.1 L265.3,157.1 L266.3,157.1 L267.2,157.2 L268.2,157.2 L269.1,157.2 L270.1,157.2 L271.1,157.2 L272.1,157.3 L273.2,157.3 L274.2,157.3 L275.3,157.3 L276.4,157.4 L277.4,157.4 L278.6,157.4 L279.7,157.4 L280.8,157.5 L282.0,157.5 L283.1,157.5 L284.3,157.5 L285.5,157.5 L286.7,157.6 L288.0,157.6 L289.2,157.6 L290.5,157.6 L291.8,157.6 L293.1,157.7 L294.4,157.7 L295.8,157.7 L297.1,157.7 L298.5,157.7 L299.9,157.8 L301.3,157.8 L302.8,157.8 L304.3,157.8 L305.7,157.8 L307.2,157.9 L308.8,157.9 L310.3,157.9 L311.9,157.9 L313.5,157.9 L315.1,158.0 L316.7,158.0 L318.4,158.0 L320.1,158.0 L321.8,158.0 L323.5,158.0 L325.3,158.1 L327.1,158.1 L328.9,158.1 L330.7,158.1 L332.6,158.1 L334.4,158.2 L336.4,158.2 L338.3,158.2 L340.3,158.2 L342.2,158.2 L344.3,158.2 L346.3,158.3 L348.4,158.3 L350.5,158.3 L352.6,158.3 L354.8,158.3 L357.0,158.3 L359.2,158.3 L361.5,158.4 L363.8,158.4 L366.1,158.4 L368.5,158.4 L370.9,158.4 L373.3,158.4 L375.8,158.5 L378.3,158.5 L380.8,158.5 L383.4,158.5 L386.0,158.5 L388.6,158.5 L391.3,158.5 L394.0,158.6 L396.8,158.6 L399.5,158.6 L402.4,158.6 L405.2,158.6 L408.2,158.6 L411.1,158.6 L414.1,158.6 L417.1,158.7 L420.2,158.7 L423.4,158.7 L426.5,158.7 L429.7,158.7 L433.0,158.7 L436.3,158.7 L439.7,158.7 L443.1,158.8 L446.5,158.8 L450.0,158.8 L453.5,158.8 L457.1,158.8 L460.8,158.8 L464.5,158.8 L468.2,158.8 L472.0,158.9 L475.9,158.9 L479.8,158.9 L483.8,158.9 L487.8,158.9 L491.9,158.9 L496.0,158.9 L500.2,158.9 L504.5,158.9 L508.8,159.0 L513.2,159.0 L517.6,159.0 L522.1,159.0 L526.7,159.0 L531.3,159.0 L536.0,159.0 L540.7,159.0 L545.6,159.0 L550.5,159.0 L555.4,159.1 L560.5,159.1 L565.6,159.1 L570.8,159.1 L576.0,159.1 L581.3,159.1 L586.8,159.1 L592.2,159.1 L597.8,159.1 L603.4,159.1 L609.1,159.1 L614.9,159.2 L620.8,159.2 L626.8,159.2 L632.8,159.2 L638.9,159.2 L645.2,159.2 L651.5,159.2 L657.9,159.2 L664.4,159.2 L670.9,159.2 L677.6,159.2 L684.4,159.2 L691.2,159.2 L698.2,159.3 L705.2,159.3 L712.4,159.3 L719.6,159.3 L727.0,159.3 L734.5,159.3 L742.0,159.3 L749.7,159.3 L757.5,159.3 L765.4,159.3 L773.4,159.3" fill="none" stroke="#ff0000" stroke-width="3.50" stroke-linejoin="round" stroke-dasharray="11.5 4.6" stroke-dashoffset="1.21"/>
<path d="M135.5,572.2 L135.7,572.1 L135.8,572.0 L136.0,571.9 L136.1,571.8 L136.3,571.6 L136.5,571.4 L136.6,571.3 L136.8,571.1 L136.9,570.9 L137.1,570.7 L137.2,570.4 L137.4,570.2 L137.6,570.0 L137.7,569.7 L137.9,569.5 L138.0,569.2 L138.2,569.0 L138.4,568.7 L138.5,568.4 L138.7,568.1 L138.8,567.8 L139.0,567.5 L139.2,567.2 L139.3,566.9 L139.5,566.6 L139.6,566.2 L139.8,565.9 L140.0,565.5 L140.1,565.2 L140.3,564.8 L140.4,564.5 L140.6,564.1 L140.7,563.7 L140.9,563.3 L141.1,562.9 L141.2,562.5 L141.4,562.1 L141.5,561.7 L141.7,561.3 L141.9,560.8 L142.0,560.4 L142.2,560.0 L142.3,559.5 L142.5,559.1 L142.7,558.6 L142.8,558.1 L143.0,557.7 L143.1,557.2 L143.3,556.7 L143.5,556.2 L143.6,555.7 L143.8,555.2 L143.9,554.7 L144.1,554.2 L144.2,553.6 L144.4,553.1 L144.6,552.6 L144.7,552.0 L144.9,551.5 L145.0,550.9 L145.2,550.4 L145.4,549.8 L145.5,549.2 L145.7,548.6 L145.8,548.1 L146.0,547.5 L146.2,546.9 L146.3,546.3 L146.5,545.7 L146.6,545.0 L146.8,544.4 L147.0,543.8 L147.1,543.2 L147.3,542.5 L147.4,541.9 L147.6,541.2 L147.7,540.6 L147.9,539.9 L148.1,539.2 L148.2,538.5 L148.4,537.9 L148.5,537.2 L148.7,536.5 L148.9,535.8 L149.0,535.1 L149.2,534.4 L149.3,533.6 L149.5,532.9 L149.7,532.2 L149.8,531.4 L150.0,530.7 L150.1,530.0 L150.3,529.2 L150.5,528.4 L150.6,527.7 L150.8,526.9 L150.9,526.1 L151.1,525.3 L151.2,524.6 L151.4,523.8 L151.6,523.0 L151.7,522.2 L151.9,521.3 L152.0,520.5 L152.2,519.7 L152.4,518.9 L152.5,518.0 L152.7,517.2 L152.8,516.3 L153.0,515.5 L153.2,514.6 L153.3,513.8 L153.5,512.9 L153.6,512.0 L153.8,511.1 L154.0,510.3 L154.1,509.4 L154.3,508.5 L154.4,507.6 L154.6,506.6 L154.7,505.7 L154.9,504.8 L155.1,503.9 L155.2,502.9 L155.4,502.0 L155.5,501.1 L155.7,500.1 L155.9,499.2 L156.0,498.2 L156.2,497.2 L156.3,496.3 L156.5,495.3 L156.7,494.3 L156.8,493.3 L157.0,492.3 L157.1,491.3 L157.3,490.3 L157.5,489.3 L157.6,488.3 L157.8,487.2 L157.9,486.2 L158.1,485.2 L158.2,484.1 L158.4,483.1 L158.6,482.0 L158.7,481.0 L158.9,479.9 L159.0,478.8 L159.2,477.8 L159.4,476.7 L159.5,475.6 L159.7,474.5 L159.8,473.4 L160.0,472.3 L160.2,471.2 L160.3,470.1 L160.5,468.9 L160.6,467.8 L160.8,466.7 L161.0,465.5 L161.1,464.4 L161.3,463.3 L161.4,462.1 L161.6,460.9 L161.7,459.8 L161.9,458.6 L162.1,457.4 L162.2,456.2 L162.4,455.1 L162.5,453.9 L162.7,452.7 L162.9,451.5 L163.0,450.2 L163.2,449.0 L163.3,447.8 L163.5,446.6 L163.7,445.3 L163.8,444.1 L164.0,442.9 L164.1,441.6 L164.3,440.4 L164.5,439.1 L164.6,437.8 L164.8,436.6 L164.9,435.3 L165.1,434.0 L165.2,432.7 L165.4,431.4 L165.6,430.1 L165.7,428.8 L165.9,427.5 L166.0,426.2 L166.2,424.8 L166.4,423.5 L166.5,422.2 L166.7,420.8 L166.8,419.5 L167.0,418.2 L167.2,416.8 L167.3,415.4 L167.5,414.1 L167.6,412.7 L167.8,411.3 L168.0,409.9 L168.1,408.5 L168.3,407.1 L168.4,405.7 L168.6,404.3 L168.7,402.9 L168.9,401.5 L169.1,400.1 L169.2,398.7 L169.4,397.2 L169.5,395.8 L169.7,394.3 L169.9,392.9 L170.0,391.4 L170.2,390.0 L170.3,388.5 L170.5,387.0 L170.7,385.6 L170.8,384.1 L171.0,382.6 L171.1,381.1 L171.3,379.6 L171.5,378.1 L171.6,376.6 L171.8,375.1 L171.9,373.5 L172.1,372.0 L172.2,370.5 L172.4,368.9 L172.6,367.4 L172.7,365.8 L172.9,364.3 L173.0,362.7 L173.2,361.2 L173.4,359.6 L173.5,358.0 L173.7,356.4 L173.8,354.8 L174.0,353.3 L174.2,351.7 L174.3,350.1 L174.5,348.4 L174.6,346.8 L174.8,345.2 L175.0,343.6 L175.1,341.9 L175.3,340.3 L175.4,338.7 L175.6,337.0 L175.7,335.4 L175.9,333.7 L176.1,332.0 L176.2,330.4 L176.4,328.7 L176.5,327.0 L176.7,325.3 L176.9,323.6 L177.0,321.9 L177.2,320.2 L177.3,318.5 L177.5,316.8 L177.7,315.1 L177.8,313.4 L178.0,311.6 L178.1,309.9 L178.3,308.2 L178.5,306.4 L178.6,304.7 L178.8,302.9 L178.9,301.1 L179.1,299.4 L179.2,297.6 L179.4,295.8 L179.6,294.0 L179.7,292.2 L179.9,290.4 L180.0,288.6 L180.2,286.8 L180.4,285.0 L180.5,283.2 L180.7,281.4 L180.8,279.6 L181.0,277.7 L181.2,275.9 L181.3,274.0 L181.5,272.2 L181.6,270.3 L181.8,268.5 L181.9,266.6 L182.1,264.7 L182.3,262.9 L182.4,261.0 L182.6,259.1 L182.7,257.2 L182.9,255.3 L183.1,253.4 L183.2,251.5 L183.4,249.6 L183.5,247.6 L183.7,245.7 L183.9,243.8 L184.0,241.8 L184.2,239.9 L184.3,237.9 L184.5,236.0 L184.7,234.0 L184.8,232.1 L185.0,230.1 L185.1,228.1 L185.3,226.1 L185.4,224.2 L185.6,222.2 L185.8,220.2 L185.9,218.2 L186.1,216.2 L186.2,214.1 L186.4,212.1 L186.6,210.1 L186.7,208.1 L186.9,206.0 L187.0,204.0 L187.2,201.9 L187.4,199.9 L187.5,197.8 L187.7,195.8 L187.8,193.7 L188.0,191.6 L188.2,189.6 L188.3,187.5 L188.5,185.4 L188.6,183.3 L188.8,181.2 L188.9,179.1 L189.1,177.0 L189.3,174.9 L189.4,172.7 L189.6,170.6 L189.7,168.5 L189.9,166.3 L190.1,164.2 L190.2,162.0 L190.4,159.9 L190.5,157.7 L190.7,155.6 L190.9,153.4 L191.0,151.2 L191.2,149.0 L191.3,146.8 L191.5,144.7 L191.7,142.5 L191.8,140.3 L192.0,138.0 L192.1,135.8 L192.3,133.6 L192.4,131.4 L192.6,129.2 L192.8,126.9 L192.9,124.7 L193.1,122.4 L193.2,120.2 L193.4,117.9 L193.6,115.7 L193.7,113.4 L193.9,111.1 L194.0,108.8 L194.2,106.6 L194.4,104.3 L194.5,102.0 L194.7,99.7 L194.8,97.4 L195.0,95.1 L195.2,92.7 L195.3,90.4 L195.5,88.1 L195.6,85.8 L195.8,83.4 L195.9,81.1 L196.1,78.7 L196.3,76.4 L196.4,74.0 L196.6,71.6 L196.7,69.3 L196.9,66.9 L197.1,64.5 L197.2,62.1 L197.4,59.7 L197.5,57.3 L197.7,54.9 L197.9,52.5 L198.0,50.1 L198.2,47.7 L198.3,45.3 L198.5,42.8 L198.7,40.4 L198.8,38.0 L199.0,35.5 L199.4,64.5 L199.4,64.7 L199.4,64.8 L199.4,64.9 L199.4,65.0 L199.4,65.1 L199.4,65.2 L199.4,65.4 L199.4,65.5 L199.4,65.6 L199.4,65.7 L199.4,65.8 L199.4,66.0 L199.4,66.1 L199.4,66.2 L199.4,66.3 L199.4,66.5 L199.5,66.6 L199.5,66.7 L199.5,66.8 L199.5,66.9 L199.5,67.1 L199.5,67.2 L199.5,67.3 L199.5,67.4 L199.5,67.6 L199.5,67.7 L199.5,67.8 L199.5,68.0 L199.5,68.1 L199.5,68.2 L199.5,68.3 L199.5,68.5 L199.5,68.6 L199.5,68.7 L199.5,68.9 L199.5,69.0 L199.5,69.1 L199.5,69.2 L199.5,69.4 L199.5,69.5 L199.5,69.6 L199.5,69.8 L199.5,69.9 L199.5,70.0 L199.5,70.2 L199.5,70.3 L199.5,70.4 L199.5,70.6 L199.5,70.7 L199.5,70.9 L199.6,71.0 L199.6,71.1 L199.6,71.3 L199.6,71.4 L199.6,71.5 L199.6,71.7 L199.6,71.8 L199.6,72.0 L199.6,72.1 L199.6,72.2 L199.6,72.4 L199.6,72.5 L199.6,72.7 L199.6,72.8 L199.6,72.9 L199.6,73.1 L199.6,73.2 L199.6,73.4 L199.6,73.5 L199.6,73.7 L199.6,73.8 L199.6,74.0 L199.6,74.1 L199.7,74.2 L199.7,74.4 L199.7,74.5 L199.7,74.7 L199.7,74.8 L199.7,75.0 L199.7,75.1 L199.7,75.3 L199.7,75.4 L199.7,75.6 L199.7,75.7 L199.7,75.9 L199.7,76.0 L199.7,76.2 L199.7,76.3 L199.7,76.5 L199.7,76.6 L199.7,76.8 L199.8,76.9 L199.8,77.1 L199.8,77.3 L199.8,77.4 L199.8,77.6 L199.8,77.7 L199.8,77.9 L199.8,78.0 L199.8,78.2 L199.8,78.4 L199.8,78.5 L199.8,78.7 L199.8,78.8 L199.8,79.0 L199.9,79.1 L199.9,79.3 L199.9,79.5 L199.9,79.6 L199.9,79.8 L199.9,80.0 L199.9,80.1 L199.9,80.3 L199.9,80.4 L199.9,80.6 L199.9,80.8 L199.9,80.9 L200.0,81.1 L200.0,81.3 L200.0,81.4 L200.0,81.6 L200.0,81.8 L200.0,81.9 L200.0,82.1 L200.0,82.3 L200.0,82.4 L200.0,82.6 L200.1,82.8 L200.1,82.9 L200.1,83.1 L200.1,83.3 L200.1,83.5 L200.1,83.6 L200.1,83.8 L200.1,84.0 L200.2,84.2 L200.2,84.3 L200.2,84.5 L200.2,84.7 L200.2,84.8 L200.2,85.0 L200.2,85.2 L200.2,85.4 L200.3,85.6 L200.3,85.7 L200.3,85.9 L200.3,86.1 L200.3,86.3 L200.3,86.4 L200.3,86.6 L200.4,86.8 L200.4,87.0 L200.4,87.2 L200.4,87.3 L200.4,87.5 L200.4,87.7 L200.4,87.9 L200.5,88.1 L200.5,88.2 L200.5,88.4 L200.5,88.6 L200.5,88.8 L200.5,89.0 L200.6,89.2 L200.6,89.4 L200.6,89.5 L200.6,89.7 L200.6,89.9 L200.7,90.1 L200.7,90.3 L200.7,90.5 L200.7,90.7 L200.7,90.8 L200.8,91.0 L200.8,91.2 L200.8,91.4 L200.8,91.6 L200.8,91.8 L200.9,92.0 L200.9,92.2 L200.9,92.4 L200.9,92.6 L201.0,92.8 L201.0,92.9 L201.0,93.1 L201.0,93.3 L201.1,93.5 L201.1,93.7 L201.1,93.9 L201.1,94.1 L201.2,94.3 L201.2,94.5 L201.2,94.7 L201.2,94.9 L201.3,95.1 L201.3,95.3 L201.3,95.5 L201.3,95.7 L201.4,95.9 L201.4,96.1 L201.4,96.3 L201.5,96.5 L201.5,96.7 L201.5,96.9 L201.6,97.1 L201.6,97.3 L201.6,97.5 L201.7,97.7 L201.7,97.9 L201.7,98.1 L201.8,98.3 L201.8,98.5 L201.8,98.7 L201.9,98.9 L201.9,99.1 L201.9,99.3 L202.0,99.5 L202.0,99.7 L202.1,99.9 L202.1,100.1 L202.1,100.3 L202.2,100.5 L202.2,100.7 L202.3,100.9 L202.3,101.1 L202.3,101.3 L202.4,101.6 L202.4,101.8 L202.5,102.0 L202.5,102.2 L202.6,102.4 L202.6,102.6 L202.7,102.8 L202.7,103.0 L202.7,103.2 L202.8,103.4 L202.8,103.6 L202.9,103.8 L202.9,104.1 L203.0,104.3 L203.1,104.5 L203.1,104.7 L203.2,104.9 L203.2,105.1 L203.3,105.3 L203.3,105.5 L203.4,105.7 L203.4,105.9 L203.5,106.2 L203.6,106.4 L203.6,106.6 L203.7,106.8 L203.7,107.0 L203.8,107.2 L203.9,107.4 L203.9,107.6 L204.0,107.9 L204.1,108.1 L204.1,108.3 L204.2,108.5 L204.3,108.7 L204.3,108.9 L204.4,109.1 L204.5,109.3 L204.6,109.6 L204.6,109.8 L204.7,110.0 L204.8,110.2 L204.9,110.4 L204.9,110.6 L205.0,110.8 L205.1,111.1 L205.2,111.3 L205.3,111.5 L205.4,111.7 L205.4,111.9 L205.5,112.1 L205.6,112.3 L205.7,112.6 L205.8,112.8 L205.9,113.0 L206.0,113.2 L206.1,113.4 L206.2,113.6 L206.3,113.8 L206.4,114.1 L206.5,114.3 L206.6,114.5 L206.7,114.7 L206.8,114.9 L206.9,115.1 L207.0,115.3 L207.1,115.6 L207.2,115.8 L207.3,116.0 L207.4,116.2 L207.6,116.4 L207.7,116.6 L207.8,116.8 L207.9,117.1 L208.0,117.3 L208.2,117.5 L208.3,117.7 L208.4,117.9 L208.5,118.1 L208.7,118.3 L208.8,118.5 L208.9,118.8 L209.1,119.0 L209.2,119.2 L209.3,119.4 L209.5,119.6 L209.6,119.8 L209.8,120.0 L209.9,120.2 L210.1,120.5 L210.2,120.7 L210.4,120.9 L210.5,121.1 L210.7,121.3 L210.9,121.5 L211.0,121.7 L211.2,121.9 L211.4,122.1 L211.5,122.3 L211.7,122.6 L211.9,122.8 L212.1,123.0 L212.2,123.2 L212.4,123.4 L212.6,123.6 L212.8,123.8 L213.0,124.0 L213.2,124.2 L213.4,124.4 L213.6,124.6 L213.8,124.8 L214.0,125.0 L214.2,125.2 L214.4,125.4 L214.6,125.6 L214.8,125.9 L215.1,126.1 L215.3,126.3 L215.5,126.5 L215.7,126.7 L216.0,126.9 L216.2,127.1 L216.4,127.3 L216.7,127.5 L216.9,127.7 L217.2,127.9 L217.4,128.1 L217.7,128.3 L217.9,128.5 L218.2,128.7 L218.5,128.9 L218.8,129.1 L219.0,129.2 L219.3,129.4 L219.6,129.6 L219.9,129.8 L220.2,130.0 L220.5,130.2 L220.8,130.4 L221.1,130.6 L221.4,130.8 L221.7,131.0 L222.0,131.2 L222.3,131.4 L222.6,131.6 L223.0,131.8 L223.3,131.9 L223.7,132.1 L224.0,132.3 L224.3,132.5 L224.7,132.7 L225.1,132.9 L225.4,133.1 L225.8,133.2 L226.2,133.4 L226.6,133.6 L226.9,133.8 L227.3,134.0 L227.7,134.2 L228.1,134.3 L228.5,134.5 L228.9,134.7 L229.4,134.9 L229.8,135.1 L230.2,135.2 L230.7,135.4 L231.1,135.6 L231.6,135.8 L232.0,135.9 L232.5,136.1 L232.9,136.3 L233.4,136.5 L233.9,136.6 L234.4,136.8 L234.9,137.0 L235.4,137.1 L235.9,137.3 L236.4,137.5 L236.9,137.6 L237.5,137.8 L238.0,138.0 L238.6,138.1 L239.1,138.3 L239.7,138.5 L240.3,138.6 L240.8,138.8 L241.4,139.0 L242.0,139.1 L242.6,139.3 L243.2,139.4 L243.9,139.6 L244.5,139.8 L245.1,139.9 L245.8,140.1 L246.4,140.2 L247.1,140.4 L247.8,140.5 L248.5,140.7 L249.2,140.8 L249.9,141.0 L250.6,141.1 L251.3,141.3 L252.0,141.4 L252.8,141.6 L253.5,141.7 L254.3,141.9 L255.1,142.0 L255.9,142.2 L256.7,142.3 L257.5,142.5 L258.3,142.6 L259.1,142.7 L260.0,142.9 L260.8,143.0 L261.7,143.2 L262.6,143.3 L263.5,143.4 L264.4,143.6 L265.3,143.7 L266.3,143.9 L267.2,144.0 L268.2,144.1 L269.1,144.3 L270.1,144.4 L271.1,144.5 L272.1,144.7 L273.2,144.8 L274.2,144.9 L275.3,145.0 L276.4,145.2 L277.4,145.3 L278.6,145.4 L279.7,145.5 L280.8,145.7 L282.0,145.8 L283.1,145.9 L284.3,146.0 L285.5,146.2 L286.7,146.3 L288.0,146.4 L289.2,146.5 L290.5,146.6 L291.8,146.8 L293.1,146.9 L294.4,147.0 L295.8,147.1 L297.1,147.2 L298.5,147.3 L299.9,147.4 L301.3,147.6 L302.8,147.7 L304.3,147.8 L305.7,147.9 L307.2,148.0 L308.8,148.1 L310.3,148.2 L311.9,148.3 L313.5,148.4 L315.1,148.5 L316.7,148.6 L318.4,148.7 L320.1,148.8 L321.8,148.9 L323.5,149.0 L325.3,149.1 L327.1,149.2 L328.9,149.3 L330.7,149.4 L332.6,149.5 L334.4,149.6 L336.4,149.7 L338.3,149.8 L340.3,149.9 L342.2,150.0 L344.3,150.1 L346.3,150.2 L348.4,150.3 L350.5,150.4 L352.6,150.5 L354.8,150.5 L357.0,150.6 L359.2,150.7 L361.5,150.8 L363.8,150.9 L366.1,151.0 L368.5,151.1 L370.9,151.1 L373.3,151.2 L375.8,151.3 L378.3,151.4 L380.8,151.5 L383.4,151.6 L386.0,151.6 L388.6,151.7 L391.3,151.8 L394.0,151.9 L396.8,152.0 L399.5,152.0 L402.4,152.1 L405.2,152.2 L408.2,152.3 L411.1,152.3 L414.1,152.4 L417.1,152.5 L420.2,152.5 L423.4,152.6 L426.5,152.7 L429.7,152.8 L433.0,152.8 L436.3,152.9 L439.7,153.0 L443.1,153.0 L446.5,153.1 L450.0,153.2 L453.5,153.2 L457.1,153.3 L460.8,153.4 L464.5,153.4 L468.2,153.5 L472.0,153.6 L475.9,153.6 L479.8,153.7 L483.8,153.7 L487.8,153.8 L491.9,153.9 L496.0,153.9 L500.2,154.0 L504.5,154.0 L508.8,154.1 L513.2,154.2 L517.6,154.2 L522.1,154.3 L526.7,154.3 L531.3,154.4 L536.0,154.4 L540.7,154.5 L545.6,154.6 L550.5,154.6 L555.4,154.7 L560.5,154.7 L565.6,154.8 L570.8,154.8 L576.0,154.9 L581.3,154.9 L586.8,155.0 L592.2,155.0 L597.8,155.1 L603.4,155.1 L609.1,155.2 L614.9,155.2 L620.8,155.3 L626.8,155.3 L632.8,155.4 L638.9,155.4 L645.2,155.5 L651.5,155.5 L657.9,155.5 L664.4,155.6 L670.9,155.6 L677.6,155.7 L684.4,155.7 L691.2,155.8 L698.2,155.8 L705.2,155.9 L712.4,155.9 L719.6,155.9 L727.0,156.0 L734.5,156.0 L742.0,156.1 L749.7,156.1 L757.5,156.1 L765.4,156.2 L773.4,156.2" fill="none" stroke="#ff0000" stroke-width="3.50" stroke-linejoin="round" stroke-dasharray="5.6 4.3 11.8 4.3" stroke-dashoffset="19.52"/>
<text x="238.60" y="65.60" font-family="'Liberation Sans', Arial, sans-serif" font-size="42.0" fill="black">(</text>
<text x="249.92" y="65.60" font-family="'Liberation Sans', Arial, sans-serif" font-size="42.0" fill="black">a</text>
<text x="273.05" y="65.60" font-family="'Liberation Sans', Arial, sans-serif" font-size="42.0" fill="black">)</text>
<text x="461" y="57" font-family="'Liberation Sans', Arial, Helvetica, sans-serif" font-size="32">dwell</text>
<text transform="translate(172.9,133) rotate(-90)" font-family="'Liberation Sans', Arial, Helvetica, sans-serif" font-size="32">loading</text>
<text x="253.36" y="217.50" font-family="'Liberation Serif', 'Times New Roman', serif" font-size="34.5" fill="#ff2a00" font-style="italic">β</text>
<text transform="scale(1.200,1)" x="234.69" y="221.80" font-family="'Liberation Serif', 'Times New Roman', serif" font-size="38.0" fill="#ff2a00">=</text>
<text x="315.75" y="218.80" font-family="'Liberation Serif', 'Times New Roman', serif" font-size="38.0" fill="#ff2a00">0</text>
<text x="258.86" y="542.00" font-family="'Liberation Serif', 'Times New Roman', serif" font-size="34.5" fill="#4033ff" font-style="italic">β</text>
<text transform="scale(1.200,1)" x="239.77" y="546.30" font-family="'Liberation Serif', 'Times New Roman', serif" font-size="38.0" fill="#4033ff">=</text>
<text x="321.35" y="543.30" font-family="'Liberation Serif', 'Times New Roman', serif" font-size="38.0" fill="#4033ff">0</text>
<text x="339.70" y="543.30" font-family="'Liberation Serif', 'Times New Roman', serif" font-size="38.0" fill="#4033ff">.</text>
<text x="348.53" y="543.30" font-family="'Liberation Serif', 'Times New Roman', serif" font-size="38.0" fill="#4033ff">2</text>
<line x1="481.4" y1="215.6" x2="595.0" y2="215.6" stroke="#0000ff" stroke-width="4.9"/>
<text x="609.66" y="224.20" font-family="'Liberation Sans', Arial, sans-serif" font-size="28.5" fill="black" font-style="italic">τ</text>
<text x="627.68" y="225.50" font-family="'Liberation Sans', Arial, sans-serif" font-size="27.0" fill="black">=</text>
<text x="652.71" y="224.20" font-family="'Liberation Sans', Arial, sans-serif" font-size="30.0" fill="black">1</text>
<text x="667.83" y="224.20" font-family="'Liberation Sans', Arial, sans-serif" font-size="30.0" fill="black">0</text>
<text x="683.81" y="211.80" font-family="'Liberation Sans', Arial, sans-serif" font-size="20.0" fill="black">−</text>
<text x="695.54" y="211.80" font-family="'Liberation Sans', Arial, sans-serif" font-size="20.0" fill="black">3</text>
<text x="715.97" y="224.20" font-family="'Liberation Sans', Arial, sans-serif" font-size="30.0" fill="black">s</text>
<line x1="481.4" y1="269.8" x2="588.5" y2="269.8" stroke="#0000ff" stroke-width="4.9" stroke-dasharray="16.1 6.4"/>
<text x="609.66" y="278.40" font-family="'Liberation Sans', Arial, sans-serif" font-size="28.5" fill="black" font-style="italic">τ</text>
<text x="627.68" y="279.70" font-family="'Liberation Sans', Arial, sans-serif" font-size="27.0" fill="black">=</text>
<text x="652.71" y="278.40" font-family="'Liberation Sans', Arial, sans-serif" font-size="30.0" fill="black">1</text>
<text x="667.83" y="278.40" font-family="'Liberation Sans', Arial, sans-serif" font-size="30.0" fill="black">0</text>
<text x="683.81" y="266.00" font-family="'Liberation Sans', Arial, sans-serif" font-size="20.0" fill="black">−</text>
<text x="695.29" y="266.00" font-family="'Liberation Sans', Arial, sans-serif" font-size="20.0" fill="black">2</text>
<text x="715.97" y="278.40" font-family="'Liberation Sans', Arial, sans-serif" font-size="30.0" fill="black">s</text>
<line x1="481.4" y1="324.0" x2="586.0" y2="324.0" stroke="#0000ff" stroke-width="4.9" stroke-dasharray="7.8 6.0 16.5 6.0"/>
<text x="609.66" y="332.60" font-family="'Liberation Sans', Arial, sans-serif" font-size="28.5" fill="black" font-style="italic">τ</text>
<text x="627.68" y="333.90" font-family="'Liberation Sans', Arial, sans-serif" font-size="27.0" fill="black">=</text>
<text x="652.71" y="332.60" font-family="'Liberation Sans', Arial, sans-serif" font-size="30.0" fill="black">1</text>
<text x="667.83" y="332.60" font-family="'Liberation Sans', Arial, sans-serif" font-size="30.0" fill="black">0</text>
<text x="683.81" y="320.20" font-family="'Liberation Sans', Arial, sans-serif" font-size="20.0" fill="black">−</text>
<text x="695.98" y="320.20" font-family="'Liberation Sans', Arial, sans-serif" font-size="20.0" fill="black">1</text>
<text x="715.97" y="332.60" font-family="'Liberation Sans', Arial, sans-serif" font-size="30.0" fill="black">s</text>
<rect x="121" y="2" width="664" height="598" fill="none" stroke="black" stroke-width="4"/>
<path d="M134.20,598 v-7.0 M134.20,4 v7.0 M166.09,598 v-3.5 M166.09,4 v3.5 M197.99,598 v-3.5 M197.99,4 v3.5 M229.88,598 v-3.5 M229.88,4 v3.5 M261.78,598 v-7.0 M261.78,4 v7.0 M293.67,598 v-3.5 M293.67,4 v3.5 M325.57,598 v-3.5 M325.57,4 v3.5 M357.46,598 v-3.5 M357.46,4 v3.5 M389.36,598 v-7.0 M389.36,4 v7.0 M421.25,598 v-3.5 M421.25,4 v3.5 M453.15,598 v-3.5 M453.15,4 v3.5 M485.04,598 v-3.5 M485.04,4 v3.5 M516.94,598 v-7.0 M516.94,4 v7.0 M548.84,598 v-3.5 M548.84,4 v3.5 M580.73,598 v-3.5 M580.73,4 v3.5 M612.62,598 v-3.5 M612.62,4 v3.5 M644.52,598 v-7.0 M644.52,4 v7.0 M676.41,598 v-3.5 M676.41,4 v3.5 M708.31,598 v-3.5 M708.31,4 v3.5 M740.20,598 v-3.5 M740.20,4 v3.5 M772.10,598 v-7.0 M772.10,4 v7.0 M123,591.41 h3.5 M783,591.41 h-3.5 M123,570.80 h7.0 M783,570.80 h-7.0 M123,550.19 h3.5 M783,550.19 h-3.5 M123,529.58 h3.5 M783,529.58 h-3.5 M123,508.97 h3.5 M783,508.97 h-3.5 M123,488.36 h7.0 M783,488.36 h-7.0 M123,467.75 h3.5 M783,467.75 h-3.5 M123,447.14 h3.5 M783,447.14 h-3.5 M123,426.53 h3.5 M783,426.53 h-3.5 M123,405.92 h7.0 M783,405.92 h-7.0 M123,385.31 h3.5 M783,385.31 h-3.5 M123,364.70 h3.5 M783,364.70 h-3.5 M123,344.09 h3.5 M783,344.09 h-3.5 M123,323.48 h7.0 M783,323.48 h-7.0 M123,302.87 h3.5 M783,302.87 h-3.5 M123,282.26 h3.5 M783,282.26 h-3.5 M123,261.65 h3.5 M783,261.65 h-3.5 M123,241.04 h7.0 M783,241.04 h-7.0 M123,220.43 h3.5 M783,220.43 h-3.5 M123,199.82 h3.5 M783,199.82 h-3.5 M123,179.21 h3.5 M783,179.21 h-3.5 M123,158.60 h7.0 M783,158.60 h-7.0 M123,137.99 h3.5 M783,137.99 h-3.5 M123,117.38 h3.5 M783,117.38 h-3.5 M123,96.77 h3.5 M783,96.77 h-3.5 M123,76.16 h7.0 M783,76.16 h-7.0 M123,55.55 h3.5 M783,55.55 h-3.5 M123,34.94 h3.5 M783,34.94 h-3.5 M123,14.33 h3.5 M783,14.33 h-3.5" stroke="black" stroke-width="4" fill="none"/>
<text x="114.8" y="584.40" font-family="'Liberation Sans', Arial, Helvetica, sans-serif" font-size="40" text-anchor="end">0.0</text>
<text x="114.8" y="501.96" font-family="'Liberation Sans', Arial, Helvetica, sans-serif" font-size="40" text-anchor="end">0.2</text>
<text x="114.8" y="419.52" font-family="'Liberation Sans', Arial, Helvetica, sans-serif" font-size="40" text-anchor="end">0.4</text>
<text x="114.8" y="337.08" font-family="'Liberation Sans', Arial, Helvetica, sans-serif" font-size="40" text-anchor="end">0.6</text>
<text x="114.8" y="254.64" font-family="'Liberation Sans', Arial, Helvetica, sans-serif" font-size="40" text-anchor="end">0.8</text>
<text x="114.8" y="172.20" font-family="'Liberation Sans', Arial, Helvetica, sans-serif" font-size="40" text-anchor="end">1.0</text>
<text x="114.8" y="89.76" font-family="'Liberation Sans', Arial, Helvetica, sans-serif" font-size="40" text-anchor="end">1.2</text>
<text x="134.20" y="643.3" font-family="'Liberation Sans', Arial, Helvetica, sans-serif" font-size="40" text-anchor="middle">0</text>
<text x="261.78" y="643.3" font-family="'Liberation Sans', Arial, Helvetica, sans-serif" font-size="40" text-anchor="middle">2</text>
<text x="389.36" y="643.3" font-family="'Liberation Sans', Arial, Helvetica, sans-serif" font-size="40" text-anchor="middle">4</text>
<text x="516.94" y="643.3" font-family="'Liberation Sans', Arial, Helvetica, sans-serif" font-size="40" text-anchor="middle">6</text>
<text x="644.52" y="643.3" font-family="'Liberation Sans', Arial, Helvetica, sans-serif" font-size="40" text-anchor="middle">8</text>
<text x="772.10" y="643.3" font-family="'Liberation Sans', Arial, Helvetica, sans-serif" font-size="40" text-anchor="middle">10</text>
<text x="452.5" y="701.5" font-family="'Liberation Sans', Arial, Helvetica, sans-serif" font-size="42" text-anchor="middle">t(s)</text>
<text transform="translate(37,301.5) rotate(-90)" font-family="'Liberation Sans', Arial, Helvetica, sans-serif" font-size="41" text-anchor="middle"><tspan font-style="italic">F</tspan>(t)</text>
<rect x="0" y="304.3" width="3.4" height="28.3" fill="black"/>
<rect x="1090.7" y="4" width="378.5" height="594" fill="#d3e0f1"/>
<rect x="1469.2" y="4" width="105.3" height="594" fill="#fcebce"/>
<path d="M1043.0,296.2 L1043.7,296.8 L1044.3,297.3 L1045.0,297.8 L1045.7,298.3 L1046.3,298.9 L1047.0,299.4 L1047.7,299.9 L1048.3,300.5 L1049.0,301.0 L1049.7,301.5 L1050.3,302.0 L1051.0,302.6 L1051.7,303.1 L1052.3,303.6 L1053.0,304.1 L1053.7,304.6 L1054.3,305.2 L1055.0,305.7 L1055.7,306.2 L1056.3,306.7 L1057.0,307.2 L1057.7,307.7 L1058.3,308.2 L1059.0,308.7 L1059.7,309.2 L1060.3,309.8 L1061.0,310.3 L1061.7,310.8 L1062.3,311.3 L1063.0,311.8 L1063.7,312.3 L1064.3,312.8 L1065.0,313.3 L1065.7,313.8 L1066.3,314.3 L1067.0,314.7 L1067.7,315.2 L1068.3,315.7 L1069.0,316.2 L1069.7,316.7 L1070.3,317.2 L1071.0,317.7 L1071.7,318.2 L1072.3,318.7 L1073.0,319.1 L1073.7,319.6 L1074.3,320.1 L1075.0,320.6 L1075.7,321.1 L1076.3,321.5 L1077.0,322.0 L1077.7,322.5 L1078.3,323.0 L1079.0,323.4 L1079.7,323.9 L1080.3,324.4 L1081.0,324.9 L1081.7,325.3 L1082.3,325.8 L1083.0,326.3 L1083.7,326.7 L1084.3,327.2 L1085.0,327.6 L1085.7,328.1 L1086.3,328.6 L1087.0,329.0 L1087.7,329.5 L1088.3,329.9 L1089.0,330.4 L1089.7,330.9 L1090.3,331.3 L1091.0,331.8 L1091.7,332.2 L1092.3,332.7 L1093.0,333.1 L1093.7,333.6 L1094.3,334.0 L1095.0,334.4 L1095.7,334.9 L1096.3,335.3 L1097.0,335.8 L1097.6,336.2 L1098.3,336.7 L1099.0,337.1 L1099.6,337.5 L1100.3,338.0 L1101.0,338.4 L1101.6,338.8 L1102.3,339.3 L1103.0,339.7 L1103.6,340.1 L1104.3,340.6 L1105.0,341.0 L1105.6,341.4 L1106.3,341.9 L1107.0,342.3 L1107.6,342.7 L1108.3,343.1 L1109.0,343.6 L1109.6,344.0 L1110.3,344.4 L1111.0,344.8 L1111.6,345.2 L1112.3,345.7 L1113.0,346.1 L1113.6,346.5 L1114.3,346.9 L1115.0,347.3 L1115.6,347.7 L1116.3,348.1 L1117.0,348.5 L1117.6,349.0 L1118.3,349.4 L1119.0,349.8 L1119.6,350.2 L1120.3,350.6 L1121.0,351.0 L1121.6,351.4 L1122.3,351.8 L1123.0,352.2 L1123.6,352.6 L1124.3,353.0 L1125.0,353.4 L1125.6,353.8 L1126.3,354.2 L1127.0,354.6 L1127.6,355.0 L1128.3,355.4 L1129.0,355.7 L1129.6,356.1 L1130.3,356.5 L1131.0,356.9 L1131.6,357.3 L1132.3,357.7 L1133.0,358.1 L1133.6,358.5 L1134.3,358.8 L1135.0,359.2 L1135.6,359.6 L1136.3,360.0 L1137.0,360.4 L1137.6,360.8 L1138.3,361.1 L1139.0,361.5 L1139.6,361.9 L1140.3,362.3 L1141.0,362.6 L1141.6,363.0 L1142.3,363.4 L1143.0,363.8 L1143.6,364.1 L1144.3,364.5 L1145.0,364.9 L1145.6,365.2 L1146.3,365.6 L1147.0,366.0 L1147.6,366.3 L1148.3,366.7 L1149.0,367.1 L1149.6,367.4 L1150.3,367.8 L1151.0,368.2 L1151.6,368.5 L1152.3,368.9 L1153.0,369.2 L1153.6,369.6 L1154.3,369.9 L1155.0,370.3 L1155.6,370.7 L1156.3,371.0 L1157.0,371.4 L1157.6,371.7 L1158.3,372.1 L1159.0,372.4 L1159.6,372.8 L1160.3,373.1 L1161.0,373.5 L1161.6,373.8 L1162.3,374.2 L1163.0,374.5 L1163.6,374.9 L1164.3,375.2 L1165.0,375.6 L1165.6,375.9 L1166.3,376.2 L1167.0,376.6 L1167.6,376.9 L1168.3,377.3 L1169.0,377.6 L1169.6,377.9 L1170.3,378.3 L1171.0,378.6 L1171.6,378.9 L1172.3,379.3 L1173.0,379.6 L1173.6,380.0 L1174.3,380.3 L1175.0,380.6 L1175.6,381.0 L1176.3,381.3 L1177.0,381.6 L1177.6,381.9 L1178.3,382.3 L1179.0,382.6 L1179.6,382.9 L1180.3,383.3 L1181.0,383.6 L1181.6,383.9 L1182.3,384.2 L1183.0,384.6 L1183.6,384.9 L1184.3,385.2 L1185.0,385.5 L1185.6,385.8 L1186.3,386.2 L1187.0,386.5 L1187.6,386.8 L1188.3,387.1 L1189.0,387.4 L1189.6,387.8 L1190.3,388.1 L1191.0,388.4 L1191.6,388.7 L1192.3,389.0 L1193.0,389.3 L1193.6,389.6 L1194.3,390.0 L1195.0,390.3 L1195.6,390.6 L1196.3,390.9 L1197.0,391.2 L1197.6,391.5 L1198.3,391.8 L1199.0,392.1 L1199.6,392.4 L1200.3,392.7 L1201.0,393.1 L1201.6,393.4 L1202.3,393.7 L1202.9,394.0 L1203.6,394.3 L1204.3,394.6 L1204.9,394.9 L1205.6,395.2 L1206.3,395.5 L1206.9,395.8 L1207.6,396.1 L1208.3,396.4 L1208.9,396.7 L1209.6,397.0 L1210.3,397.3 L1210.9,397.6 L1211.6,397.9 L1212.3,398.2 L1212.9,398.5 L1213.6,398.8 L1214.3,399.1 L1214.9,399.4 L1215.6,399.6 L1216.3,399.9 L1216.9,400.2 L1217.6,400.5 L1218.3,400.8 L1218.9,401.1 L1219.6,401.4 L1220.3,401.7 L1220.9,402.0 L1221.6,402.3 L1222.3,402.6 L1222.9,402.9 L1223.6,403.1 L1224.3,403.4 L1224.9,403.7 L1225.6,404.0 L1226.3,404.3 L1226.9,404.6 L1227.6,404.9 L1228.3,405.1 L1228.9,405.4 L1229.6,405.7 L1230.3,406.0 L1230.9,406.3 L1231.6,406.6 L1232.3,406.8 L1232.9,407.1 L1233.6,407.4 L1234.3,407.7 L1234.9,408.0 L1235.6,408.2 L1236.3,408.5 L1236.9,408.8 L1237.6,409.1 L1238.3,409.4 L1238.9,409.6 L1239.6,409.9 L1240.3,410.2 L1240.9,410.5 L1241.6,410.7 L1242.3,411.0 L1242.9,411.3 L1243.6,411.6 L1244.3,411.8 L1244.9,412.1 L1245.6,412.4 L1246.3,412.7 L1246.9,412.9 L1247.6,413.2 L1248.3,413.5 L1248.9,413.7 L1249.6,414.0 L1250.3,414.3 L1250.9,414.6 L1251.6,414.8 L1252.3,415.1 L1252.9,415.4 L1253.6,415.6 L1254.3,415.9 L1254.9,416.2 L1255.6,416.4 L1256.3,416.7 L1256.9,417.0 L1257.6,417.2 L1258.3,417.5 L1258.9,417.8 L1259.6,418.0 L1260.3,418.3 L1260.9,418.6 L1261.6,418.8 L1262.3,419.1 L1262.9,419.4 L1263.6,419.6 L1264.3,419.9 L1264.9,420.1 L1265.6,420.4 L1266.3,420.7 L1266.9,420.9 L1267.6,421.2 L1268.3,421.5 L1268.9,421.7 L1269.6,422.0 L1270.3,422.2 L1270.9,422.5 L1271.6,422.8 L1272.3,423.0 L1272.9,423.3 L1273.6,423.5 L1274.3,423.8 L1274.9,424.0 L1275.6,424.3 L1276.3,424.6 L1276.9,424.8 L1277.6,425.1 L1278.3,425.3 L1278.9,425.6 L1279.6,425.8 L1280.3,426.1 L1280.9,426.4 L1281.6,426.6 L1282.3,426.9 L1282.9,427.1 L1283.6,427.4 L1284.3,427.6 L1284.9,427.9 L1285.6,428.1 L1286.3,428.4 L1286.9,428.6 L1287.6,428.9 L1288.3,429.1 L1288.9,429.4 L1289.6,429.7 L1290.3,429.9 L1290.9,430.2 L1291.6,430.4 L1292.3,430.7 L1292.9,430.9 L1293.6,431.2 L1294.3,431.4 L1294.9,431.7 L1295.6,431.9 L1296.3,432.2 L1296.9,432.4 L1297.6,432.7 L1298.3,432.9 L1298.9,433.2 L1299.6,433.4 L1300.3,433.6 L1300.9,433.9 L1301.6,434.1 L1302.3,434.4 L1302.9,434.6 L1303.6,434.9 L1304.3,435.1 L1304.9,435.4 L1305.6,435.6 L1306.3,435.9 L1306.9,436.1 L1307.6,436.4 L1308.3,436.6 L1308.9,436.9 L1309.6,437.1 L1310.2,437.3 L1310.9,437.6 L1311.6,437.8 L1312.2,438.1 L1312.9,438.3 L1313.6,438.6 L1314.2,438.8 L1314.9,439.1 L1315.6,439.3 L1316.2,439.5 L1316.9,439.8 L1317.6,440.0 L1318.2,440.3 L1318.9,440.5 L1319.6,440.7 L1320.2,441.0 L1320.9,441.2 L1321.6,441.5 L1322.2,441.7 L1322.9,442.0 L1323.6,442.2 L1324.2,442.4 L1324.9,442.7 L1325.6,442.9 L1326.2,443.2 L1326.9,443.4 L1327.6,443.6 L1328.2,443.9 L1328.9,444.1 L1329.6,444.4 L1330.2,444.6 L1330.9,444.8 L1331.6,445.1 L1332.2,445.3 L1332.9,445.6 L1333.6,445.8 L1334.2,446.0 L1334.9,446.3 L1335.6,446.5 L1336.2,446.7 L1336.9,447.0 L1337.6,447.2 L1338.2,447.5 L1338.9,447.7 L1339.6,447.9 L1340.2,448.2 L1340.9,448.4 L1341.6,448.6 L1342.2,448.9 L1342.9,449.1 L1343.6,449.3 L1344.2,449.6 L1344.9,449.8 L1345.6,450.1 L1346.2,450.3 L1346.9,450.5 L1347.6,450.8 L1348.2,451.0 L1348.9,451.2 L1349.6,451.5 L1350.2,451.7 L1350.9,451.9 L1351.6,452.2 L1352.2,452.4 L1352.9,452.6 L1353.6,452.9 L1354.2,453.1 L1354.9,453.3 L1355.6,453.6 L1356.2,453.8 L1356.9,454.0 L1357.6,454.3 L1358.2,454.5 L1358.9,454.7 L1359.6,455.0 L1360.2,455.2 L1360.9,455.4 L1361.6,455.7 L1362.2,455.9 L1362.9,456.1 L1363.6,456.4 L1364.2,456.6 L1364.9,456.8 L1365.6,457.1 L1366.2,457.3 L1366.9,457.5 L1367.6,457.8 L1368.2,458.0 L1368.9,458.2 L1369.6,458.5 L1370.2,458.7 L1370.9,458.9 L1371.6,459.1 L1372.2,459.4 L1372.9,459.6 L1373.6,459.8 L1374.2,460.1 L1374.9,460.3 L1375.6,460.5 L1376.2,460.8 L1376.9,461.0 L1377.6,461.2 L1378.2,461.5 L1378.9,461.7 L1379.6,461.9 L1380.2,462.1 L1380.9,462.4 L1381.6,462.6 L1382.2,462.8 L1382.9,463.1 L1383.6,463.3 L1384.2,463.5 L1384.9,463.7 L1385.6,464.0 L1386.2,464.2 L1386.9,464.4 L1387.6,464.7 L1388.2,464.9 L1388.9,465.1 L1389.6,465.3 L1390.2,465.6 L1390.9,465.8 L1391.6,466.0 L1392.2,466.3 L1392.9,466.5 L1393.6,466.7 L1394.2,466.9 L1394.9,467.2 L1395.6,467.4 L1396.2,467.6 L1396.9,467.9 L1397.6,468.1 L1398.2,468.3 L1398.9,468.5 L1399.6,468.8 L1400.2,469.0 L1400.9,469.2 L1401.6,469.4 L1402.2,469.7 L1402.9,469.9 L1403.6,470.1 L1404.2,470.4 L1404.9,470.6 L1405.6,470.8 L1406.2,471.0 L1406.9,471.3 L1407.6,471.5 L1408.2,471.7 L1408.9,471.9 L1409.6,472.2 L1410.2,472.4 L1410.9,472.6 L1411.6,472.8 L1412.2,473.1 L1412.9,473.3 L1413.6,473.5 L1414.2,473.7 L1414.9,474.0 L1415.6,474.2 L1416.2,474.4 L1416.9,474.6 L1417.5,474.9 L1418.2,475.1 L1418.9,475.3 L1419.5,475.5 L1420.2,475.8 L1420.9,476.0 L1421.5,476.2 L1422.2,476.4 L1422.9,476.7 L1423.5,476.9 L1424.2,477.1 L1424.9,477.3 L1425.5,477.6 L1426.2,477.8 L1426.9,478.0 L1427.5,478.2 L1428.2,478.5 L1428.9,478.7 L1429.5,478.9 L1430.2,479.1 L1430.9,479.4 L1431.5,479.6 L1432.2,479.8 L1432.9,480.0 L1433.5,480.3 L1434.2,480.5 L1434.9,480.7 L1435.5,480.9 L1436.2,481.2 L1436.9,481.4 L1437.5,481.6 L1438.2,481.8 L1438.9,482.1 L1439.5,482.3 L1440.2,482.5 L1440.9,482.7 L1441.5,482.9 L1442.2,483.2 L1442.9,483.4 L1443.5,483.6 L1444.2,483.8 L1444.9,484.1 L1445.5,484.3 L1446.2,484.5 L1446.9,484.7 L1447.5,485.0 L1448.2,485.2 L1448.9,485.4 L1449.5,485.6 L1450.2,485.8 L1450.9,486.1 L1451.5,486.3 L1452.2,486.5 L1452.9,486.7 L1453.5,487.0 L1454.2,487.2 L1454.9,487.4 L1455.5,487.6 L1456.2,487.9 L1456.9,488.1 L1457.5,488.3 L1458.2,488.5 L1458.9,488.7 L1459.5,489.0 L1460.2,489.2 L1460.9,489.4 L1461.5,489.6 L1462.2,489.9 L1462.9,490.1 L1463.5,490.3 L1464.2,490.5 L1464.9,490.7 L1465.5,491.0 L1466.2,491.2 L1466.9,491.4 L1467.5,491.6 L1468.2,491.9 L1468.9,492.1 L1469.5,492.3 L1470.2,492.5 L1470.9,492.7 L1471.5,493.0 L1472.2,493.2 L1472.9,493.4 L1473.5,493.6 L1474.2,493.8 L1474.9,494.1 L1475.5,494.3 L1476.2,494.5 L1476.9,494.7 L1477.5,495.0 L1478.2,495.2 L1478.9,495.4 L1479.5,495.6 L1480.2,495.8 L1480.9,496.1 L1481.5,496.3 L1482.2,496.5 L1482.9,496.7 L1483.5,496.9 L1484.2,497.2 L1484.9,497.4 L1485.5,497.6 L1486.2,497.8 L1486.9,498.0 L1487.5,498.3 L1488.2,498.5 L1488.9,498.7 L1489.5,498.9 L1490.2,499.2 L1490.9,499.4 L1491.5,499.6 L1492.2,499.8 L1492.9,500.0 L1493.5,500.3 L1494.2,500.5 L1494.9,500.7 L1495.5,500.9 L1496.2,501.1 L1496.9,501.4 L1497.5,501.6 L1498.2,501.8 L1498.9,502.0 L1499.5,502.2 L1500.2,502.5 L1500.9,502.7 L1501.5,502.9 L1502.2,503.1 L1502.9,503.3 L1503.5,503.6 L1504.2,503.8 L1504.9,504.0 L1505.5,504.2 L1506.2,504.4 L1506.9,504.7 L1507.5,504.9 L1508.2,505.1 L1508.9,505.3 L1509.5,505.5 L1510.2,505.8 L1510.9,506.0 L1511.5,506.2 L1512.2,506.4 L1512.9,506.6 L1513.5,506.9 L1514.2,507.1 L1514.9,507.3 L1515.5,507.5 L1516.2,507.7 L1516.9,508.0 L1517.5,508.2 L1518.2,508.4 L1518.9,508.6 L1519.5,508.8 L1520.2,509.1 L1520.9,509.3 L1521.5,509.5 L1522.2,509.7 L1522.8,509.9 L1523.5,510.2 L1524.2,510.4 L1524.8,510.6 L1525.5,510.8 L1526.2,511.0 L1526.8,511.3 L1527.5,511.5 L1528.2,511.7 L1528.8,511.9 L1529.5,512.1 L1530.2,512.4 L1530.8,512.6 L1531.5,512.8 L1532.2,513.0 L1532.8,513.2 L1533.5,513.5 L1534.2,513.7 L1534.8,513.9 L1535.5,514.1 L1536.2,514.3 L1536.8,514.6 L1537.5,514.8 L1538.2,515.0 L1538.8,515.2 L1539.5,515.4 L1540.2,515.7 L1540.8,515.9 L1541.5,516.1 L1542.2,516.3 L1542.8,516.5 L1543.5,516.8 L1544.2,517.0 L1544.8,517.2 L1545.5,517.4 L1546.2,517.6 L1546.8,517.8 L1547.5,518.1 L1548.2,518.3 L1548.8,518.5 L1549.5,518.7 L1550.2,518.9 L1550.8,519.2 L1551.5,519.4 L1552.2,519.6 L1552.8,519.8 L1553.5,520.0 L1554.2,520.3 L1554.8,520.5 L1555.5,520.7 L1556.2,520.9 L1556.8,521.1 L1557.5,521.4 L1558.2,521.6 L1558.8,521.8 L1559.5,522.0 L1560.2,522.2 L1560.8,522.5 L1561.5,522.7 L1562.2,522.9 L1562.8,523.1 L1563.5,523.3 L1564.2,523.5 L1564.8,523.8 L1565.5,524.0 L1566.2,524.2 L1566.8,524.4 L1567.5,524.6 L1568.2,524.9 L1568.8,525.1 L1569.5,525.3 L1570.2,525.5 L1570.8,525.7 L1571.5,526.0 L1572.2,526.2 L1572.8,526.4 L1573.5,526.6 L1574.2,526.8 L1574.8,527.0 L1575.5,527.3" fill="none" stroke="#0000ff" stroke-width="3.50" stroke-linejoin="round" stroke-linecap="square"/>
<path d="M1043.0,196.7 L1043.7,197.4 L1044.3,198.1 L1045.0,198.8 L1045.7,199.5 L1046.3,200.2 L1047.0,200.9 L1047.7,201.6 L1048.3,202.3 L1049.0,203.0 L1049.7,203.7 L1050.3,204.4 L1051.0,205.0 L1051.7,205.7 L1052.3,206.4 L1053.0,207.1 L1053.7,207.8 L1054.3,208.5 L1055.0,209.2 L1055.7,209.8 L1056.3,210.5 L1057.0,211.2 L1057.7,211.9 L1058.3,212.6 L1059.0,213.2 L1059.7,213.9 L1060.3,214.6 L1061.0,215.3 L1061.7,215.9 L1062.3,216.6 L1063.0,217.3 L1063.7,218.0 L1064.3,218.6 L1065.0,219.3 L1065.7,220.0 L1066.3,220.6 L1067.0,221.3 L1067.7,222.0 L1068.3,222.6 L1069.0,223.3 L1069.7,224.0 L1070.3,224.6 L1071.0,225.3 L1071.7,226.0 L1072.3,226.6 L1073.0,227.3 L1073.7,227.9 L1074.3,228.6 L1075.0,229.3 L1075.7,229.9 L1076.3,230.6 L1077.0,231.2 L1077.7,231.9 L1078.3,232.5 L1079.0,233.2 L1079.7,233.8 L1080.3,234.5 L1081.0,235.1 L1081.7,235.8 L1082.3,236.4 L1083.0,237.1 L1083.7,237.7 L1084.3,238.4 L1085.0,239.0 L1085.7,239.6 L1086.3,240.3 L1087.0,240.9 L1087.7,241.6 L1088.3,242.2 L1089.0,242.8 L1089.7,243.5 L1090.3,244.1 L1091.0,244.7 L1091.7,245.4 L1092.3,246.0 L1093.0,246.6 L1093.7,247.3 L1094.3,247.9 L1095.0,248.5 L1095.7,249.2 L1096.3,249.8 L1097.0,250.4 L1097.6,251.0 L1098.3,251.7 L1099.0,252.3 L1099.6,252.9 L1100.3,253.5 L1101.0,254.1 L1101.6,254.8 L1102.3,255.4 L1103.0,256.0 L1103.6,256.6 L1104.3,257.2 L1105.0,257.8 L1105.6,258.4 L1106.3,259.1 L1107.0,259.7 L1107.6,260.3 L1108.3,260.9 L1109.0,261.5 L1109.6,262.1 L1110.3,262.7 L1111.0,263.3 L1111.6,263.9 L1112.3,264.5 L1113.0,265.1 L1113.6,265.7 L1114.3,266.3 L1115.0,266.9 L1115.6,267.5 L1116.3,268.1 L1117.0,268.7 L1117.6,269.3 L1118.3,269.9 L1119.0,270.4 L1119.6,271.0 L1120.3,271.6 L1121.0,272.2 L1121.6,272.8 L1122.3,273.4 L1123.0,274.0 L1123.6,274.5 L1124.3,275.1 L1125.0,275.7 L1125.6,276.3 L1126.3,276.9 L1127.0,277.4 L1127.6,278.0 L1128.3,278.6 L1129.0,279.1 L1129.6,279.7 L1130.3,280.3 L1131.0,280.9 L1131.6,281.4 L1132.3,282.0 L1133.0,282.6 L1133.6,283.1 L1134.3,283.7 L1135.0,284.2 L1135.6,284.8 L1136.3,285.4 L1137.0,285.9 L1137.6,286.5 L1138.3,287.0 L1139.0,287.6 L1139.6,288.2 L1140.3,288.7 L1141.0,289.3 L1141.6,289.8 L1142.3,290.4 L1143.0,290.9 L1143.6,291.5 L1144.3,292.0 L1145.0,292.5 L1145.6,293.1 L1146.3,293.6 L1147.0,294.2 L1147.6,294.7 L1148.3,295.2 L1149.0,295.8 L1149.6,296.3 L1150.3,296.9 L1151.0,297.4 L1151.6,297.9 L1152.3,298.5 L1153.0,299.0 L1153.6,299.5 L1154.3,300.0 L1155.0,300.6 L1155.6,301.1 L1156.3,301.6 L1157.0,302.1 L1157.6,302.7 L1158.3,303.2 L1159.0,303.7 L1159.6,304.2 L1160.3,304.7 L1161.0,305.3 L1161.6,305.8 L1162.3,306.3 L1163.0,306.8 L1163.6,307.3 L1164.3,307.8 L1165.0,308.3 L1165.6,308.8 L1166.3,309.3 L1167.0,309.9 L1167.6,310.4 L1168.3,310.9 L1169.0,311.4 L1169.6,311.9 L1170.3,312.4 L1171.0,312.9 L1171.6,313.4 L1172.3,313.9 L1173.0,314.4 L1173.6,314.8 L1174.3,315.3 L1175.0,315.8 L1175.6,316.3 L1176.3,316.8 L1177.0,317.3 L1177.6,317.8 L1178.3,318.3 L1179.0,318.8 L1179.6,319.2 L1180.3,319.7 L1181.0,320.2 L1181.6,320.7 L1182.3,321.2 L1183.0,321.6 L1183.6,322.1 L1184.3,322.6 L1185.0,323.1 L1185.6,323.5 L1186.3,324.0 L1187.0,324.5 L1187.6,324.9 L1188.3,325.4 L1189.0,325.9 L1189.6,326.3 L1190.3,326.8 L1191.0,327.3 L1191.6,327.7 L1192.3,328.2 L1193.0,328.7 L1193.6,329.1 L1194.3,329.6 L1195.0,330.0 L1195.6,330.5 L1196.3,330.9 L1197.0,331.4 L1197.6,331.8 L1198.3,332.3 L1199.0,332.7 L1199.6,333.2 L1200.3,333.6 L1201.0,334.1 L1201.6,334.5 L1202.3,335.0 L1202.9,335.4 L1203.6,335.9 L1204.3,336.3 L1204.9,336.7 L1205.6,337.2 L1206.3,337.6 L1206.9,338.1 L1207.6,338.5 L1208.3,338.9 L1208.9,339.4 L1209.6,339.8 L1210.3,340.2 L1210.9,340.7 L1211.6,341.1 L1212.3,341.5 L1212.9,341.9 L1213.6,342.4 L1214.3,342.8 L1214.9,343.2 L1215.6,343.6 L1216.3,344.1 L1216.9,344.5 L1217.6,344.9 L1218.3,345.3 L1218.9,345.7 L1219.6,346.1 L1220.3,346.6 L1220.9,347.0 L1221.6,347.4 L1222.3,347.8 L1222.9,348.2 L1223.6,348.6 L1224.3,349.0 L1224.9,349.4 L1225.6,349.8 L1226.3,350.3 L1226.9,350.7 L1227.6,351.1 L1228.3,351.5 L1228.9,351.9 L1229.6,352.3 L1230.3,352.7 L1230.9,353.1 L1231.6,353.5 L1232.3,353.9 L1232.9,354.3 L1233.6,354.6 L1234.3,355.0 L1234.9,355.4 L1235.6,355.8 L1236.3,356.2 L1236.9,356.6 L1237.6,357.0 L1238.3,357.4 L1238.9,357.8 L1239.6,358.2 L1240.3,358.5 L1240.9,358.9 L1241.6,359.3 L1242.3,359.7 L1242.9,360.1 L1243.6,360.5 L1244.3,360.8 L1244.9,361.2 L1245.6,361.6 L1246.3,362.0 L1246.9,362.3 L1247.6,362.7 L1248.3,363.1 L1248.9,363.5 L1249.6,363.8 L1250.3,364.2 L1250.9,364.6 L1251.6,364.9 L1252.3,365.3 L1252.9,365.7 L1253.6,366.0 L1254.3,366.4 L1254.9,366.8 L1255.6,367.1 L1256.3,367.5 L1256.9,367.9 L1257.6,368.2 L1258.3,368.6 L1258.9,368.9 L1259.6,369.3 L1260.3,369.7 L1260.9,370.0 L1261.6,370.4 L1262.3,370.7 L1262.9,371.1 L1263.6,371.4 L1264.3,371.8 L1264.9,372.1 L1265.6,372.5 L1266.3,372.8 L1266.9,373.2 L1267.6,373.5 L1268.3,373.9 L1268.9,374.2 L1269.6,374.6 L1270.3,374.9 L1270.9,375.3 L1271.6,375.6 L1272.3,376.0 L1272.9,376.3 L1273.6,376.6 L1274.3,377.0 L1274.9,377.3 L1275.6,377.7 L1276.3,378.0 L1276.9,378.3 L1277.6,378.7 L1278.3,379.0 L1278.9,379.4 L1279.6,379.7 L1280.3,380.0 L1280.9,380.4 L1281.6,380.7 L1282.3,381.0 L1282.9,381.3 L1283.6,381.7 L1284.3,382.0 L1284.9,382.3 L1285.6,382.7 L1286.3,383.0 L1286.9,383.3 L1287.6,383.6 L1288.3,384.0 L1288.9,384.3 L1289.6,384.6 L1290.3,384.9 L1290.9,385.3 L1291.6,385.6 L1292.3,385.9 L1292.9,386.2 L1293.6,386.5 L1294.3,386.9 L1294.9,387.2 L1295.6,387.5 L1296.3,387.8 L1296.9,388.1 L1297.6,388.5 L1298.3,388.8 L1298.9,389.1 L1299.6,389.4 L1300.3,389.7 L1300.9,390.0 L1301.6,390.3 L1302.3,390.6 L1302.9,391.0 L1303.6,391.3 L1304.3,391.6 L1304.9,391.9 L1305.6,392.2 L1306.3,392.5 L1306.9,392.8 L1307.6,393.1 L1308.3,393.4 L1308.9,393.7 L1309.6,394.0 L1310.2,394.3 L1310.9,394.6 L1311.6,394.9 L1312.2,395.2 L1312.9,395.5 L1313.6,395.8 L1314.2,396.1 L1314.9,396.4 L1315.6,396.7 L1316.2,397.0 L1316.9,397.3 L1317.6,397.6 L1318.2,397.9 L1318.9,398.2 L1319.6,398.5 L1320.2,398.8 L1320.9,399.1 L1321.6,399.4 L1322.2,399.7 L1322.9,400.0 L1323.6,400.3 L1324.2,400.6 L1324.9,400.9 L1325.6,401.2 L1326.2,401.5 L1326.9,401.8 L1327.6,402.0 L1328.2,402.3 L1328.9,402.6 L1329.6,402.9 L1330.2,403.2 L1330.9,403.5 L1331.6,403.8 L1332.2,404.1 L1332.9,404.3 L1333.6,404.6 L1334.2,404.9 L1334.9,405.2 L1335.6,405.5 L1336.2,405.8 L1336.9,406.0 L1337.6,406.3 L1338.2,406.6 L1338.9,406.9 L1339.6,407.2 L1340.2,407.5 L1340.9,407.7 L1341.6,408.0 L1342.2,408.3 L1342.9,408.6 L1343.6,408.9 L1344.2,409.1 L1344.9,409.4 L1345.6,409.7 L1346.2,410.0 L1346.9,410.2 L1347.6,410.5 L1348.2,410.8 L1348.9,411.1 L1349.6,411.3 L1350.2,411.6 L1350.9,411.9 L1351.6,412.2 L1352.2,412.4 L1352.9,412.7 L1353.6,413.0 L1354.2,413.3 L1354.9,413.5 L1355.6,413.8 L1356.2,414.1 L1356.9,414.3 L1357.6,414.6 L1358.2,414.9 L1358.9,415.2 L1359.6,415.4 L1360.2,415.7 L1360.9,416.0 L1361.6,416.2 L1362.2,416.5 L1362.9,416.8 L1363.6,417.0 L1364.2,417.3 L1364.9,417.6 L1365.6,417.8 L1366.2,418.1 L1366.9,418.4 L1367.6,418.6 L1368.2,418.9 L1368.9,419.1 L1369.6,419.4 L1370.2,419.7 L1370.9,419.9 L1371.6,420.2 L1372.2,420.5 L1372.9,420.7 L1373.6,421.0 L1374.2,421.2 L1374.9,421.5 L1375.6,421.8 L1376.2,422.0 L1376.9,422.3 L1377.6,422.5 L1378.2,422.8 L1378.9,423.1 L1379.6,423.3 L1380.2,423.6 L1380.9,423.8 L1381.6,424.1 L1382.2,424.4 L1382.9,424.6 L1383.6,424.9 L1384.2,425.1 L1384.9,425.4 L1385.6,425.6 L1386.2,425.9 L1386.9,426.2 L1387.6,426.4 L1388.2,426.7 L1388.9,426.9 L1389.6,427.2 L1390.2,427.4 L1390.9,427.7 L1391.6,427.9 L1392.2,428.2 L1392.9,428.4 L1393.6,428.7 L1394.2,428.9 L1394.9,429.2 L1395.6,429.5 L1396.2,429.7 L1396.9,430.0 L1397.6,430.2 L1398.2,430.5 L1398.9,430.7 L1399.6,431.0 L1400.2,431.2 L1400.9,431.5 L1401.6,431.7 L1402.2,432.0 L1402.9,432.2 L1403.6,432.5 L1404.2,432.7 L1404.9,433.0 L1405.6,433.2 L1406.2,433.5 L1406.9,433.7 L1407.6,433.9 L1408.2,434.2 L1408.9,434.4 L1409.6,434.7 L1410.2,434.9 L1410.9,435.2 L1411.6,435.4 L1412.2,435.7 L1412.9,435.9 L1413.6,436.2 L1414.2,436.4 L1414.9,436.7 L1415.6,436.9 L1416.2,437.1 L1416.9,437.4 L1417.5,437.6 L1418.2,437.9 L1418.9,438.1 L1419.5,438.4 L1420.2,438.6 L1420.9,438.9 L1421.5,439.1 L1422.2,439.3 L1422.9,439.6 L1423.5,439.8 L1424.2,440.1 L1424.9,440.3 L1425.5,440.6 L1426.2,440.8 L1426.9,441.0 L1427.5,441.3 L1428.2,441.5 L1428.9,441.8 L1429.5,442.0 L1430.2,442.2 L1430.9,442.5 L1431.5,442.7 L1432.2,443.0 L1432.9,443.2 L1433.5,443.4 L1434.2,443.7 L1434.9,443.9 L1435.5,444.2 L1436.2,444.4 L1436.9,444.6 L1437.5,444.9 L1438.2,445.1 L1438.9,445.4 L1439.5,445.6 L1440.2,445.8 L1440.9,446.1 L1441.5,446.3 L1442.2,446.6 L1442.9,446.8 L1443.5,447.0 L1444.2,447.3 L1444.9,447.5 L1445.5,447.7 L1446.2,448.0 L1446.9,448.2 L1447.5,448.4 L1448.2,448.7 L1448.9,448.9 L1449.5,449.2 L1450.2,449.4 L1450.9,449.6 L1451.5,449.9 L1452.2,450.1 L1452.9,450.3 L1453.5,450.6 L1454.2,450.8 L1454.9,451.0 L1455.5,451.3 L1456.2,451.5 L1456.9,451.7 L1457.5,452.0 L1458.2,452.2 L1458.9,452.5 L1459.5,452.7 L1460.2,452.9 L1460.9,453.2 L1461.5,453.4 L1462.2,453.6 L1462.9,453.9 L1463.5,454.1 L1464.2,454.3 L1464.9,454.6 L1465.5,454.8 L1466.2,455.0 L1466.9,455.3 L1467.5,455.5 L1468.2,455.7 L1468.9,455.9 L1469.5,456.2 L1470.2,456.4 L1470.9,456.6 L1471.5,456.9 L1472.2,457.1 L1472.9,457.3 L1473.5,457.6 L1474.2,457.8 L1474.9,458.0 L1475.5,458.3 L1476.2,458.5 L1476.9,458.7 L1477.5,459.0 L1478.2,459.2 L1478.9,459.4 L1479.5,459.7 L1480.2,459.9 L1480.9,460.1 L1481.5,460.3 L1482.2,460.6 L1482.9,460.8 L1483.5,461.0 L1484.2,461.3 L1484.9,461.5 L1485.5,461.7 L1486.2,462.0 L1486.9,462.2 L1487.5,462.4 L1488.2,462.6 L1488.9,462.9 L1489.5,463.1 L1490.2,463.3 L1490.9,463.6 L1491.5,463.8 L1492.2,464.0 L1492.9,464.2 L1493.5,464.5 L1494.2,464.7 L1494.9,464.9 L1495.5,465.2 L1496.2,465.4 L1496.9,465.6 L1497.5,465.8 L1498.2,466.1 L1498.9,466.3 L1499.5,466.5 L1500.2,466.8 L1500.9,467.0 L1501.5,467.2 L1502.2,467.4 L1502.9,467.7 L1503.5,467.9 L1504.2,468.1 L1504.9,468.4 L1505.5,468.6 L1506.2,468.8 L1506.9,469.0 L1507.5,469.3 L1508.2,469.5 L1508.9,469.7 L1509.5,469.9 L1510.2,470.2 L1510.9,470.4 L1511.5,470.6 L1512.2,470.8 L1512.9,471.1 L1513.5,471.3 L1514.2,471.5 L1514.9,471.8 L1515.5,472.0 L1516.2,472.2 L1516.9,472.4 L1517.5,472.7 L1518.2,472.9 L1518.9,473.1 L1519.5,473.3 L1520.2,473.6 L1520.9,473.8 L1521.5,474.0 L1522.2,474.2 L1522.8,474.5 L1523.5,474.7 L1524.2,474.9 L1524.8,475.1 L1525.5,475.4 L1526.2,475.6 L1526.8,475.8 L1527.5,476.0 L1528.2,476.3 L1528.8,476.5 L1529.5,476.7 L1530.2,476.9 L1530.8,477.2 L1531.5,477.4 L1532.2,477.6 L1532.8,477.8 L1533.5,478.1 L1534.2,478.3 L1534.8,478.5 L1535.5,478.7 L1536.2,479.0 L1536.8,479.2 L1537.5,479.4 L1538.2,479.6 L1538.8,479.9 L1539.5,480.1 L1540.2,480.3 L1540.8,480.5 L1541.5,480.8 L1542.2,481.0 L1542.8,481.2 L1543.5,481.4 L1544.2,481.7 L1544.8,481.9 L1545.5,482.1 L1546.2,482.3 L1546.8,482.5 L1547.5,482.8 L1548.2,483.0 L1548.8,483.2 L1549.5,483.4 L1550.2,483.7 L1550.8,483.9 L1551.5,484.1 L1552.2,484.3 L1552.8,484.6 L1553.5,484.8 L1554.2,485.0 L1554.8,485.2 L1555.5,485.4 L1556.2,485.7 L1556.8,485.9 L1557.5,486.1 L1558.2,486.3 L1558.8,486.6 L1559.5,486.8 L1560.2,487.0 L1560.8,487.2 L1561.5,487.5 L1562.2,487.7 L1562.8,487.9 L1563.5,488.1 L1564.2,488.3 L1564.8,488.6 L1565.5,488.8 L1566.2,489.0 L1566.8,489.2 L1567.5,489.5 L1568.2,489.7 L1568.8,489.9 L1569.5,490.1 L1570.2,490.3 L1570.8,490.6 L1571.5,490.8 L1572.2,491.0 L1572.8,491.2 L1573.5,491.5 L1574.2,491.7 L1574.8,491.9 L1575.5,492.1" fill="none" stroke="#0000ff" stroke-width="3.50" stroke-linejoin="round" stroke-dasharray="11.5 4.6"/>
<path d="M1043.0,78.0 L1043.7,78.8 L1044.3,79.5 L1045.0,80.3 L1045.7,81.1 L1046.3,81.9 L1047.0,82.6 L1047.7,83.4 L1048.3,84.2 L1049.0,85.0 L1049.7,85.7 L1050.3,86.5 L1051.0,87.3 L1051.7,88.1 L1052.3,88.8 L1053.0,89.6 L1053.7,90.4 L1054.3,91.1 L1055.0,91.9 L1055.7,92.7 L1056.3,93.5 L1057.0,94.2 L1057.7,95.0 L1058.3,95.8 L1059.0,96.5 L1059.7,97.3 L1060.3,98.1 L1061.0,98.8 L1061.7,99.6 L1062.3,100.4 L1063.0,101.1 L1063.7,101.9 L1064.3,102.7 L1065.0,103.4 L1065.7,104.2 L1066.3,105.0 L1067.0,105.7 L1067.7,106.5 L1068.3,107.3 L1069.0,108.0 L1069.7,108.8 L1070.3,109.6 L1071.0,110.3 L1071.7,111.1 L1072.3,111.8 L1073.0,112.6 L1073.7,113.4 L1074.3,114.1 L1075.0,114.9 L1075.7,115.7 L1076.3,116.4 L1077.0,117.2 L1077.7,117.9 L1078.3,118.7 L1079.0,119.4 L1079.7,120.2 L1080.3,121.0 L1081.0,121.7 L1081.7,122.5 L1082.3,123.2 L1083.0,124.0 L1083.7,124.7 L1084.3,125.5 L1085.0,126.3 L1085.7,127.0 L1086.3,127.8 L1087.0,128.5 L1087.7,129.3 L1088.3,130.0 L1089.0,130.8 L1089.7,131.5 L1090.3,132.3 L1091.0,133.0 L1091.7,133.8 L1092.3,134.5 L1093.0,135.3 L1093.7,136.0 L1094.3,136.8 L1095.0,137.5 L1095.7,138.3 L1096.3,139.0 L1097.0,139.8 L1097.6,140.5 L1098.3,141.2 L1099.0,142.0 L1099.6,142.7 L1100.3,143.5 L1101.0,144.2 L1101.6,145.0 L1102.3,145.7 L1103.0,146.4 L1103.6,147.2 L1104.3,147.9 L1105.0,148.7 L1105.6,149.4 L1106.3,150.1 L1107.0,150.9 L1107.6,151.6 L1108.3,152.4 L1109.0,153.1 L1109.6,153.8 L1110.3,154.6 L1111.0,155.3 L1111.6,156.0 L1112.3,156.8 L1113.0,157.5 L1113.6,158.2 L1114.3,159.0 L1115.0,159.7 L1115.6,160.4 L1116.3,161.2 L1117.0,161.9 L1117.6,162.6 L1118.3,163.3 L1119.0,164.1 L1119.6,164.8 L1120.3,165.5 L1121.0,166.3 L1121.6,167.0 L1122.3,167.7 L1123.0,168.4 L1123.6,169.2 L1124.3,169.9 L1125.0,170.6 L1125.6,171.3 L1126.3,172.0 L1127.0,172.8 L1127.6,173.5 L1128.3,174.2 L1129.0,174.9 L1129.6,175.6 L1130.3,176.4 L1131.0,177.1 L1131.6,177.8 L1132.3,178.5 L1133.0,179.2 L1133.6,179.9 L1134.3,180.7 L1135.0,181.4 L1135.6,182.1 L1136.3,182.8 L1137.0,183.5 L1137.6,184.2 L1138.3,184.9 L1139.0,185.6 L1139.6,186.3 L1140.3,187.0 L1141.0,187.8 L1141.6,188.5 L1142.3,189.2 L1143.0,189.9 L1143.6,190.6 L1144.3,191.3 L1145.0,192.0 L1145.6,192.7 L1146.3,193.4 L1147.0,194.1 L1147.6,194.8 L1148.3,195.5 L1149.0,196.2 L1149.6,196.9 L1150.3,197.6 L1151.0,198.3 L1151.6,199.0 L1152.3,199.7 L1153.0,200.4 L1153.6,201.0 L1154.3,201.7 L1155.0,202.4 L1155.6,203.1 L1156.3,203.8 L1157.0,204.5 L1157.6,205.2 L1158.3,205.9 L1159.0,206.6 L1159.6,207.2 L1160.3,207.9 L1161.0,208.6 L1161.6,209.3 L1162.3,210.0 L1163.0,210.7 L1163.6,211.3 L1164.3,212.0 L1165.0,212.7 L1165.6,213.4 L1166.3,214.1 L1167.0,214.7 L1167.6,215.4 L1168.3,216.1 L1169.0,216.8 L1169.6,217.4 L1170.3,218.1 L1171.0,218.8 L1171.6,219.4 L1172.3,220.1 L1173.0,220.8 L1173.6,221.4 L1174.3,222.1 L1175.0,222.8 L1175.6,223.4 L1176.3,224.1 L1177.0,224.8 L1177.6,225.4 L1178.3,226.1 L1179.0,226.8 L1179.6,227.4 L1180.3,228.1 L1181.0,228.7 L1181.6,229.4 L1182.3,230.0 L1183.0,230.7 L1183.6,231.4 L1184.3,232.0 L1185.0,232.7 L1185.6,233.3 L1186.3,234.0 L1187.0,234.6 L1187.6,235.3 L1188.3,235.9 L1189.0,236.6 L1189.6,237.2 L1190.3,237.8 L1191.0,238.5 L1191.6,239.1 L1192.3,239.8 L1193.0,240.4 L1193.6,241.1 L1194.3,241.7 L1195.0,242.3 L1195.6,243.0 L1196.3,243.6 L1197.0,244.2 L1197.6,244.9 L1198.3,245.5 L1199.0,246.1 L1199.6,246.8 L1200.3,247.4 L1201.0,248.0 L1201.6,248.7 L1202.3,249.3 L1202.9,249.9 L1203.6,250.5 L1204.3,251.2 L1204.9,251.8 L1205.6,252.4 L1206.3,253.0 L1206.9,253.6 L1207.6,254.3 L1208.3,254.9 L1208.9,255.5 L1209.6,256.1 L1210.3,256.7 L1210.9,257.3 L1211.6,258.0 L1212.3,258.6 L1212.9,259.2 L1213.6,259.8 L1214.3,260.4 L1214.9,261.0 L1215.6,261.6 L1216.3,262.2 L1216.9,262.8 L1217.6,263.4 L1218.3,264.0 L1218.9,264.6 L1219.6,265.2 L1220.3,265.8 L1220.9,266.4 L1221.6,267.0 L1222.3,267.6 L1222.9,268.2 L1223.6,268.8 L1224.3,269.4 L1224.9,270.0 L1225.6,270.6 L1226.3,271.1 L1226.9,271.7 L1227.6,272.3 L1228.3,272.9 L1228.9,273.5 L1229.6,274.1 L1230.3,274.7 L1230.9,275.2 L1231.6,275.8 L1232.3,276.4 L1232.9,277.0 L1233.6,277.5 L1234.3,278.1 L1234.9,278.7 L1235.6,279.3 L1236.3,279.8 L1236.9,280.4 L1237.6,281.0 L1238.3,281.5 L1238.9,282.1 L1239.6,282.7 L1240.3,283.2 L1240.9,283.8 L1241.6,284.4 L1242.3,284.9 L1242.9,285.5 L1243.6,286.0 L1244.3,286.6 L1244.9,287.2 L1245.6,287.7 L1246.3,288.3 L1246.9,288.8 L1247.6,289.4 L1248.3,289.9 L1248.9,290.5 L1249.6,291.0 L1250.3,291.6 L1250.9,292.1 L1251.6,292.7 L1252.3,293.2 L1252.9,293.7 L1253.6,294.3 L1254.3,294.8 L1254.9,295.4 L1255.6,295.9 L1256.3,296.4 L1256.9,297.0 L1257.6,297.5 L1258.3,298.0 L1258.9,298.6 L1259.6,299.1 L1260.3,299.6 L1260.9,300.1 L1261.6,300.7 L1262.3,301.2 L1262.9,301.7 L1263.6,302.2 L1264.3,302.8 L1264.9,303.3 L1265.6,303.8 L1266.3,304.3 L1266.9,304.8 L1267.6,305.4 L1268.3,305.9 L1268.9,306.4 L1269.6,306.9 L1270.3,307.4 L1270.9,307.9 L1271.6,308.4 L1272.3,308.9 L1272.9,309.4 L1273.6,310.0 L1274.3,310.5 L1274.9,311.0 L1275.6,311.5 L1276.3,312.0 L1276.9,312.5 L1277.6,313.0 L1278.3,313.5 L1278.9,314.0 L1279.6,314.5 L1280.3,314.9 L1280.9,315.4 L1281.6,315.9 L1282.3,316.4 L1282.9,316.9 L1283.6,317.4 L1284.3,317.9 L1284.9,318.4 L1285.6,318.9 L1286.3,319.3 L1286.9,319.8 L1287.6,320.3 L1288.3,320.8 L1288.9,321.3 L1289.6,321.7 L1290.3,322.2 L1290.9,322.7 L1291.6,323.2 L1292.3,323.6 L1292.9,324.1 L1293.6,324.6 L1294.3,325.0 L1294.9,325.5 L1295.6,326.0 L1296.3,326.4 L1296.9,326.9 L1297.6,327.4 L1298.3,327.8 L1298.9,328.3 L1299.6,328.8 L1300.3,329.2 L1300.9,329.7 L1301.6,330.1 L1302.3,330.6 L1302.9,331.0 L1303.6,331.5 L1304.3,331.9 L1304.9,332.4 L1305.6,332.8 L1306.3,333.3 L1306.9,333.7 L1307.6,334.2 L1308.3,334.6 L1308.9,335.1 L1309.6,335.5 L1310.2,336.0 L1310.9,336.4 L1311.6,336.8 L1312.2,337.3 L1312.9,337.7 L1313.6,338.1 L1314.2,338.6 L1314.9,339.0 L1315.6,339.5 L1316.2,339.9 L1316.9,340.3 L1317.6,340.7 L1318.2,341.2 L1318.9,341.6 L1319.6,342.0 L1320.2,342.5 L1320.9,342.9 L1321.6,343.3 L1322.2,343.7 L1322.9,344.1 L1323.6,344.6 L1324.2,345.0 L1324.9,345.4 L1325.6,345.8 L1326.2,346.2 L1326.9,346.6 L1327.6,347.1 L1328.2,347.5 L1328.9,347.9 L1329.6,348.3 L1330.2,348.7 L1330.9,349.1 L1331.6,349.5 L1332.2,349.9 L1332.9,350.3 L1333.6,350.7 L1334.2,351.1 L1334.9,351.5 L1335.6,351.9 L1336.2,352.3 L1336.9,352.7 L1337.6,353.1 L1338.2,353.5 L1338.9,353.9 L1339.6,354.3 L1340.2,354.7 L1340.9,355.1 L1341.6,355.5 L1342.2,355.9 L1342.9,356.3 L1343.6,356.7 L1344.2,357.1 L1344.9,357.5 L1345.6,357.8 L1346.2,358.2 L1346.9,358.6 L1347.6,359.0 L1348.2,359.4 L1348.9,359.8 L1349.6,360.1 L1350.2,360.5 L1350.9,360.9 L1351.6,361.3 L1352.2,361.7 L1352.9,362.0 L1353.6,362.4 L1354.2,362.8 L1354.9,363.2 L1355.6,363.5 L1356.2,363.9 L1356.9,364.3 L1357.6,364.6 L1358.2,365.0 L1358.9,365.4 L1359.6,365.8 L1360.2,366.1 L1360.9,366.5 L1361.6,366.8 L1362.2,367.2 L1362.9,367.6 L1363.6,367.9 L1364.2,368.3 L1364.9,368.7 L1365.6,369.0 L1366.2,369.4 L1366.9,369.7 L1367.6,370.1 L1368.2,370.4 L1368.9,370.8 L1369.6,371.2 L1370.2,371.5 L1370.9,371.9 L1371.6,372.2 L1372.2,372.6 L1372.9,372.9 L1373.6,373.3 L1374.2,373.6 L1374.9,374.0 L1375.6,374.3 L1376.2,374.7 L1376.9,375.0 L1377.6,375.3 L1378.2,375.7 L1378.9,376.0 L1379.6,376.4 L1380.2,376.7 L1380.9,377.1 L1381.6,377.4 L1382.2,377.7 L1382.9,378.1 L1383.6,378.4 L1384.2,378.7 L1384.9,379.1 L1385.6,379.4 L1386.2,379.8 L1386.9,380.1 L1387.6,380.4 L1388.2,380.8 L1388.9,381.1 L1389.6,381.4 L1390.2,381.7 L1390.9,382.1 L1391.6,382.4 L1392.2,382.7 L1392.9,383.1 L1393.6,383.4 L1394.2,383.7 L1394.9,384.0 L1395.6,384.4 L1396.2,384.7 L1396.9,385.0 L1397.6,385.3 L1398.2,385.6 L1398.9,386.0 L1399.6,386.3 L1400.2,386.6 L1400.9,386.9 L1401.6,387.2 L1402.2,387.6 L1402.9,387.9 L1403.6,388.2 L1404.2,388.5 L1404.9,388.8 L1405.6,389.1 L1406.2,389.5 L1406.9,389.8 L1407.6,390.1 L1408.2,390.4 L1408.9,390.7 L1409.6,391.0 L1410.2,391.3 L1410.9,391.6 L1411.6,391.9 L1412.2,392.3 L1412.9,392.6 L1413.6,392.9 L1414.2,393.2 L1414.9,393.5 L1415.6,393.8 L1416.2,394.1 L1416.9,394.4 L1417.5,394.7 L1418.2,395.0 L1418.9,395.3 L1419.5,395.6 L1420.2,395.9 L1420.9,396.2 L1421.5,396.5 L1422.2,396.8 L1422.9,397.1 L1423.5,397.4 L1424.2,397.7 L1424.9,398.0 L1425.5,398.3 L1426.2,398.6 L1426.9,398.9 L1427.5,399.2 L1428.2,399.5 L1428.9,399.8 L1429.5,400.1 L1430.2,400.4 L1430.9,400.6 L1431.5,400.9 L1432.2,401.2 L1432.9,401.5 L1433.5,401.8 L1434.2,402.1 L1434.9,402.4 L1435.5,402.7 L1436.2,403.0 L1436.9,403.3 L1437.5,403.5 L1438.2,403.8 L1438.9,404.1 L1439.5,404.4 L1440.2,404.7 L1440.9,405.0 L1441.5,405.3 L1442.2,405.5 L1442.9,405.8 L1443.5,406.1 L1444.2,406.4 L1444.9,406.7 L1445.5,407.0 L1446.2,407.2 L1446.9,407.5 L1447.5,407.8 L1448.2,408.1 L1448.9,408.4 L1449.5,408.6 L1450.2,408.9 L1450.9,409.2 L1451.5,409.5 L1452.2,409.7 L1452.9,410.0 L1453.5,410.3 L1454.2,410.6 L1454.9,410.8 L1455.5,411.1 L1456.2,411.4 L1456.9,411.7 L1457.5,411.9 L1458.2,412.2 L1458.9,412.5 L1459.5,412.8 L1460.2,413.0 L1460.9,413.3 L1461.5,413.6 L1462.2,413.9 L1462.9,414.1 L1463.5,414.4 L1464.2,414.7 L1464.9,414.9 L1465.5,415.2 L1466.2,415.5 L1466.9,415.7 L1467.5,416.0 L1468.2,416.3 L1468.9,416.5 L1469.5,416.8 L1470.2,417.1 L1470.9,417.3 L1471.5,417.6 L1472.2,417.9 L1472.9,418.1 L1473.5,418.4 L1474.2,418.7 L1474.9,418.9 L1475.5,419.2 L1476.2,419.5 L1476.9,419.7 L1477.5,420.0 L1478.2,420.3 L1478.9,420.5 L1479.5,420.8 L1480.2,421.0 L1480.9,421.3 L1481.5,421.6 L1482.2,421.8 L1482.9,422.1 L1483.5,422.3 L1484.2,422.6 L1484.9,422.9 L1485.5,423.1 L1486.2,423.4 L1486.9,423.6 L1487.5,423.9 L1488.2,424.2 L1488.9,424.4 L1489.5,424.7 L1490.2,424.9 L1490.9,425.2 L1491.5,425.4 L1492.2,425.7 L1492.9,425.9 L1493.5,426.2 L1494.2,426.5 L1494.9,426.7 L1495.5,427.0 L1496.2,427.2 L1496.9,427.5 L1497.5,427.7 L1498.2,428.0 L1498.9,428.2 L1499.5,428.5 L1500.2,428.7 L1500.9,429.0 L1501.5,429.2 L1502.2,429.5 L1502.9,429.8 L1503.5,430.0 L1504.2,430.3 L1504.9,430.5 L1505.5,430.8 L1506.2,431.0 L1506.9,431.3 L1507.5,431.5 L1508.2,431.8 L1508.9,432.0 L1509.5,432.3 L1510.2,432.5 L1510.9,432.8 L1511.5,433.0 L1512.2,433.3 L1512.9,433.5 L1513.5,433.7 L1514.2,434.0 L1514.9,434.2 L1515.5,434.5 L1516.2,434.7 L1516.9,435.0 L1517.5,435.2 L1518.2,435.5 L1518.9,435.7 L1519.5,436.0 L1520.2,436.2 L1520.9,436.5 L1521.5,436.7 L1522.2,437.0 L1522.8,437.2 L1523.5,437.4 L1524.2,437.7 L1524.8,437.9 L1525.5,438.2 L1526.2,438.4 L1526.8,438.7 L1527.5,438.9 L1528.2,439.1 L1528.8,439.4 L1529.5,439.6 L1530.2,439.9 L1530.8,440.1 L1531.5,440.4 L1532.2,440.6 L1532.8,440.8 L1533.5,441.1 L1534.2,441.3 L1534.8,441.6 L1535.5,441.8 L1536.2,442.1 L1536.8,442.3 L1537.5,442.5 L1538.2,442.8 L1538.8,443.0 L1539.5,443.3 L1540.2,443.5 L1540.8,443.7 L1541.5,444.0 L1542.2,444.2 L1542.8,444.5 L1543.5,444.7 L1544.2,444.9 L1544.8,445.2 L1545.5,445.4 L1546.2,445.6 L1546.8,445.9 L1547.5,446.1 L1548.2,446.4 L1548.8,446.6 L1549.5,446.8 L1550.2,447.1 L1550.8,447.3 L1551.5,447.5 L1552.2,447.8 L1552.8,448.0 L1553.5,448.3 L1554.2,448.5 L1554.8,448.7 L1555.5,449.0 L1556.2,449.2 L1556.8,449.4 L1557.5,449.7 L1558.2,449.9 L1558.8,450.1 L1559.5,450.4 L1560.2,450.6 L1560.8,450.9 L1561.5,451.1 L1562.2,451.3 L1562.8,451.6 L1563.5,451.8 L1564.2,452.0 L1564.8,452.3 L1565.5,452.5 L1566.2,452.7 L1566.8,453.0 L1567.5,453.2 L1568.2,453.4 L1568.8,453.7 L1569.5,453.9 L1570.2,454.1 L1570.8,454.4 L1571.5,454.6 L1572.2,454.8 L1572.8,455.1 L1573.5,455.3 L1574.2,455.5 L1574.8,455.8 L1575.5,456.0" fill="none" stroke="#0000ff" stroke-width="3.50" stroke-linejoin="round" stroke-dasharray="5.6 4.3 11.8 4.3"/>
<path d="M1043.0,306.2 L1043.7,306.7 L1044.3,307.2 L1045.0,307.7 L1045.7,308.2 L1046.3,308.7 L1047.0,309.2 L1047.7,309.6 L1048.3,310.1 L1049.0,310.6 L1049.7,311.1 L1050.3,311.5 L1051.0,312.0 L1051.7,312.5 L1052.3,312.9 L1053.0,313.4 L1053.7,313.9 L1054.3,314.3 L1055.0,314.8 L1055.7,315.3 L1056.3,315.7 L1057.0,316.2 L1057.7,316.6 L1058.3,317.1 L1059.0,317.5 L1059.7,317.9 L1060.3,318.4 L1061.0,318.8 L1061.7,319.3 L1062.3,319.7 L1063.0,320.1 L1063.7,320.6 L1064.3,321.0 L1065.0,321.4 L1065.7,321.8 L1066.3,322.3 L1067.0,322.7 L1067.7,323.1 L1068.3,323.5 L1069.0,323.9 L1069.7,324.3 L1070.3,324.7 L1071.0,325.1 L1071.7,325.5 L1072.3,325.9 L1073.0,326.3 L1073.7,326.7 L1074.3,327.1 L1075.0,327.5 L1075.7,327.9 L1076.3,328.3 L1077.0,328.7 L1077.7,329.1 L1078.3,329.5 L1079.0,329.8 L1079.7,330.2 L1080.3,330.6 L1081.0,331.0 L1081.7,331.3 L1082.3,331.7 L1083.0,332.1 L1083.7,332.4 L1084.3,332.8 L1085.0,333.2 L1085.7,333.5 L1086.3,333.9 L1087.0,334.2 L1087.7,334.6 L1088.3,334.9 L1089.0,335.3 L1089.7,335.6 L1090.3,336.0 L1091.0,336.3 L1091.7,336.6 L1092.3,337.0 L1093.0,337.3 L1093.7,337.6 L1094.3,338.0 L1095.0,338.3 L1095.7,338.6 L1096.3,338.9 L1097.0,339.3 L1097.6,339.6 L1098.3,339.9 L1099.0,340.2 L1099.6,340.5 L1100.3,340.8 L1101.0,341.2 L1101.6,341.5 L1102.3,341.8 L1103.0,342.1 L1103.6,342.4 L1104.3,342.7 L1105.0,343.0 L1105.6,343.3 L1106.3,343.5 L1107.0,343.8 L1107.6,344.1 L1108.3,344.4 L1109.0,344.7 L1109.6,345.0 L1110.3,345.3 L1111.0,345.5 L1111.6,345.8 L1112.3,346.1 L1113.0,346.4 L1113.6,346.6 L1114.3,346.9 L1115.0,347.2 L1115.6,347.4 L1116.3,347.7 L1117.0,348.0 L1117.6,348.2 L1118.3,348.5 L1119.0,348.7 L1119.6,349.0 L1120.3,349.2 L1121.0,349.5 L1121.6,349.7 L1122.3,350.0 L1123.0,350.2 L1123.6,350.5 L1124.3,350.7 L1125.0,350.9 L1125.6,351.2 L1126.3,351.4 L1127.0,351.6 L1127.6,351.9 L1128.3,352.1 L1129.0,352.3 L1129.6,352.6 L1130.3,352.8 L1131.0,353.0 L1131.6,353.2 L1132.3,353.4 L1133.0,353.7 L1133.6,353.9 L1134.3,354.1 L1135.0,354.3 L1135.6,354.5 L1136.3,354.7 L1137.0,354.9 L1137.6,355.1 L1138.3,355.3 L1139.0,355.5 L1139.6,355.7 L1140.3,355.9 L1141.0,356.1 L1141.6,356.3 L1142.3,356.5 L1143.0,356.7 L1143.6,356.9 L1144.3,357.1 L1145.0,357.3 L1145.6,357.5 L1146.3,357.7 L1147.0,357.8 L1147.6,358.0 L1148.3,358.2 L1149.0,358.4 L1149.6,358.5 L1150.3,358.7 L1151.0,358.9 L1151.6,359.1 L1152.3,359.2 L1153.0,359.4 L1153.6,359.6 L1154.3,359.7 L1155.0,359.9 L1155.6,360.1 L1156.3,360.2 L1157.0,360.4 L1157.6,360.6 L1158.3,360.7 L1159.0,360.9 L1159.6,361.0 L1160.3,361.2 L1161.0,361.3 L1161.6,361.5 L1162.3,361.6 L1163.0,361.8 L1163.6,361.9 L1164.3,362.1 L1165.0,362.2 L1165.6,362.4 L1166.3,362.5 L1167.0,362.6 L1167.6,362.8 L1168.3,362.9 L1169.0,363.1 L1169.6,363.2 L1170.3,363.3 L1171.0,363.5 L1171.6,363.6 L1172.3,363.7 L1173.0,363.9 L1173.6,364.0 L1174.3,364.1 L1175.0,364.2 L1175.6,364.4 L1176.3,364.5 L1177.0,364.6 L1177.6,364.7 L1178.3,364.9 L1179.0,365.0 L1179.6,365.1 L1180.3,365.2 L1181.0,365.3 L1181.6,365.4 L1182.3,365.6 L1183.0,365.7 L1183.6,365.8 L1184.3,365.9 L1185.0,366.0 L1185.6,366.1 L1186.3,366.2 L1187.0,366.3 L1187.6,366.4 L1188.3,366.5 L1189.0,366.6 L1189.6,366.8 L1190.3,366.9 L1191.0,367.0 L1191.6,367.1 L1192.3,367.2 L1193.0,367.3 L1193.6,367.4 L1194.3,367.4 L1195.0,367.5 L1195.6,367.6 L1196.3,367.7 L1197.0,367.8 L1197.6,367.9 L1198.3,368.0 L1199.0,368.1 L1199.6,368.2 L1200.3,368.3 L1201.0,368.4 L1201.6,368.4 L1202.3,368.5 L1202.9,368.6 L1203.6,368.7 L1204.3,368.8 L1204.9,368.9 L1205.6,369.0 L1206.3,369.0 L1206.9,369.1 L1207.6,369.2 L1208.3,369.3 L1208.9,369.4 L1209.6,369.4 L1210.3,369.5 L1210.9,369.6 L1211.6,369.7 L1212.3,369.7 L1212.9,369.8 L1213.6,369.9 L1214.3,369.9 L1214.9,370.0 L1215.6,370.1 L1216.3,370.2 L1216.9,370.2 L1217.6,370.3 L1218.3,370.4 L1218.9,370.4 L1219.6,370.5 L1220.3,370.6 L1220.9,370.6 L1221.6,370.7 L1222.3,370.8 L1222.9,370.8 L1223.6,370.9 L1224.3,370.9 L1224.9,371.0 L1225.6,371.1 L1226.3,371.1 L1226.9,371.2 L1227.6,371.3 L1228.3,371.3 L1228.9,371.4 L1229.6,371.4 L1230.3,371.5 L1230.9,371.5 L1231.6,371.6 L1232.3,371.6 L1232.9,371.7 L1233.6,371.8 L1234.3,371.8 L1234.9,371.9 L1235.6,371.9 L1236.3,372.0 L1236.9,372.0 L1237.6,372.1 L1238.3,372.1 L1238.9,372.2 L1239.6,372.2 L1240.3,372.3 L1240.9,372.3 L1241.6,372.4 L1242.3,372.4 L1242.9,372.5 L1243.6,372.5 L1244.3,372.6 L1244.9,372.6 L1245.6,372.6 L1246.3,372.7 L1246.9,372.7 L1247.6,372.8 L1248.3,372.8 L1248.9,372.9 L1249.6,372.9 L1250.3,372.9 L1250.9,373.0 L1251.6,373.0 L1252.3,373.1 L1252.9,373.1 L1253.6,373.1 L1254.3,373.2 L1254.9,373.2 L1255.6,373.3 L1256.3,373.3 L1256.9,373.3 L1257.6,373.4 L1258.3,373.4 L1258.9,373.4 L1259.6,373.5 L1260.3,373.5 L1260.9,373.6 L1261.6,373.6 L1262.3,373.6 L1262.9,373.7 L1263.6,373.7 L1264.3,373.7 L1264.9,373.8 L1265.6,373.8 L1266.3,373.8 L1266.9,373.9 L1267.6,373.9 L1268.3,373.9 L1268.9,374.0 L1269.6,374.0 L1270.3,374.0 L1270.9,374.0 L1271.6,374.1 L1272.3,374.1 L1272.9,374.1 L1273.6,374.2 L1274.3,374.2 L1274.9,374.2 L1275.6,374.3 L1276.3,374.3 L1276.9,374.3 L1277.6,374.3 L1278.3,374.4 L1278.9,374.4 L1279.6,374.4 L1280.3,374.4 L1280.9,374.5 L1281.6,374.5 L1282.3,374.5 L1282.9,374.5 L1283.6,374.6 L1284.3,374.6 L1284.9,374.6 L1285.6,374.6 L1286.3,374.7 L1286.9,374.7 L1287.6,374.7 L1288.3,374.7 L1288.9,374.8 L1289.6,374.8 L1290.3,374.8 L1290.9,374.8 L1291.6,374.8 L1292.3,374.9 L1292.9,374.9 L1293.6,374.9 L1294.3,374.9 L1294.9,375.0 L1295.6,375.0 L1296.3,375.0 L1296.9,375.0 L1297.6,375.0 L1298.3,375.1 L1298.9,375.1 L1299.6,375.1 L1300.3,375.1 L1300.9,375.1 L1301.6,375.2 L1302.3,375.2 L1302.9,375.2 L1303.6,375.2 L1304.3,375.2 L1304.9,375.2 L1305.6,375.3 L1306.3,375.3 L1306.9,375.3 L1307.6,375.3 L1308.3,375.3 L1308.9,375.3 L1309.6,375.4 L1310.2,375.4 L1310.9,375.4 L1311.6,375.4 L1312.2,375.4 L1312.9,375.4 L1313.6,375.5 L1314.2,375.5 L1314.9,375.5 L1315.6,375.5 L1316.2,375.5 L1316.9,375.5 L1317.6,375.5 L1318.2,375.6 L1318.9,375.6 L1319.6,375.6 L1320.2,375.6 L1320.9,375.6 L1321.6,375.6 L1322.2,375.6 L1322.9,375.7 L1323.6,375.7 L1324.2,375.7 L1324.9,375.7 L1325.6,375.7 L1326.2,375.7 L1326.9,375.7 L1327.6,375.7 L1328.2,375.8 L1328.9,375.8 L1329.6,375.8 L1330.2,375.8 L1330.9,375.8 L1331.6,375.8 L1332.2,375.8 L1332.9,375.8 L1333.6,375.9 L1334.2,375.9 L1334.9,375.9 L1335.6,375.9 L1336.2,375.9 L1336.9,375.9 L1337.6,375.9 L1338.2,375.9 L1338.9,375.9 L1339.6,376.0 L1340.2,376.0 L1340.9,376.0 L1341.6,376.0 L1342.2,376.0 L1342.9,376.0 L1343.6,376.0 L1344.2,376.0 L1344.9,376.0 L1345.6,376.0 L1346.2,376.0 L1346.9,376.1 L1347.6,376.1 L1348.2,376.1 L1348.9,376.1 L1349.6,376.1 L1350.2,376.1 L1350.9,376.1 L1351.6,376.1 L1352.2,376.1 L1352.9,376.1 L1353.6,376.1 L1354.2,376.2 L1354.9,376.2 L1355.6,376.2 L1356.2,376.2 L1356.9,376.2 L1357.6,376.2 L1358.2,376.2 L1358.9,376.2 L1359.6,376.2 L1360.2,376.2 L1360.9,376.2 L1361.6,376.2 L1362.2,376.2 L1362.9,376.2 L1363.6,376.3 L1364.2,376.3 L1364.9,376.3 L1365.6,376.3 L1366.2,376.3 L1366.9,376.3 L1367.6,376.3 L1368.2,376.3 L1368.9,376.3 L1369.6,376.3 L1370.2,376.3 L1370.9,376.3 L1371.6,376.3 L1372.2,376.3 L1372.9,376.3 L1373.6,376.4 L1374.2,376.4 L1374.9,376.4 L1375.6,376.4 L1376.2,376.4 L1376.9,376.4 L1377.6,376.4 L1378.2,376.4 L1378.9,376.4 L1379.6,376.4 L1380.2,376.4 L1380.9,376.4 L1381.6,376.4 L1382.2,376.4 L1382.9,376.4 L1383.6,376.4 L1384.2,376.4 L1384.9,376.4 L1385.6,376.4 L1386.2,376.5 L1386.9,376.5 L1387.6,376.5 L1388.2,376.5 L1388.9,376.5 L1389.6,376.5 L1390.2,376.5 L1390.9,376.5 L1391.6,376.5 L1392.2,376.5 L1392.9,376.5 L1393.6,376.5 L1394.2,376.5 L1394.9,376.5 L1395.6,376.5 L1396.2,376.5 L1396.9,376.5 L1397.6,376.5 L1398.2,376.5 L1398.9,376.5 L1399.6,376.5 L1400.2,376.5 L1400.9,376.5 L1401.6,376.6 L1402.2,376.6 L1402.9,376.6 L1403.6,376.6 L1404.2,376.6 L1404.9,376.6 L1405.6,376.6 L1406.2,376.6 L1406.9,376.6 L1407.6,376.6 L1408.2,376.6 L1408.9,376.6 L1409.6,376.6 L1410.2,376.6 L1410.9,376.6 L1411.6,376.6 L1412.2,376.6 L1412.9,376.6 L1413.6,376.6 L1414.2,376.6 L1414.9,376.6 L1415.6,376.6 L1416.2,376.6 L1416.9,376.6 L1417.5,376.6 L1418.2,376.6 L1418.9,376.6 L1419.5,376.6 L1420.2,376.6 L1420.9,376.6 L1421.5,376.6 L1422.2,376.7 L1422.9,376.7 L1423.5,376.7 L1424.2,376.7 L1424.9,376.7 L1425.5,376.7 L1426.2,376.7 L1426.9,376.7 L1427.5,376.7 L1428.2,376.7 L1428.9,376.7 L1429.5,376.7 L1430.2,376.7 L1430.9,376.7 L1431.5,376.7 L1432.2,376.7 L1432.9,376.7 L1433.5,376.7 L1434.2,376.7 L1434.9,376.7 L1435.5,376.7 L1436.2,376.7 L1436.9,376.7 L1437.5,376.7 L1438.2,376.7 L1438.9,376.7 L1439.5,376.7 L1440.2,376.7 L1440.9,376.7 L1441.5,376.7 L1442.2,376.7 L1442.9,376.7 L1443.5,376.7 L1444.2,376.7 L1444.9,376.7 L1445.5,376.7 L1446.2,376.7 L1446.9,376.7 L1447.5,376.7 L1448.2,376.7 L1448.9,376.7 L1449.5,376.7 L1450.2,376.7 L1450.9,376.7 L1451.5,376.7 L1452.2,376.7 L1452.9,376.7 L1453.5,376.7 L1454.2,376.8 L1454.9,376.8 L1455.5,376.8 L1456.2,376.8 L1456.9,376.8 L1457.5,376.8 L1458.2,376.8 L1458.9,376.8 L1459.5,376.8 L1460.2,376.8 L1460.9,376.8 L1461.5,376.8 L1462.2,376.8 L1462.9,376.8 L1463.5,376.8 L1464.2,376.8 L1464.9,376.8 L1465.5,376.8 L1466.2,376.8 L1466.9,376.8 L1467.5,376.8 L1468.2,376.8 L1468.9,376.8 L1469.5,376.8 L1470.2,376.8 L1470.9,376.8 L1471.5,376.8 L1472.2,376.8 L1472.9,376.8 L1473.5,376.8 L1474.2,376.8 L1474.9,376.8 L1475.5,376.8 L1476.2,376.8 L1476.9,376.8 L1477.5,376.8 L1478.2,376.8 L1478.9,376.8 L1479.5,376.8 L1480.2,376.8 L1480.9,376.8 L1481.5,376.8 L1482.2,376.8 L1482.9,376.8 L1483.5,376.8 L1484.2,376.8 L1484.9,376.8 L1485.5,376.8 L1486.2,376.8 L1486.9,376.8 L1487.5,376.8 L1488.2,376.8 L1488.9,376.8 L1489.5,376.8 L1490.2,376.8 L1490.9,376.8 L1491.5,376.8 L1492.2,376.8 L1492.9,376.8 L1493.5,376.8 L1494.2,376.8 L1494.9,376.8 L1495.5,376.8 L1496.2,376.8 L1496.9,376.8 L1497.5,376.8 L1498.2,376.8 L1498.9,376.8 L1499.5,376.8 L1500.2,376.8 L1500.9,376.8 L1501.5,376.8 L1502.2,376.8 L1502.9,376.8 L1503.5,376.8 L1504.2,376.8 L1504.9,376.8 L1505.5,376.8 L1506.2,376.8 L1506.9,376.8 L1507.5,376.8 L1508.2,376.8 L1508.9,376.8 L1509.5,376.8 L1510.2,376.8 L1510.9,376.8 L1511.5,376.8 L1512.2,376.8 L1512.9,376.8 L1513.5,376.8 L1514.2,376.8 L1514.9,376.8 L1515.5,376.8 L1516.2,376.8 L1516.9,376.8 L1517.5,376.8 L1518.2,376.8 L1518.9,376.8 L1519.5,376.8 L1520.2,376.8 L1520.9,376.8 L1521.5,376.9 L1522.2,376.9 L1522.8,376.9 L1523.5,376.9 L1524.2,376.9 L1524.8,376.9 L1525.5,376.9 L1526.2,376.9 L1526.8,376.9 L1527.5,376.9 L1528.2,376.9 L1528.8,376.9 L1529.5,376.9 L1530.2,376.9 L1530.8,376.9 L1531.5,376.9 L1532.2,376.9 L1532.8,376.9 L1533.5,376.9 L1534.2,376.9 L1534.8,376.9 L1535.5,376.9 L1536.2,376.9 L1536.8,376.9 L1537.5,376.9 L1538.2,376.9 L1538.8,376.9 L1539.5,376.9 L1540.2,376.9 L1540.8,376.9 L1541.5,376.9 L1542.2,376.9 L1542.8,376.9 L1543.5,376.9 L1544.2,376.9 L1544.8,376.9 L1545.5,376.9 L1546.2,376.9 L1546.8,376.9 L1547.5,376.9 L1548.2,376.9 L1548.8,376.9 L1549.5,376.9 L1550.2,376.9 L1550.8,376.9 L1551.5,376.9 L1552.2,376.9 L1552.8,376.9 L1553.5,376.9 L1554.2,376.9 L1554.8,376.9 L1555.5,376.9 L1556.2,376.9 L1556.8,376.9 L1557.5,376.9 L1558.2,376.9 L1558.8,376.9 L1559.5,376.9 L1560.2,376.9 L1560.8,376.9 L1561.5,376.9 L1562.2,376.9 L1562.8,376.9 L1563.5,376.9 L1564.2,376.9 L1564.8,376.9 L1565.5,376.9 L1566.2,376.9 L1566.8,376.9 L1567.5,376.9 L1568.2,376.9 L1568.8,376.9 L1569.5,376.9 L1570.2,376.9 L1570.8,376.9 L1571.5,376.9 L1572.2,376.9 L1572.8,376.9 L1573.5,376.9 L1574.2,376.9 L1574.8,376.9 L1575.5,376.9" fill="none" stroke="#ff0000" stroke-width="3.50" stroke-linejoin="round" stroke-linecap="square"/>
<path d="M1043.0,205.2 L1043.7,206.0 L1044.3,206.7 L1045.0,207.4 L1045.7,208.1 L1046.3,208.9 L1047.0,209.6 L1047.7,210.3 L1048.3,211.1 L1049.0,211.8 L1049.7,212.5 L1050.3,213.2 L1051.0,213.9 L1051.7,214.7 L1052.3,215.4 L1053.0,216.1 L1053.7,216.8 L1054.3,217.5 L1055.0,218.3 L1055.7,219.0 L1056.3,219.7 L1057.0,220.4 L1057.7,221.1 L1058.3,221.8 L1059.0,222.5 L1059.7,223.2 L1060.3,224.0 L1061.0,224.7 L1061.7,225.4 L1062.3,226.1 L1063.0,226.8 L1063.7,227.5 L1064.3,228.2 L1065.0,228.9 L1065.7,229.6 L1066.3,230.3 L1067.0,231.0 L1067.7,231.7 L1068.3,232.4 L1069.0,233.1 L1069.7,233.8 L1070.3,234.5 L1071.0,235.2 L1071.7,235.8 L1072.3,236.5 L1073.0,237.2 L1073.7,237.9 L1074.3,238.6 L1075.0,239.3 L1075.7,240.0 L1076.3,240.6 L1077.0,241.3 L1077.7,242.0 L1078.3,242.7 L1079.0,243.4 L1079.7,244.0 L1080.3,244.7 L1081.0,245.4 L1081.7,246.1 L1082.3,246.7 L1083.0,247.4 L1083.7,248.1 L1084.3,248.7 L1085.0,249.4 L1085.7,250.1 L1086.3,250.7 L1087.0,251.4 L1087.7,252.0 L1088.3,252.7 L1089.0,253.4 L1089.7,254.0 L1090.3,254.7 L1091.0,255.3 L1091.7,256.0 L1092.3,256.6 L1093.0,257.3 L1093.7,257.9 L1094.3,258.6 L1095.0,259.2 L1095.7,259.9 L1096.3,260.5 L1097.0,261.1 L1097.6,261.8 L1098.3,262.4 L1099.0,263.1 L1099.6,263.7 L1100.3,264.3 L1101.0,265.0 L1101.6,265.6 L1102.3,266.2 L1103.0,266.8 L1103.6,267.5 L1104.3,268.1 L1105.0,268.7 L1105.6,269.3 L1106.3,270.0 L1107.0,270.6 L1107.6,271.2 L1108.3,271.8 L1109.0,272.4 L1109.6,273.0 L1110.3,273.6 L1111.0,274.2 L1111.6,274.8 L1112.3,275.4 L1113.0,276.0 L1113.6,276.6 L1114.3,277.2 L1115.0,277.8 L1115.6,278.4 L1116.3,279.0 L1117.0,279.6 L1117.6,280.2 L1118.3,280.8 L1119.0,281.4 L1119.6,282.0 L1120.3,282.6 L1121.0,283.1 L1121.6,283.7 L1122.3,284.3 L1123.0,284.9 L1123.6,285.4 L1124.3,286.0 L1125.0,286.6 L1125.6,287.2 L1126.3,287.7 L1127.0,288.3 L1127.6,288.8 L1128.3,289.4 L1129.0,290.0 L1129.6,290.5 L1130.3,291.1 L1131.0,291.6 L1131.6,292.2 L1132.3,292.7 L1133.0,293.3 L1133.6,293.8 L1134.3,294.4 L1135.0,294.9 L1135.6,295.5 L1136.3,296.0 L1137.0,296.5 L1137.6,297.1 L1138.3,297.6 L1139.0,298.1 L1139.6,298.6 L1140.3,299.2 L1141.0,299.7 L1141.6,300.2 L1142.3,300.7 L1143.0,301.3 L1143.6,301.8 L1144.3,302.3 L1145.0,302.8 L1145.6,303.3 L1146.3,303.8 L1147.0,304.3 L1147.6,304.8 L1148.3,305.3 L1149.0,305.8 L1149.6,306.3 L1150.3,306.8 L1151.0,307.3 L1151.6,307.8 L1152.3,308.3 L1153.0,308.8 L1153.6,309.2 L1154.3,309.7 L1155.0,310.2 L1155.6,310.7 L1156.3,311.2 L1157.0,311.6 L1157.6,312.1 L1158.3,312.6 L1159.0,313.0 L1159.6,313.5 L1160.3,314.0 L1161.0,314.4 L1161.6,314.9 L1162.3,315.3 L1163.0,315.8 L1163.6,316.2 L1164.3,316.7 L1165.0,317.1 L1165.6,317.6 L1166.3,318.0 L1167.0,318.5 L1167.6,318.9 L1168.3,319.3 L1169.0,319.8 L1169.6,320.2 L1170.3,320.6 L1171.0,321.1 L1171.6,321.5 L1172.3,321.9 L1173.0,322.3 L1173.6,322.8 L1174.3,323.2 L1175.0,323.6 L1175.6,324.0 L1176.3,324.4 L1177.0,324.8 L1177.6,325.2 L1178.3,325.6 L1179.0,326.0 L1179.6,326.4 L1180.3,326.8 L1181.0,327.2 L1181.6,327.6 L1182.3,328.0 L1183.0,328.4 L1183.6,328.8 L1184.3,329.2 L1185.0,329.5 L1185.6,329.9 L1186.3,330.3 L1187.0,330.7 L1187.6,331.0 L1188.3,331.4 L1189.0,331.8 L1189.6,332.1 L1190.3,332.5 L1191.0,332.9 L1191.6,333.2 L1192.3,333.6 L1193.0,333.9 L1193.6,334.3 L1194.3,334.6 L1195.0,335.0 L1195.6,335.3 L1196.3,335.7 L1197.0,336.0 L1197.6,336.4 L1198.3,336.7 L1199.0,337.0 L1199.6,337.4 L1200.3,337.7 L1201.0,338.0 L1201.6,338.4 L1202.3,338.7 L1202.9,339.0 L1203.6,339.3 L1204.3,339.7 L1204.9,340.0 L1205.6,340.3 L1206.3,340.6 L1206.9,340.9 L1207.6,341.2 L1208.3,341.5 L1208.9,341.8 L1209.6,342.1 L1210.3,342.4 L1210.9,342.7 L1211.6,343.0 L1212.3,343.3 L1212.9,343.6 L1213.6,343.9 L1214.3,344.2 L1214.9,344.5 L1215.6,344.8 L1216.3,345.0 L1216.9,345.3 L1217.6,345.6 L1218.3,345.9 L1218.9,346.1 L1219.6,346.4 L1220.3,346.7 L1220.9,347.0 L1221.6,347.2 L1222.3,347.5 L1222.9,347.7 L1223.6,348.0 L1224.3,348.3 L1224.9,348.5 L1225.6,348.8 L1226.3,349.0 L1226.9,349.3 L1227.6,349.5 L1228.3,349.8 L1228.9,350.0 L1229.6,350.3 L1230.3,350.5 L1230.9,350.7 L1231.6,351.0 L1232.3,351.2 L1232.9,351.5 L1233.6,351.7 L1234.3,351.9 L1234.9,352.1 L1235.6,352.4 L1236.3,352.6 L1236.9,352.8 L1237.6,353.0 L1238.3,353.3 L1238.9,353.5 L1239.6,353.7 L1240.3,353.9 L1240.9,354.1 L1241.6,354.3 L1242.3,354.6 L1242.9,354.8 L1243.6,355.0 L1244.3,355.2 L1244.9,355.4 L1245.6,355.6 L1246.3,355.8 L1246.9,356.0 L1247.6,356.2 L1248.3,356.4 L1248.9,356.6 L1249.6,356.8 L1250.3,356.9 L1250.9,357.1 L1251.6,357.3 L1252.3,357.5 L1252.9,357.7 L1253.6,357.9 L1254.3,358.1 L1254.9,358.2 L1255.6,358.4 L1256.3,358.6 L1256.9,358.8 L1257.6,358.9 L1258.3,359.1 L1258.9,359.3 L1259.6,359.4 L1260.3,359.6 L1260.9,359.8 L1261.6,359.9 L1262.3,360.1 L1262.9,360.3 L1263.6,360.4 L1264.3,360.6 L1264.9,360.7 L1265.6,360.9 L1266.3,361.1 L1266.9,361.2 L1267.6,361.4 L1268.3,361.5 L1268.9,361.7 L1269.6,361.8 L1270.3,362.0 L1270.9,362.1 L1271.6,362.3 L1272.3,362.4 L1272.9,362.5 L1273.6,362.7 L1274.3,362.8 L1274.9,363.0 L1275.6,363.1 L1276.3,363.2 L1276.9,363.4 L1277.6,363.5 L1278.3,363.6 L1278.9,363.8 L1279.6,363.9 L1280.3,364.0 L1280.9,364.1 L1281.6,364.3 L1282.3,364.4 L1282.9,364.5 L1283.6,364.6 L1284.3,364.8 L1284.9,364.9 L1285.6,365.0 L1286.3,365.1 L1286.9,365.2 L1287.6,365.4 L1288.3,365.5 L1288.9,365.6 L1289.6,365.7 L1290.3,365.8 L1290.9,365.9 L1291.6,366.0 L1292.3,366.1 L1292.9,366.2 L1293.6,366.4 L1294.3,366.5 L1294.9,366.6 L1295.6,366.7 L1296.3,366.8 L1296.9,366.9 L1297.6,367.0 L1298.3,367.1 L1298.9,367.2 L1299.6,367.3 L1300.3,367.4 L1300.9,367.5 L1301.6,367.6 L1302.3,367.7 L1302.9,367.7 L1303.6,367.8 L1304.3,367.9 L1304.9,368.0 L1305.6,368.1 L1306.3,368.2 L1306.9,368.3 L1307.6,368.4 L1308.3,368.5 L1308.9,368.6 L1309.6,368.6 L1310.2,368.7 L1310.9,368.8 L1311.6,368.9 L1312.2,369.0 L1312.9,369.1 L1313.6,369.1 L1314.2,369.2 L1314.9,369.3 L1315.6,369.4 L1316.2,369.4 L1316.9,369.5 L1317.6,369.6 L1318.2,369.7 L1318.9,369.7 L1319.6,369.8 L1320.2,369.9 L1320.9,370.0 L1321.6,370.0 L1322.2,370.1 L1322.9,370.2 L1323.6,370.2 L1324.2,370.3 L1324.9,370.4 L1325.6,370.4 L1326.2,370.5 L1326.9,370.6 L1327.6,370.6 L1328.2,370.7 L1328.9,370.8 L1329.6,370.8 L1330.2,370.9 L1330.9,371.0 L1331.6,371.0 L1332.2,371.1 L1332.9,371.1 L1333.6,371.2 L1334.2,371.3 L1334.9,371.3 L1335.6,371.4 L1336.2,371.4 L1336.9,371.5 L1337.6,371.5 L1338.2,371.6 L1338.9,371.7 L1339.6,371.7 L1340.2,371.8 L1340.9,371.8 L1341.6,371.9 L1342.2,371.9 L1342.9,372.0 L1343.6,372.0 L1344.2,372.1 L1344.9,372.1 L1345.6,372.2 L1346.2,372.2 L1346.9,372.3 L1347.6,372.3 L1348.2,372.4 L1348.9,372.4 L1349.6,372.5 L1350.2,372.5 L1350.9,372.6 L1351.6,372.6 L1352.2,372.6 L1352.9,372.7 L1353.6,372.7 L1354.2,372.8 L1354.9,372.8 L1355.6,372.9 L1356.2,372.9 L1356.9,373.0 L1357.6,373.0 L1358.2,373.0 L1358.9,373.1 L1359.6,373.1 L1360.2,373.2 L1360.9,373.2 L1361.6,373.2 L1362.2,373.3 L1362.9,373.3 L1363.6,373.3 L1364.2,373.4 L1364.9,373.4 L1365.6,373.5 L1366.2,373.5 L1366.9,373.5 L1367.6,373.6 L1368.2,373.6 L1368.9,373.6 L1369.6,373.7 L1370.2,373.7 L1370.9,373.7 L1371.6,373.8 L1372.2,373.8 L1372.9,373.8 L1373.6,373.9 L1374.2,373.9 L1374.9,373.9 L1375.6,374.0 L1376.2,374.0 L1376.9,374.0 L1377.6,374.1 L1378.2,374.1 L1378.9,374.1 L1379.6,374.1 L1380.2,374.2 L1380.9,374.2 L1381.6,374.2 L1382.2,374.3 L1382.9,374.3 L1383.6,374.3 L1384.2,374.3 L1384.9,374.4 L1385.6,374.4 L1386.2,374.4 L1386.9,374.4 L1387.6,374.5 L1388.2,374.5 L1388.9,374.5 L1389.6,374.5 L1390.2,374.6 L1390.9,374.6 L1391.6,374.6 L1392.2,374.6 L1392.9,374.7 L1393.6,374.7 L1394.2,374.7 L1394.9,374.7 L1395.6,374.8 L1396.2,374.8 L1396.9,374.8 L1397.6,374.8 L1398.2,374.9 L1398.9,374.9 L1399.6,374.9 L1400.2,374.9 L1400.9,374.9 L1401.6,375.0 L1402.2,375.0 L1402.9,375.0 L1403.6,375.0 L1404.2,375.0 L1404.9,375.1 L1405.6,375.1 L1406.2,375.1 L1406.9,375.1 L1407.6,375.1 L1408.2,375.2 L1408.9,375.2 L1409.6,375.2 L1410.2,375.2 L1410.9,375.2 L1411.6,375.2 L1412.2,375.3 L1412.9,375.3 L1413.6,375.3 L1414.2,375.3 L1414.9,375.3 L1415.6,375.3 L1416.2,375.4 L1416.9,375.4 L1417.5,375.4 L1418.2,375.4 L1418.9,375.4 L1419.5,375.4 L1420.2,375.5 L1420.9,375.5 L1421.5,375.5 L1422.2,375.5 L1422.9,375.5 L1423.5,375.5 L1424.2,375.6 L1424.9,375.6 L1425.5,375.6 L1426.2,375.6 L1426.9,375.6 L1427.5,375.6 L1428.2,375.6 L1428.9,375.6 L1429.5,375.7 L1430.2,375.7 L1430.9,375.7 L1431.5,375.7 L1432.2,375.7 L1432.9,375.7 L1433.5,375.7 L1434.2,375.8 L1434.9,375.8 L1435.5,375.8 L1436.2,375.8 L1436.9,375.8 L1437.5,375.8 L1438.2,375.8 L1438.9,375.8 L1439.5,375.8 L1440.2,375.9 L1440.9,375.9 L1441.5,375.9 L1442.2,375.9 L1442.9,375.9 L1443.5,375.9 L1444.2,375.9 L1444.9,375.9 L1445.5,375.9 L1446.2,376.0 L1446.9,376.0 L1447.5,376.0 L1448.2,376.0 L1448.9,376.0 L1449.5,376.0 L1450.2,376.0 L1450.9,376.0 L1451.5,376.0 L1452.2,376.0 L1452.9,376.0 L1453.5,376.1 L1454.2,376.1 L1454.9,376.1 L1455.5,376.1 L1456.2,376.1 L1456.9,376.1 L1457.5,376.1 L1458.2,376.1 L1458.9,376.1 L1459.5,376.1 L1460.2,376.1 L1460.9,376.2 L1461.5,376.2 L1462.2,376.2 L1462.9,376.2 L1463.5,376.2 L1464.2,376.2 L1464.9,376.2 L1465.5,376.2 L1466.2,376.2 L1466.9,376.2 L1467.5,376.2 L1468.2,376.2 L1468.9,376.2 L1469.5,376.3 L1470.2,376.3 L1470.9,376.3 L1471.5,376.3 L1472.2,376.3 L1472.9,376.3 L1473.5,376.3 L1474.2,376.3 L1474.9,376.3 L1475.5,376.3 L1476.2,376.3 L1476.9,376.3 L1477.5,376.3 L1478.2,376.3 L1478.9,376.3 L1479.5,376.3 L1480.2,376.4 L1480.9,376.4 L1481.5,376.4 L1482.2,376.4 L1482.9,376.4 L1483.5,376.4 L1484.2,376.4 L1484.9,376.4 L1485.5,376.4 L1486.2,376.4 L1486.9,376.4 L1487.5,376.4 L1488.2,376.4 L1488.9,376.4 L1489.5,376.4 L1490.2,376.4 L1490.9,376.4 L1491.5,376.4 L1492.2,376.4 L1492.9,376.5 L1493.5,376.5 L1494.2,376.5 L1494.9,376.5 L1495.5,376.5 L1496.2,376.5 L1496.9,376.5 L1497.5,376.5 L1498.2,376.5 L1498.9,376.5 L1499.5,376.5 L1500.2,376.5 L1500.9,376.5 L1501.5,376.5 L1502.2,376.5 L1502.9,376.5 L1503.5,376.5 L1504.2,376.5 L1504.9,376.5 L1505.5,376.5 L1506.2,376.5 L1506.9,376.5 L1507.5,376.5 L1508.2,376.6 L1508.9,376.6 L1509.5,376.6 L1510.2,376.6 L1510.9,376.6 L1511.5,376.6 L1512.2,376.6 L1512.9,376.6 L1513.5,376.6 L1514.2,376.6 L1514.9,376.6 L1515.5,376.6 L1516.2,376.6 L1516.9,376.6 L1517.5,376.6 L1518.2,376.6 L1518.9,376.6 L1519.5,376.6 L1520.2,376.6 L1520.9,376.6 L1521.5,376.6 L1522.2,376.6 L1522.8,376.6 L1523.5,376.6 L1524.2,376.6 L1524.8,376.6 L1525.5,376.6 L1526.2,376.6 L1526.8,376.6 L1527.5,376.6 L1528.2,376.6 L1528.8,376.7 L1529.5,376.7 L1530.2,376.7 L1530.8,376.7 L1531.5,376.7 L1532.2,376.7 L1532.8,376.7 L1533.5,376.7 L1534.2,376.7 L1534.8,376.7 L1535.5,376.7 L1536.2,376.7 L1536.8,376.7 L1537.5,376.7 L1538.2,376.7 L1538.8,376.7 L1539.5,376.7 L1540.2,376.7 L1540.8,376.7 L1541.5,376.7 L1542.2,376.7 L1542.8,376.7 L1543.5,376.7 L1544.2,376.7 L1544.8,376.7 L1545.5,376.7 L1546.2,376.7 L1546.8,376.7 L1547.5,376.7 L1548.2,376.7 L1548.8,376.7 L1549.5,376.7 L1550.2,376.7 L1550.8,376.7 L1551.5,376.7 L1552.2,376.7 L1552.8,376.7 L1553.5,376.7 L1554.2,376.7 L1554.8,376.7 L1555.5,376.7 L1556.2,376.7 L1556.8,376.7 L1557.5,376.7 L1558.2,376.7 L1558.8,376.7 L1559.5,376.7 L1560.2,376.8 L1560.8,376.8 L1561.5,376.8 L1562.2,376.8 L1562.8,376.8 L1563.5,376.8 L1564.2,376.8 L1564.8,376.8 L1565.5,376.8 L1566.2,376.8 L1566.8,376.8 L1567.5,376.8 L1568.2,376.8 L1568.8,376.8 L1569.5,376.8 L1570.2,376.8 L1570.8,376.8 L1571.5,376.8 L1572.2,376.8 L1572.8,376.8 L1573.5,376.8 L1574.2,376.8 L1574.8,376.8 L1575.5,376.8" fill="none" stroke="#ff0000" stroke-width="3.50" stroke-linejoin="round" stroke-dasharray="11.5 4.6"/>
<path d="M1043.0,81.5 L1043.7,82.3 L1044.3,83.1 L1045.0,83.9 L1045.7,84.7 L1046.3,85.5 L1047.0,86.3 L1047.7,87.1 L1048.3,87.9 L1049.0,88.7 L1049.7,89.5 L1050.3,90.3 L1051.0,91.1 L1051.7,91.9 L1052.3,92.7 L1053.0,93.5 L1053.7,94.3 L1054.3,95.1 L1055.0,95.9 L1055.7,96.7 L1056.3,97.5 L1057.0,98.3 L1057.7,99.1 L1058.3,99.9 L1059.0,100.7 L1059.7,101.5 L1060.3,102.3 L1061.0,103.1 L1061.7,103.9 L1062.3,104.6 L1063.0,105.4 L1063.7,106.2 L1064.3,107.0 L1065.0,107.8 L1065.7,108.6 L1066.3,109.4 L1067.0,110.2 L1067.7,111.0 L1068.3,111.8 L1069.0,112.6 L1069.7,113.4 L1070.3,114.2 L1071.0,114.9 L1071.7,115.7 L1072.3,116.5 L1073.0,117.3 L1073.7,118.1 L1074.3,118.9 L1075.0,119.7 L1075.7,120.5 L1076.3,121.3 L1077.0,122.0 L1077.7,122.8 L1078.3,123.6 L1079.0,124.4 L1079.7,125.2 L1080.3,126.0 L1081.0,126.8 L1081.7,127.6 L1082.3,128.3 L1083.0,129.1 L1083.7,129.9 L1084.3,130.7 L1085.0,131.5 L1085.7,132.3 L1086.3,133.0 L1087.0,133.8 L1087.7,134.6 L1088.3,135.4 L1089.0,136.2 L1089.7,137.0 L1090.3,137.7 L1091.0,138.5 L1091.7,139.3 L1092.3,140.1 L1093.0,140.9 L1093.7,141.6 L1094.3,142.4 L1095.0,143.2 L1095.7,144.0 L1096.3,144.8 L1097.0,145.5 L1097.6,146.3 L1098.3,147.1 L1099.0,147.9 L1099.6,148.6 L1100.3,149.4 L1101.0,150.2 L1101.6,151.0 L1102.3,151.7 L1103.0,152.5 L1103.6,153.3 L1104.3,154.1 L1105.0,154.8 L1105.6,155.6 L1106.3,156.4 L1107.0,157.2 L1107.6,157.9 L1108.3,158.7 L1109.0,159.5 L1109.6,160.2 L1110.3,161.0 L1111.0,161.8 L1111.6,162.5 L1112.3,163.3 L1113.0,164.1 L1113.6,164.8 L1114.3,165.6 L1115.0,166.4 L1115.6,167.1 L1116.3,167.9 L1117.0,168.7 L1117.6,169.4 L1118.3,170.2 L1119.0,171.0 L1119.6,171.7 L1120.3,172.5 L1121.0,173.2 L1121.6,174.0 L1122.3,174.8 L1123.0,175.5 L1123.6,176.3 L1124.3,177.0 L1125.0,177.8 L1125.6,178.6 L1126.3,179.3 L1127.0,180.1 L1127.6,180.8 L1128.3,181.6 L1129.0,182.3 L1129.6,183.1 L1130.3,183.8 L1131.0,184.6 L1131.6,185.3 L1132.3,186.1 L1133.0,186.8 L1133.6,187.6 L1134.3,188.3 L1135.0,189.1 L1135.6,189.8 L1136.3,190.6 L1137.0,191.3 L1137.6,192.1 L1138.3,192.8 L1139.0,193.6 L1139.6,194.3 L1140.3,195.1 L1141.0,195.8 L1141.6,196.5 L1142.3,197.3 L1143.0,198.0 L1143.6,198.8 L1144.3,199.5 L1145.0,200.2 L1145.6,201.0 L1146.3,201.7 L1147.0,202.4 L1147.6,203.2 L1148.3,203.9 L1149.0,204.6 L1149.6,205.4 L1150.3,206.1 L1151.0,206.8 L1151.6,207.6 L1152.3,208.3 L1153.0,209.0 L1153.6,209.7 L1154.3,210.5 L1155.0,211.2 L1155.6,211.9 L1156.3,212.6 L1157.0,213.4 L1157.6,214.1 L1158.3,214.8 L1159.0,215.5 L1159.6,216.3 L1160.3,217.0 L1161.0,217.7 L1161.6,218.4 L1162.3,219.1 L1163.0,219.8 L1163.6,220.5 L1164.3,221.3 L1165.0,222.0 L1165.6,222.7 L1166.3,223.4 L1167.0,224.1 L1167.6,224.8 L1168.3,225.5 L1169.0,226.2 L1169.6,226.9 L1170.3,227.6 L1171.0,228.3 L1171.6,229.0 L1172.3,229.7 L1173.0,230.4 L1173.6,231.1 L1174.3,231.8 L1175.0,232.5 L1175.6,233.2 L1176.3,233.9 L1177.0,234.6 L1177.6,235.3 L1178.3,236.0 L1179.0,236.7 L1179.6,237.4 L1180.3,238.0 L1181.0,238.7 L1181.6,239.4 L1182.3,240.1 L1183.0,240.8 L1183.6,241.5 L1184.3,242.1 L1185.0,242.8 L1185.6,243.5 L1186.3,244.2 L1187.0,244.8 L1187.6,245.5 L1188.3,246.2 L1189.0,246.9 L1189.6,247.5 L1190.3,248.2 L1191.0,248.9 L1191.6,249.5 L1192.3,250.2 L1193.0,250.9 L1193.6,251.5 L1194.3,252.2 L1195.0,252.8 L1195.6,253.5 L1196.3,254.2 L1197.0,254.8 L1197.6,255.5 L1198.3,256.1 L1199.0,256.8 L1199.6,257.4 L1200.3,258.1 L1201.0,258.7 L1201.6,259.4 L1202.3,260.0 L1202.9,260.6 L1203.6,261.3 L1204.3,261.9 L1204.9,262.6 L1205.6,263.2 L1206.3,263.8 L1206.9,264.5 L1207.6,265.1 L1208.3,265.7 L1208.9,266.3 L1209.6,267.0 L1210.3,267.6 L1210.9,268.2 L1211.6,268.8 L1212.3,269.5 L1212.9,270.1 L1213.6,270.7 L1214.3,271.3 L1214.9,271.9 L1215.6,272.5 L1216.3,273.1 L1216.9,273.8 L1217.6,274.4 L1218.3,275.0 L1218.9,275.6 L1219.6,276.2 L1220.3,276.8 L1220.9,277.4 L1221.6,278.0 L1222.3,278.6 L1222.9,279.2 L1223.6,279.7 L1224.3,280.3 L1224.9,280.9 L1225.6,281.5 L1226.3,282.1 L1226.9,282.7 L1227.6,283.3 L1228.3,283.8 L1228.9,284.4 L1229.6,285.0 L1230.3,285.6 L1230.9,286.1 L1231.6,286.7 L1232.3,287.3 L1232.9,287.8 L1233.6,288.4 L1234.3,289.0 L1234.9,289.5 L1235.6,290.1 L1236.3,290.6 L1236.9,291.2 L1237.6,291.7 L1238.3,292.3 L1238.9,292.8 L1239.6,293.4 L1240.3,293.9 L1240.9,294.5 L1241.6,295.0 L1242.3,295.6 L1242.9,296.1 L1243.6,296.6 L1244.3,297.2 L1244.9,297.7 L1245.6,298.2 L1246.3,298.8 L1246.9,299.3 L1247.6,299.8 L1248.3,300.3 L1248.9,300.8 L1249.6,301.4 L1250.3,301.9 L1250.9,302.4 L1251.6,302.9 L1252.3,303.4 L1252.9,303.9 L1253.6,304.4 L1254.3,304.9 L1254.9,305.4 L1255.6,305.9 L1256.3,306.4 L1256.9,306.9 L1257.6,307.4 L1258.3,307.9 L1258.9,308.4 L1259.6,308.9 L1260.3,309.3 L1260.9,309.8 L1261.6,310.3 L1262.3,310.8 L1262.9,311.3 L1263.6,311.7 L1264.3,312.2 L1264.9,312.7 L1265.6,313.1 L1266.3,313.6 L1266.9,314.1 L1267.6,314.5 L1268.3,315.0 L1268.9,315.4 L1269.6,315.9 L1270.3,316.3 L1270.9,316.8 L1271.6,317.2 L1272.3,317.7 L1272.9,318.1 L1273.6,318.6 L1274.3,319.0 L1274.9,319.4 L1275.6,319.9 L1276.3,320.3 L1276.9,320.7 L1277.6,321.2 L1278.3,321.6 L1278.9,322.0 L1279.6,322.4 L1280.3,322.8 L1280.9,323.3 L1281.6,323.7 L1282.3,324.1 L1282.9,324.5 L1283.6,324.9 L1284.3,325.3 L1284.9,325.7 L1285.6,326.1 L1286.3,326.5 L1286.9,326.9 L1287.6,327.3 L1288.3,327.7 L1288.9,328.1 L1289.6,328.5 L1290.3,328.9 L1290.9,329.2 L1291.6,329.6 L1292.3,330.0 L1292.9,330.4 L1293.6,330.7 L1294.3,331.1 L1294.9,331.5 L1295.6,331.9 L1296.3,332.2 L1296.9,332.6 L1297.6,332.9 L1298.3,333.3 L1298.9,333.7 L1299.6,334.0 L1300.3,334.4 L1300.9,334.7 L1301.6,335.1 L1302.3,335.4 L1302.9,335.8 L1303.6,336.1 L1304.3,336.4 L1304.9,336.8 L1305.6,337.1 L1306.3,337.4 L1306.9,337.8 L1307.6,338.1 L1308.3,338.4 L1308.9,338.8 L1309.6,339.1 L1310.2,339.4 L1310.9,339.7 L1311.6,340.0 L1312.2,340.3 L1312.9,340.7 L1313.6,341.0 L1314.2,341.3 L1314.9,341.6 L1315.6,341.9 L1316.2,342.2 L1316.9,342.5 L1317.6,342.8 L1318.2,343.1 L1318.9,343.4 L1319.6,343.7 L1320.2,344.0 L1320.9,344.2 L1321.6,344.5 L1322.2,344.8 L1322.9,345.1 L1323.6,345.4 L1324.2,345.6 L1324.9,345.9 L1325.6,346.2 L1326.2,346.5 L1326.9,346.7 L1327.6,347.0 L1328.2,347.3 L1328.9,347.5 L1329.6,347.8 L1330.2,348.1 L1330.9,348.3 L1331.6,348.6 L1332.2,348.8 L1332.9,349.1 L1333.6,349.3 L1334.2,349.6 L1334.9,349.8 L1335.6,350.1 L1336.2,350.3 L1336.9,350.6 L1337.6,350.8 L1338.2,351.0 L1338.9,351.3 L1339.6,351.5 L1340.2,351.7 L1340.9,352.0 L1341.6,352.2 L1342.2,352.4 L1342.9,352.6 L1343.6,352.9 L1344.2,353.1 L1344.9,353.3 L1345.6,353.5 L1346.2,353.7 L1346.9,354.0 L1347.6,354.2 L1348.2,354.4 L1348.9,354.6 L1349.6,354.8 L1350.2,355.0 L1350.9,355.2 L1351.6,355.4 L1352.2,355.6 L1352.9,355.8 L1353.6,356.0 L1354.2,356.2 L1354.9,356.4 L1355.6,356.6 L1356.2,356.8 L1356.9,357.0 L1357.6,357.2 L1358.2,357.4 L1358.9,357.5 L1359.6,357.7 L1360.2,357.9 L1360.9,358.1 L1361.6,358.3 L1362.2,358.4 L1362.9,358.6 L1363.6,358.8 L1364.2,359.0 L1364.9,359.1 L1365.6,359.3 L1366.2,359.5 L1366.9,359.6 L1367.6,359.8 L1368.2,360.0 L1368.9,360.1 L1369.6,360.3 L1370.2,360.5 L1370.9,360.6 L1371.6,360.8 L1372.2,360.9 L1372.9,361.1 L1373.6,361.2 L1374.2,361.4 L1374.9,361.5 L1375.6,361.7 L1376.2,361.8 L1376.9,362.0 L1377.6,362.1 L1378.2,362.3 L1378.9,362.4 L1379.6,362.6 L1380.2,362.7 L1380.9,362.8 L1381.6,363.0 L1382.2,363.1 L1382.9,363.3 L1383.6,363.4 L1384.2,363.5 L1384.9,363.7 L1385.6,363.8 L1386.2,363.9 L1386.9,364.0 L1387.6,364.2 L1388.2,364.3 L1388.9,364.4 L1389.6,364.5 L1390.2,364.7 L1390.9,364.8 L1391.6,364.9 L1392.2,365.0 L1392.9,365.1 L1393.6,365.3 L1394.2,365.4 L1394.9,365.5 L1395.6,365.6 L1396.2,365.7 L1396.9,365.8 L1397.6,365.9 L1398.2,366.1 L1398.9,366.2 L1399.6,366.3 L1400.2,366.4 L1400.9,366.5 L1401.6,366.6 L1402.2,366.7 L1402.9,366.8 L1403.6,366.9 L1404.2,367.0 L1404.9,367.1 L1405.6,367.2 L1406.2,367.3 L1406.9,367.4 L1407.6,367.5 L1408.2,367.6 L1408.9,367.7 L1409.6,367.8 L1410.2,367.9 L1410.9,368.0 L1411.6,368.0 L1412.2,368.1 L1412.9,368.2 L1413.6,368.3 L1414.2,368.4 L1414.9,368.5 L1415.6,368.6 L1416.2,368.7 L1416.9,368.7 L1417.5,368.8 L1418.2,368.9 L1418.9,369.0 L1419.5,369.1 L1420.2,369.1 L1420.9,369.2 L1421.5,369.3 L1422.2,369.4 L1422.9,369.5 L1423.5,369.5 L1424.2,369.6 L1424.9,369.7 L1425.5,369.8 L1426.2,369.8 L1426.9,369.9 L1427.5,370.0 L1428.2,370.0 L1428.9,370.1 L1429.5,370.2 L1430.2,370.3 L1430.9,370.3 L1431.5,370.4 L1432.2,370.5 L1432.9,370.5 L1433.5,370.6 L1434.2,370.7 L1434.9,370.7 L1435.5,370.8 L1436.2,370.8 L1436.9,370.9 L1437.5,371.0 L1438.2,371.0 L1438.9,371.1 L1439.5,371.2 L1440.2,371.2 L1440.9,371.3 L1441.5,371.3 L1442.2,371.4 L1442.9,371.4 L1443.5,371.5 L1444.2,371.6 L1444.9,371.6 L1445.5,371.7 L1446.2,371.7 L1446.9,371.8 L1447.5,371.8 L1448.2,371.9 L1448.9,371.9 L1449.5,372.0 L1450.2,372.0 L1450.9,372.1 L1451.5,372.1 L1452.2,372.2 L1452.9,372.2 L1453.5,372.3 L1454.2,372.3 L1454.9,372.4 L1455.5,372.4 L1456.2,372.5 L1456.9,372.5 L1457.5,372.6 L1458.2,372.6 L1458.9,372.7 L1459.5,372.7 L1460.2,372.7 L1460.9,372.8 L1461.5,372.8 L1462.2,372.9 L1462.9,372.9 L1463.5,373.0 L1464.2,373.0 L1464.9,373.0 L1465.5,373.1 L1466.2,373.1 L1466.9,373.2 L1467.5,373.2 L1468.2,373.2 L1468.9,373.3 L1469.5,373.3 L1470.2,373.4 L1470.9,373.4 L1471.5,373.4 L1472.2,373.5 L1472.9,373.5 L1473.5,373.5 L1474.2,373.6 L1474.9,373.6 L1475.5,373.6 L1476.2,373.7 L1476.9,373.7 L1477.5,373.7 L1478.2,373.8 L1478.9,373.8 L1479.5,373.8 L1480.2,373.9 L1480.9,373.9 L1481.5,373.9 L1482.2,374.0 L1482.9,374.0 L1483.5,374.0 L1484.2,374.1 L1484.9,374.1 L1485.5,374.1 L1486.2,374.1 L1486.9,374.2 L1487.5,374.2 L1488.2,374.2 L1488.9,374.3 L1489.5,374.3 L1490.2,374.3 L1490.9,374.3 L1491.5,374.4 L1492.2,374.4 L1492.9,374.4 L1493.5,374.5 L1494.2,374.5 L1494.9,374.5 L1495.5,374.5 L1496.2,374.6 L1496.9,374.6 L1497.5,374.6 L1498.2,374.6 L1498.9,374.7 L1499.5,374.7 L1500.2,374.7 L1500.9,374.7 L1501.5,374.7 L1502.2,374.8 L1502.9,374.8 L1503.5,374.8 L1504.2,374.8 L1504.9,374.9 L1505.5,374.9 L1506.2,374.9 L1506.9,374.9 L1507.5,374.9 L1508.2,375.0 L1508.9,375.0 L1509.5,375.0 L1510.2,375.0 L1510.9,375.0 L1511.5,375.1 L1512.2,375.1 L1512.9,375.1 L1513.5,375.1 L1514.2,375.1 L1514.9,375.2 L1515.5,375.2 L1516.2,375.2 L1516.9,375.2 L1517.5,375.2 L1518.2,375.3 L1518.9,375.3 L1519.5,375.3 L1520.2,375.3 L1520.9,375.3 L1521.5,375.3 L1522.2,375.4 L1522.8,375.4 L1523.5,375.4 L1524.2,375.4 L1524.8,375.4 L1525.5,375.4 L1526.2,375.4 L1526.8,375.5 L1527.5,375.5 L1528.2,375.5 L1528.8,375.5 L1529.5,375.5 L1530.2,375.5 L1530.8,375.6 L1531.5,375.6 L1532.2,375.6 L1532.8,375.6 L1533.5,375.6 L1534.2,375.6 L1534.8,375.6 L1535.5,375.7 L1536.2,375.7 L1536.8,375.7 L1537.5,375.7 L1538.2,375.7 L1538.8,375.7 L1539.5,375.7 L1540.2,375.7 L1540.8,375.8 L1541.5,375.8 L1542.2,375.8 L1542.8,375.8 L1543.5,375.8 L1544.2,375.8 L1544.8,375.8 L1545.5,375.8 L1546.2,375.8 L1546.8,375.9 L1547.5,375.9 L1548.2,375.9 L1548.8,375.9 L1549.5,375.9 L1550.2,375.9 L1550.8,375.9 L1551.5,375.9 L1552.2,375.9 L1552.8,376.0 L1553.5,376.0 L1554.2,376.0 L1554.8,376.0 L1555.5,376.0 L1556.2,376.0 L1556.8,376.0 L1557.5,376.0 L1558.2,376.0 L1558.8,376.0 L1559.5,376.1 L1560.2,376.1 L1560.8,376.1 L1561.5,376.1 L1562.2,376.1 L1562.8,376.1 L1563.5,376.1 L1564.2,376.1 L1564.8,376.1 L1565.5,376.1 L1566.2,376.1 L1566.8,376.1 L1567.5,376.2 L1568.2,376.2 L1568.8,376.2 L1569.5,376.2 L1570.2,376.2 L1570.8,376.2 L1571.5,376.2 L1572.2,376.2 L1572.8,376.2 L1573.5,376.2 L1574.2,376.2 L1574.8,376.2 L1575.5,376.2" fill="none" stroke="#ff0000" stroke-width="3.50" stroke-linejoin="round" stroke-dasharray="5.6 4.3 11.8 4.3"/>
<rect x="975.3" y="2" width="664.7" height="598.4" fill="none" stroke="black" stroke-width="4"/>
<path d="M1041.70,598.4 v-7 M1148.20,598.4 v-7 M1254.70,598.4 v-7 M1361.20,598.4 v-7 M1467.70,598.4 v-7 M1574.20,598.4 v-7 M977.3,549.30 h8 M977.3,375.50 h8 M977.3,201.70 h8 M977.3,27.90 h8" stroke="black" stroke-width="4" fill="none"/>
<text x="1041.70" y="643.30" font-family="'Liberation Sans', Arial, Helvetica, sans-serif" font-size="40" text-anchor="middle">10<tspan dy="-15.4" font-size="29">&#8722;4</tspan></text>
<text x="1148.20" y="643.30" font-family="'Liberation Sans', Arial, Helvetica, sans-serif" font-size="40" text-anchor="middle">10<tspan dy="-15.4" font-size="29">&#8722;3</tspan></text>
<text x="1254.70" y="643.30" font-family="'Liberation Sans', Arial, Helvetica, sans-serif" font-size="40" text-anchor="middle">10<tspan dy="-15.4" font-size="29">&#8722;2</tspan></text>
<text x="1361.20" y="643.30" font-family="'Liberation Sans', Arial, Helvetica, sans-serif" font-size="40" text-anchor="middle">10<tspan dy="-15.4" font-size="29">&#8722;1</tspan></text>
<text x="1467.70" y="643.30" font-family="'Liberation Sans', Arial, Helvetica, sans-serif" font-size="40" text-anchor="middle">10<tspan dy="-15.4" font-size="29">0</tspan></text>
<text x="1574.20" y="643.30" font-family="'Liberation Sans', Arial, Helvetica, sans-serif" font-size="40" text-anchor="middle">10<tspan dy="-15.4" font-size="29">1</tspan></text>
<text x="969.00" y="563.00" font-family="'Liberation Sans', Arial, Helvetica, sans-serif" font-size="40" text-anchor="end">10<tspan dy="-15.4" font-size="29">&#8722;1</tspan></text>
<text x="969.00" y="389.20" font-family="'Liberation Sans', Arial, Helvetica, sans-serif" font-size="40" text-anchor="end">10<tspan dy="-15.4" font-size="29">0</tspan></text>
<text x="969.00" y="215.40" font-family="'Liberation Sans', Arial, Helvetica, sans-serif" font-size="40" text-anchor="end">10<tspan dy="-15.4" font-size="29">1</tspan></text>
<text x="969.00" y="41.60" font-family="'Liberation Sans', Arial, Helvetica, sans-serif" font-size="40" text-anchor="end">10<tspan dy="-15.4" font-size="29">2</tspan></text>
<text x="1307.5" y="701.5" font-family="'Liberation Sans', Arial, Helvetica, sans-serif" font-size="42" text-anchor="middle">t(s)</text>
<text transform="translate(868.9,301) rotate(-90)" font-family="'Liberation Sans', Arial, Helvetica, sans-serif" font-size="40" text-anchor="middle">R(t)</text>
<text x="1106.20" y="65.60" font-family="'Liberation Sans', Arial, sans-serif" font-size="42.0" fill="black">(</text>
<text x="1117.59" y="65.60" font-family="'Liberation Sans', Arial, sans-serif" font-size="42.0" fill="black">b</text>
<text x="1142.55" y="65.60" font-family="'Liberation Sans', Arial, sans-serif" font-size="42.0" fill="black">)</text>
<text x="1228" y="77.5" font-family="'Liberation Sans', Arial, Helvetica, sans-serif" font-size="32">loading</text>
<text x="1483.5" y="77.5" font-family="'Liberation Sans', Arial, Helvetica, sans-serif" font-size="32">dwell</text>
<line x1="1038.3" y1="94.8" x2="1072.9" y2="134.1" stroke="black" stroke-width="4"/>
<text transform="translate(1015.5,107.5) rotate(48.6)" font-family="'Liberation Serif', 'Times New Roman', serif" font-size="26.5"><tspan font-style="italic">&#945;</tspan> = 0.75</text>
<line x1="1529.2" y1="388.2" x2="1577.9" y2="388.2" stroke="black" stroke-width="3.6"/>
<text x="1525.72" y="418.10" font-family="'Liberation Serif', 'Times New Roman', serif" font-size="26.0" fill="black" font-style="italic">β</text>
<text transform="scale(1.180,1)" x="1309.96" y="420.60" font-family="'Liberation Serif', 'Times New Roman', serif" font-size="28.0" fill="black">=</text>
<text x="1569.97" y="418.10" font-family="'Liberation Serif', 'Times New Roman', serif" font-size="27.0" fill="black">0</text>
<line x1="1529.5" y1="528.9" x2="1577.8" y2="543.5" stroke="black" stroke-width="4"/>
<text transform="translate(1516,552.5) rotate(16)" font-family="'Liberation Serif', 'Times New Roman', serif" font-size="26" font-style="italic">&#946; = 0.2</text>
<path d="M1110.6,502 H1092.7 V591" fill="none" stroke="black" stroke-width="4"/>
<path d="M1082.4,577.9 L1092.7,591.6 L1101.5,577.9" fill="none" stroke="black" stroke-width="4"/>
<text x="1114.86" y="513.50" font-family="'DejaVu Serif', serif" font-size="40.0" fill="black" font-style="italic">f</text>
<text x="1136.56" y="498.90" font-family="'Liberation Serif', 'Times New Roman', serif" font-size="29.0" fill="black">−</text>
<text x="1157.05" y="498.90" font-family="'Liberation Serif', 'Times New Roman', serif" font-size="29.0" fill="black">1</text>
<text x="1131.83" y="527.60" font-family="'Liberation Serif', 'Times New Roman', serif" font-size="30.0" fill="black" font-style="italic">sampling</text>
<path d="M1412.1,538.4 H1467.2 V583" fill="none" stroke="black" stroke-width="4"/>
<path d="M1458.5,568.9 L1467.2,584.4 L1476.8,568.9" fill="none" stroke="black" stroke-width="4"/>
<text x="1332.24" y="546.00" font-family="'Liberation Serif', 'Times New Roman', serif" font-size="40.0" fill="black">(</text>
<text x="1345.64" y="546.00" font-family="'Liberation Serif', 'Times New Roman', serif" font-size="40.0" fill="black">2</text>
<text x="1363.96" y="546.00" font-family="'DejaVu Serif', serif" font-size="40.0" fill="black" font-style="italic">f</text>
<text x="1377.93" y="557.00" font-family="'Liberation Serif', 'Times New Roman', serif" font-size="29.0" fill="black" font-style="italic">z</text>
<text x="1389.71" y="546.00" font-family="'Liberation Serif', 'Times New Roman', serif" font-size="40.0" fill="black">)</text>
<text x="1404.36" y="530.20" font-family="'Liberation Serif', 'Times New Roman', serif" font-size="29.0" fill="black">−</text>
<text x="1425.05" y="530.20" font-family="'Liberation Serif', 'Times New Roman', serif" font-size="29.0" fill="black">1</text></svg>
</body></html>
